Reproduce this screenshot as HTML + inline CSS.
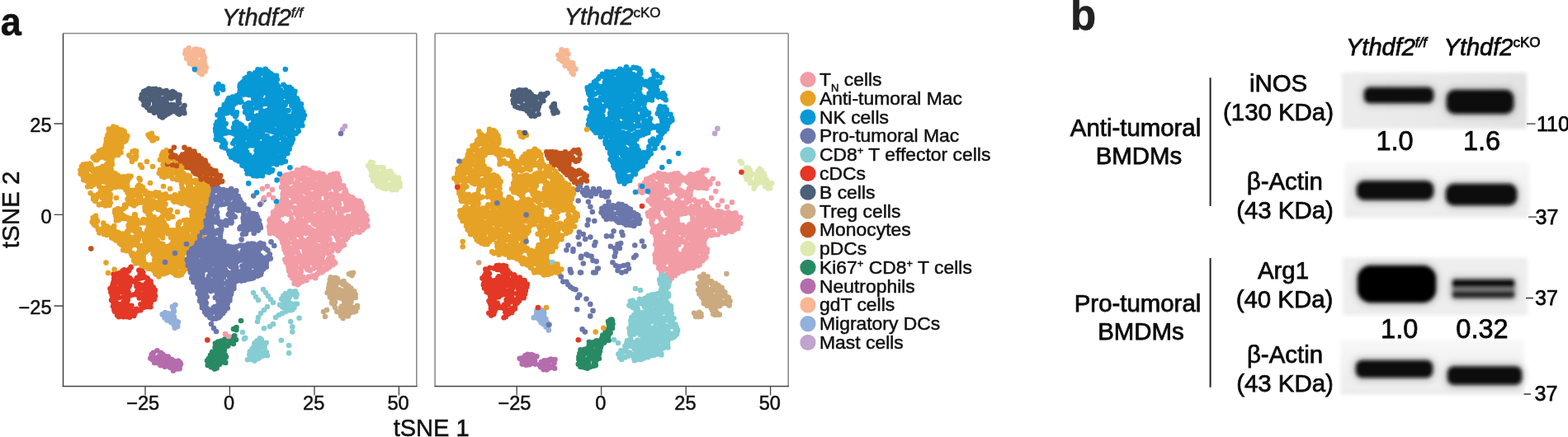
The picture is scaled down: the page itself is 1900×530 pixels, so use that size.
<!DOCTYPE html>
<html><head><meta charset="utf-8"><title>Figure</title>
<style>html,body{margin:0;padding:0;background:#fff;width:1900px;height:530px;overflow:hidden}svg{display:block}</style>
</head><body>
<svg width="1900" height="530" viewBox="0 0 1900 530">
<rect width="1900" height="530" fill="#fff"/>
<text transform="translate(0.8 43.3) scale(0.94 1)" font-size="48" font-weight="bold" fill="#111" font-family="'Liberation Sans', Arial, Helvetica, sans-serif" stroke="#111" stroke-width="0.5">a</text>
<text x="1297" y="36" font-size="51" font-weight="bold" fill="#222" font-family="'Liberation Sans', Arial, Helvetica, sans-serif" stroke="#111" stroke-width="0.5">b</text>
<line x1="76.5" y1="40.5" x2="504.8" y2="40.5" stroke="#8a8a8a" stroke-width="1.5"/>
<line x1="504.8" y1="40.5" x2="504.8" y2="468.4" stroke="#858585" stroke-width="1.5"/>
<line x1="76.5" y1="40.5" x2="76.5" y2="468.4" stroke="#444" stroke-width="1.5"/>
<line x1="75.75" y1="468.4" x2="505.55" y2="468.4" stroke="#444" stroke-width="1.5"/>
<line x1="527.1" y1="40.5" x2="955.2" y2="40.5" stroke="#8a8a8a" stroke-width="1.5"/>
<line x1="955.2" y1="40.5" x2="955.2" y2="468.4" stroke="#858585" stroke-width="1.5"/>
<line x1="527.1" y1="40.5" x2="527.1" y2="468.4" stroke="#858585" stroke-width="1.5"/>
<line x1="526.35" y1="468.4" x2="955.95" y2="468.4" stroke="#444" stroke-width="1.5"/>
<path d="M65.5 150.0H76.5M65.5 260.4H76.5M65.5 371.0H76.5M176.0 468.4V479.5M626.2 468.4V479.5M278.4 468.4V479.5M728.6 468.4V479.5M381.0 468.4V479.5M831.2 468.4V479.5M483.4 468.4V479.5M933.6 468.4V479.5" stroke="#444" stroke-width="1.3" fill="none"/>
<g font-family="'Liberation Sans', Arial, Helvetica, sans-serif" stroke="#111" stroke-width="0.5" font-size="23.6" fill="#111">
<text x="62.6" y="159.8" text-anchor="end">25</text>
<text x="62.6" y="270.5" text-anchor="end">0</text>
<text x="62.6" y="381.0" text-anchor="end">−25</text>
<text x="173.2" y="497.3" text-anchor="middle">−25</text>
<text x="623.4" y="497.3" text-anchor="middle">−25</text>
<text x="277.6" y="497.3" text-anchor="middle">0</text>
<text x="727.8" y="497.3" text-anchor="middle">0</text>
<text x="380.2" y="497.3" text-anchor="middle">25</text>
<text x="830.4" y="497.3" text-anchor="middle">25</text>
<text x="482.6" y="497.3" text-anchor="middle">50</text>
<text x="932.8" y="497.3" text-anchor="middle">50</text>
</g>
<text x="522.6" y="529.3" font-size="29" text-anchor="middle" fill="#111" font-family="'Liberation Sans', Arial, Helvetica, sans-serif" stroke="#111" stroke-width="0.5">tSNE 1</text>
<text transform="translate(22.6 254.4) rotate(-90)" font-size="29.5" text-anchor="middle" fill="#111" font-family="'Liberation Sans', Arial, Helvetica, sans-serif" stroke="#111" stroke-width="0.5">tSNE 2</text>
<text x="269" y="30.5" font-size="29" font-style="italic" fill="#222" font-family="'Liberation Sans', Arial, Helvetica, sans-serif" stroke="#111" stroke-width="0.5">Ythdf2<tspan font-size="17" dy="-9.8">f/f</tspan></text>
<text x="683.7" y="30.4" font-size="29" font-style="italic" fill="#222" font-family="'Liberation Sans', Arial, Helvetica, sans-serif" stroke="#111" stroke-width="0.5">Ythdf2<tspan font-size="17" font-style="normal" dy="-9.8">cKO</tspan></text>
<g fill="none" stroke-width="6.60" stroke-linecap="round">
<path stroke="#e6a225" d="M150.8 164.6h0M112.9 220.6h0M136.8 217.7h0M170.7 242.2h0M233.7 280.4h0M138.2 221.1h0M181.3 295.3h0M226.6 288.2h0M132.8 248.3h0M101.3 205.4h0M137.9 279.7h0M248.5 235.6h0M248.3 220.8h0M131.8 196.0h0M128.0 191.9h0M195.8 317.1h0M230.1 241.4h0M200.4 299.0h0M215.8 241.2h0M149.6 299.2h0M250.9 226.4h0M180.3 323.1h0M165.6 312.0h0M189.3 317.8h0M176.4 250.8h0M124.2 240.3h0M184.9 296.2h0M185.9 291.9h0M241.5 234.9h0M194.0 246.1h0M178.0 279.8h0M207.7 312.8h0M185.6 324.8h0M108.3 198.5h0M221.1 316.5h0M160.0 242.8h0M122.4 232.8h0M127.9 212.5h0M195.8 247.3h0M221.8 329.9h0M139.7 178.5h0M187.3 281.1h0M197.4 299.3h0M168.8 216.2h0M184.5 321.8h0M139.3 178.4h0M217.3 207.3h0M136.5 157.9h0M126.9 240.6h0M226.7 232.9h0M175.3 305.3h0M159.2 246.3h0M137.4 184.5h0M234.9 275.8h0M121.8 235.4h0M251.1 253.6h0M145.9 219.3h0M172.1 245.6h0M128.7 246.0h0M189.7 250.4h0M215.8 273.4h0M210.4 313.3h0M158.6 213.8h0M238.3 268.0h0M213.2 301.2h0M176.8 305.3h0M224.4 303.8h0M189.4 315.7h0M205.1 279.9h0M133.3 160.8h0M117.9 220.1h0M185.4 268.1h0M196.1 277.6h0M223.3 289.7h0M176.6 251.4h0M213.7 200.5h0M108.6 202.9h0M214.1 330.7h0M214.7 209.9h0M106.4 203.5h0M203.4 279.7h0M204.0 207.5h0M178.7 238.7h0M237.5 281.7h0M119.1 217.0h0M243.7 283.4h0M140.5 163.9h0M196.9 319.4h0M246.0 254.0h0M216.2 271.1h0M142.2 164.0h0M144.0 288.1h0M200.9 209.3h0M123.4 184.3h0M151.1 171.6h0M187.2 314.7h0M162.5 249.4h0M156.6 216.0h0M106.7 205.1h0M176.7 268.4h0M160.2 235.4h0M238.9 240.3h0M179.7 277.8h0M199.2 209.8h0M197.7 280.8h0M180.0 260.0h0M237.0 240.7h0M134.1 199.6h0M145.6 159.1h0M202.7 321.6h0M132.8 161.3h0M205.1 190.8h0M223.2 288.1h0M132.2 230.2h0M202.3 325.8h0M120.0 225.9h0M156.1 214.8h0M141.2 218.4h0M153.4 302.9h0M227.2 233.0h0M127.4 220.7h0M215.3 316.8h0M248.7 266.1h0M138.4 284.1h0M242.2 269.2h0M165.0 243.9h0M224.1 288.0h0M227.3 294.2h0M147.5 220.3h0M136.0 166.8h0M138.8 170.3h0M195.2 276.4h0M215.4 307.5h0M225.0 272.7h0M172.1 302.5h0M103.2 208.0h0M115.7 189.3h0M251.1 260.1h0M244.3 222.1h0M234.2 236.0h0M191.4 266.7h0M131.3 221.5h0M119.2 191.9h0M200.2 191.8h0M204.4 188.5h0M122.8 280.2h0M146.4 257.1h0M198.4 318.8h0M155.6 245.9h0M120.0 206.1h0M179.5 321.6h0M128.1 178.0h0M243.7 224.9h0M240.2 266.7h0M161.0 307.4h0M131.4 227.1h0M211.8 316.5h0M191.9 254.1h0M196.3 210.3h0M163.4 260.0h0M164.3 273.7h0M167.7 234.0h0M217.9 295.4h0M213.1 295.0h0M212.9 301.7h0M221.8 322.5h0M107.2 218.3h0M176.5 320.6h0M129.9 202.5h0M204.6 316.2h0M235.3 255.0h0M188.8 313.9h0M223.3 202.8h0M154.0 292.7h0M198.2 332.1h0M189.7 274.5h0M113.7 219.4h0M195.8 240.6h0M135.5 182.0h0M177.2 270.6h0M221.0 283.8h0M215.0 238.9h0M132.7 174.1h0M133.7 162.2h0M150.0 290.0h0M207.1 307.2h0M214.8 325.1h0M215.1 214.0h0M196.8 279.8h0M171.3 306.2h0M207.5 309.4h0M166.2 285.5h0M207.4 287.7h0M154.5 302.2h0M113.8 192.2h0M197.4 303.6h0M197.0 206.9h0M100.1 201.3h0M141.6 283.9h0M249.7 245.8h0M166.0 294.2h0M217.7 331.0h0M174.8 298.5h0M126.1 244.1h0M114.3 269.7h0M207.4 296.7h0M129.5 202.5h0M239.7 245.3h0M181.1 290.9h0M216.2 271.4h0M123.7 234.1h0M116.8 238.3h0M127.2 209.4h0M208.3 306.9h0M136.1 213.9h0M112.9 224.3h0M113.8 192.3h0M160.1 297.4h0M197.1 238.5h0M161.0 288.4h0M240.8 232.5h0M187.8 289.9h0M211.4 313.5h0M219.6 281.1h0M232.0 277.4h0M220.9 283.4h0M164.0 237.0h0M203.9 322.5h0M125.9 272.9h0M246.0 248.6h0M182.6 284.2h0M178.0 270.1h0M130.1 278.3h0M159.1 292.3h0M163.5 280.8h0M245.9 250.0h0M225.2 269.3h0M226.7 302.0h0M229.0 219.0h0M164.4 188.6h0M164.8 269.8h0M200.8 200.1h0M193.3 295.7h0M202.8 315.9h0M221.8 306.0h0M128.1 279.8h0M181.0 288.6h0M166.4 313.9h0M134.0 180.2h0M174.7 244.8h0M202.3 306.3h0M156.3 230.5h0M197.8 269.6h0M205.1 322.7h0M177.8 242.3h0M180.2 293.8h0M130.2 233.4h0M228.1 227.8h0M144.3 260.6h0M197.5 296.2h0M237.3 253.3h0M104.7 209.2h0M242.9 264.6h0M241.1 265.2h0M194.6 267.9h0M204.8 193.4h0M219.6 319.6h0M227.3 296.6h0M198.6 323.1h0M242.5 235.5h0M190.7 323.8h0M252.4 240.7h0M199.0 193.4h0M210.0 309.0h0M196.5 282.7h0M146.2 286.4h0M166.4 276.9h0M158.0 296.6h0M208.3 304.0h0M149.5 264.1h0M164.8 314.9h0M192.3 316.3h0M163.8 260.7h0M205.4 319.5h0M151.8 170.5h0M184.6 298.6h0M193.1 277.1h0M222.4 237.9h0M188.7 316.5h0M237.2 249.0h0M126.8 189.8h0M125.5 281.3h0M160.7 248.2h0M113.7 269.0h0M234.2 242.6h0M137.1 162.0h0M128.7 187.7h0M198.4 327.2h0M132.0 162.1h0M137.4 218.5h0M221.5 282.8h0M216.5 324.1h0M204.2 208.9h0M190.6 291.5h0M113.5 213.4h0M137.6 177.5h0M134.6 180.9h0M119.0 235.6h0M168.6 216.3h0M227.3 241.1h0M132.0 165.4h0M121.5 203.9h0M230.0 215.3h0M202.8 193.2h0M112.3 207.2h0M212.0 208.0h0M224.8 216.5h0M126.3 233.5h0M193.3 244.3h0M193.9 282.5h0M225.4 215.5h0M241.2 240.9h0M157.3 290.3h0M248.1 244.2h0M178.2 250.6h0M207.7 190.3h0M188.2 249.2h0M234.7 284.1h0M175.1 245.2h0M141.2 177.1h0M190.7 310.0h0M220.0 216.1h0M134.9 215.4h0M224.4 319.3h0M165.5 246.0h0M245.4 269.1h0M198.6 203.0h0M204.4 204.4h0M182.8 321.4h0M248.4 247.6h0M187.2 272.1h0M194.0 239.5h0M132.0 247.3h0M185.1 243.6h0M235.0 234.3h0M166.6 287.4h0M121.3 215.8h0M194.6 308.0h0M214.0 288.9h0M217.3 240.6h0M221.3 282.6h0M221.1 312.1h0M168.5 237.5h0M211.5 207.9h0M221.6 308.0h0M176.0 235.0h0M126.0 209.9h0M186.4 244.6h0M178.9 248.2h0M112.5 222.5h0M187.9 313.4h0M249.8 242.7h0M166.6 267.5h0M180.9 301.9h0M123.9 212.4h0M238.7 279.2h0M237.7 230.9h0M121.6 207.3h0M178.0 246.0h0M126.7 188.0h0M196.7 263.6h0M162.1 296.8h0M202.8 190.5h0M175.8 254.7h0M179.7 303.2h0M194.0 300.2h0M219.0 213.2h0M123.7 203.1h0M168.2 224.5h0M189.2 327.8h0M166.5 266.7h0M136.4 163.1h0M192.4 327.8h0M135.4 225.3h0M173.6 297.7h0M135.4 186.4h0M127.1 206.2h0M134.4 161.5h0M111.5 203.7h0M152.8 285.1h0M239.5 260.8h0M178.2 252.8h0M157.9 273.4h0M143.9 167.0h0M117.8 204.9h0M162.3 273.7h0M231.1 218.5h0M196.5 187.9h0M213.2 283.3h0M122.5 190.8h0M144.9 223.7h0M103.1 211.1h0M198.0 187.5h0M165.8 278.2h0M229.1 294.8h0M142.2 162.9h0M104.3 199.1h0M215.4 304.2h0M141.4 171.4h0M246.9 231.4h0M244.3 279.6h0M214.0 304.4h0M196.4 236.6h0M164.8 247.2h0M208.3 300.1h0M106.2 219.5h0M162.1 191.4h0M178.6 235.2h0M245.2 218.4h0M183.8 291.9h0M191.8 238.1h0M218.3 304.7h0M115.0 207.2h0M106.4 205.7h0M128.1 281.4h0M252.3 256.5h0M242.6 271.1h0M196.4 323.4h0M200.3 200.4h0M135.8 180.1h0M228.5 288.7h0M227.7 212.8h0M134.8 162.6h0M186.7 268.2h0M226.8 282.1h0M175.2 245.0h0M121.8 209.1h0M221.6 231.7h0M202.5 303.7h0M249.3 266.7h0M204.1 264.7h0M143.9 257.9h0M247.9 241.6h0M199.5 209.0h0M238.0 253.8h0M137.0 172.3h0M166.5 310.5h0M184.1 283.7h0M249.1 256.4h0M134.4 222.1h0M130.6 209.1h0M237.7 266.9h0M235.1 256.4h0M151.0 292.5h0M204.7 303.7h0M116.3 222.3h0M213.7 325.7h0M183.9 299.6h0M127.5 235.5h0M235.6 252.0h0M206.2 300.5h0M230.8 225.9h0M235.3 265.0h0M108.9 214.4h0M123.7 220.1h0M149.8 158.9h0M203.2 204.2h0M185.7 293.8h0M235.2 294.4h0M197.2 269.3h0M245.7 277.7h0M145.0 292.5h0M106.4 215.8h0M168.7 235.3h0M242.9 260.1h0M188.9 332.8h0M153.4 294.5h0M164.7 311.3h0M137.7 159.3h0M122.9 203.4h0M192.4 310.6h0M199.6 190.6h0M213.2 328.4h0M235.6 270.3h0M148.6 289.9h0M243.6 256.6h0M194.2 285.4h0M149.0 172.0h0M225.9 231.3h0M182.2 261.0h0M184.8 273.4h0M214.3 201.6h0M209.6 292.5h0M219.9 210.8h0M219.3 330.9h0M179.8 324.4h0M245.8 220.9h0M120.5 187.1h0M213.8 320.9h0M252.6 244.9h0M223.8 237.9h0M160.6 310.6h0M246.7 268.0h0M132.4 200.5h0M133.5 191.7h0M217.2 270.8h0M216.0 303.2h0M141.6 214.8h0M173.8 315.4h0M122.5 278.0h0M191.6 236.7h0M188.7 314.0h0M154.0 295.4h0M144.0 159.6h0M210.4 313.8h0M115.9 242.8h0M125.2 278.4h0M242.5 218.0h0M236.9 286.7h0M140.1 187.1h0M138.8 167.6h0M183.1 253.9h0M235.4 284.3h0M193.2 321.8h0M128.3 176.1h0M230.5 296.2h0M206.9 213.5h0M199.3 253.9h0M232.2 246.9h0M180.3 265.4h0M204.2 213.1h0M196.6 252.8h0M171.9 284.9h0M179.6 240.9h0M131.9 180.7h0M243.9 250.3h0M179.9 250.0h0M169.8 270.4h0M157.3 304.8h0M113.1 219.3h0M172.7 298.7h0M155.6 216.3h0M210.7 204.6h0M197.7 309.6h0M128.8 231.3h0M209.8 208.3h0M161.5 271.7h0M225.4 218.5h0M149.1 167.9h0M180.2 244.5h0M170.2 238.3h0M230.0 229.8h0M171.9 315.3h0M166.6 243.5h0M178.0 303.5h0M218.8 293.6h0M209.6 242.0h0M163.1 260.2h0M104.9 209.9h0M170.4 243.1h0M242.6 255.2h0M104.9 211.7h0M167.4 313.1h0M243.1 256.1h0M221.2 326.2h0M162.6 273.7h0M157.1 270.4h0M245.8 249.8h0M142.9 217.8h0M215.8 244.5h0M173.7 310.6h0M191.6 252.4h0M191.8 329.1h0M144.1 167.7h0M184.3 296.9h0M191.3 238.2h0M152.8 222.6h0M202.0 184.7h0M235.3 241.5h0M175.5 251.6h0M115.5 239.3h0M128.2 227.8h0M129.1 178.0h0M174.3 297.4h0M187.3 279.1h0M191.2 296.2h0M194.9 279.6h0M226.0 216.7h0M225.4 238.2h0M245.9 229.3h0M172.9 244.6h0M220.4 318.5h0M230.9 296.6h0M240.3 289.2h0M228.8 299.4h0M227.7 296.3h0M249.2 250.8h0M133.6 190.8h0M174.9 318.5h0M205.5 282.9h0M159.0 296.1h0M222.7 278.0h0M200.3 305.6h0M150.7 262.2h0M229.4 297.8h0M225.7 230.5h0M192.7 237.5h0M195.0 207.7h0M110.8 203.9h0M201.6 300.3h0M126.0 204.0h0M248.7 220.4h0M193.6 315.9h0M159.4 245.0h0M248.4 246.3h0M168.9 300.7h0M136.6 218.5h0M233.6 247.6h0M238.6 275.0h0M179.6 276.9h0M240.7 244.8h0M167.8 290.3h0M238.1 286.3h0M159.0 289.6h0M198.6 205.7h0M217.7 207.5h0M224.5 276.8h0M209.4 279.4h0M140.8 184.3h0M188.0 303.7h0M222.7 217.6h0M146.3 164.8h0M144.0 224.1h0M126.5 210.8h0M168.2 305.7h0M216.9 239.7h0M185.4 275.8h0M216.2 204.7h0M216.3 277.1h0M114.5 210.4h0M199.1 329.1h0M197.3 279.6h0M224.6 218.1h0M181.2 248.9h0M203.0 317.3h0M118.0 216.1h0M202.7 259.1h0M221.9 306.0h0M216.4 245.2h0M214.6 302.8h0M199.7 313.2h0M140.4 167.3h0M192.5 303.4h0M132.3 172.1h0M224.0 219.9h0M229.8 213.7h0M184.8 300.4h0M196.7 285.5h0M168.8 278.0h0M178.7 234.1h0M128.2 281.7h0M128.0 203.0h0M185.7 281.3h0M211.4 284.6h0M138.7 219.1h0M224.4 237.0h0M172.3 303.0h0M186.2 246.5h0M130.0 200.5h0M209.4 325.2h0M252.3 233.7h0M228.5 296.5h0M237.8 251.2h0M108.1 213.3h0M195.9 314.4h0M173.7 270.2h0M129.5 199.0h0M240.5 224.0h0M116.8 191.1h0M197.7 282.3h0M203.5 283.5h0M206.6 240.0h0M133.1 225.7h0M221.8 303.3h0M197.3 288.5h0M131.7 276.0h0M244.4 270.0h0M122.6 247.3h0M185.0 302.9h0M176.5 266.7h0M191.1 299.0h0M228.4 301.1h0M199.9 192.4h0M251.7 253.4h0M212.6 308.0h0M193.0 331.2h0M179.3 237.1h0M161.4 265.1h0M199.7 320.0h0M213.0 298.4h0M204.8 308.0h0M165.1 313.1h0M166.9 282.2h0M216.2 204.5h0M149.0 293.7h0M219.7 315.2h0M181.0 272.1h0M182.2 323.9h0M206.2 329.2h0M99.0 202.0h0M124.8 234.0h0M205.7 279.4h0M215.1 290.6h0M130.0 201.9h0M190.6 273.2h0M191.6 280.2h0M145.0 166.7h0M244.7 216.8h0M203.2 205.1h0M201.4 260.7h0M201.7 187.7h0M252.7 224.1h0M200.3 257.6h0M132.2 166.8h0M154.5 285.1h0M136.7 221.0h0M142.1 223.7h0M198.5 240.0h0M202.1 305.6h0M134.1 160.5h0M169.8 283.1h0M245.3 255.0h0M246.5 249.6h0M134.8 185.9h0M110.0 202.9h0M243.4 238.1h0M129.4 274.4h0M252.9 241.8h0M200.4 247.7h0M192.8 272.3h0M232.8 221.3h0M189.3 324.1h0M160.6 277.3h0M185.9 283.2h0M179.6 259.7h0M134.0 185.3h0M189.7 236.5h0M201.8 309.9h0M246.2 228.5h0M200.4 247.4h0M201.2 260.6h0M223.9 316.8h0M134.3 221.1h0M179.9 277.0h0M195.8 240.0h0M203.4 299.0h0M204.3 282.7h0M199.5 187.6h0M130.9 203.0h0M161.2 230.9h0M246.3 258.9h0M218.4 305.4h0M198.6 269.3h0M208.6 329.0h0M211.9 204.2h0M124.3 280.3h0M138.9 283.1h0M195.8 280.5h0M244.1 256.0h0M223.2 299.4h0M224.3 297.5h0M133.5 172.0h0M202.0 256.8h0M118.7 189.8h0M181.4 285.5h0M131.9 207.5h0M198.3 279.5h0M194.3 317.4h0M129.3 211.1h0M201.9 202.1h0M219.1 303.9h0M210.4 327.6h0M222.8 210.9h0M146.9 284.9h0M202.8 195.1h0M209.8 293.7h0M155.8 235.5h0M169.1 269.7h0M141.0 161.9h0M117.3 239.0h0M195.0 209.1h0M110.4 226.0h0M105.0 207.0h0M170.6 284.0h0M193.0 316.9h0M139.0 221.0h0M161.9 269.5h0M237.5 291.1h0M212.3 290.9h0M227.0 217.3h0M183.7 237.1h0M150.6 296.0h0M220.9 311.6h0M130.8 216.4h0M136.4 173.2h0M148.7 159.9h0M170.1 227.4h0M224.1 326.8h0M238.7 239.8h0M239.5 287.1h0M190.0 304.3h0M179.1 242.2h0M162.9 313.5h0M202.4 192.6h0M154.3 220.5h0M165.4 284.2h0M179.9 302.7h0M221.9 219.3h0M209.4 322.4h0M128.8 209.5h0M149.0 286.9h0M241.2 254.3h0M217.3 311.4h0M177.8 322.9h0M196.9 299.7h0M164.0 263.5h0M163.5 247.5h0M210.5 289.8h0M134.4 201.2h0M192.4 317.8h0M211.1 289.9h0M209.7 283.0h0M246.5 234.8h0M223.2 277.0h0M119.4 237.9h0M150.1 293.0h0M122.4 228.9h0M194.9 209.7h0M125.9 241.5h0M208.0 329.1h0M231.5 286.2h0M242.8 227.4h0M184.7 274.4h0M213.4 325.9h0M119.9 221.0h0M231.9 297.4h0M190.4 277.0h0M101.1 213.3h0M172.9 244.3h0M152.3 250.9h0M244.2 270.1h0M158.2 264.7h0M221.5 202.1h0M122.2 279.3h0M106.0 202.6h0M213.1 284.7h0M184.2 321.0h0M215.4 309.6h0M235.3 290.7h0M191.5 330.8h0M203.5 329.5h0M125.4 182.6h0M152.5 287.8h0M166.5 297.4h0M188.1 236.4h0M236.6 263.3h0M241.9 256.0h0M119.4 186.7h0M157.6 279.4h0M162.5 275.5h0M187.2 286.2h0M221.8 302.9h0M147.3 291.4h0M187.7 318.3h0M140.7 175.6h0M235.0 234.6h0M200.6 205.2h0M225.0 291.6h0M169.2 310.5h0M170.5 239.5h0M210.8 286.3h0M126.3 245.1h0M244.3 240.4h0M240.6 265.4h0M196.9 251.0h0M232.4 234.9h0M224.6 277.8h0M170.3 303.2h0M122.3 278.2h0M171.4 243.9h0M139.3 221.3h0M184.7 292.2h0M237.3 221.3h0M250.1 224.4h0M116.5 206.3h0M196.6 256.4h0M197.4 252.9h0M233.6 275.7h0M154.0 263.9h0M229.5 275.5h0M205.3 321.8h0M190.3 303.4h0M250.1 228.0h0M139.7 181.8h0M200.4 184.2h0M137.3 180.7h0M190.2 299.2h0M203.1 305.3h0M168.6 245.7h0M243.3 263.8h0M109.9 214.8h0M178.0 323.6h0M135.6 183.0h0M241.1 282.2h0M164.8 185.0h0M231.2 271.7h0M214.6 284.1h0M132.1 226.8h0M203.2 195.2h0M160.4 279.0h0M165.1 183.2h0M205.6 280.6h0M188.5 330.8h0M147.9 164.9h0M189.3 285.2h0M155.0 283.3h0M233.9 269.7h0M157.2 275.9h0M234.0 261.0h0M247.1 256.9h0M156.1 247.0h0M202.1 188.5h0M218.9 281.7h0M209.2 302.4h0M173.4 286.7h0M130.6 236.5h0M153.8 290.9h0M200.6 276.8h0M197.6 279.9h0M140.1 166.1h0M249.4 249.6h0M203.1 329.0h0M223.0 287.7h0M209.7 316.2h0M166.5 230.9h0M125.9 183.6h0M166.5 226.7h0M155.8 292.1h0M195.9 189.1h0M147.9 161.7h0M192.3 246.9h0M116.2 193.5h0M223.1 300.9h0M220.2 306.6h0M155.3 233.0h0M177.8 244.0h0M153.6 215.5h0M141.9 170.4h0M248.3 221.6h0M115.0 273.2h0M248.6 220.1h0M201.9 274.7h0M167.6 228.2h0M169.3 304.8h0M156.3 287.1h0M173.5 266.1h0M118.2 210.7h0M194.6 295.4h0M186.7 290.6h0M212.3 203.3h0M122.2 207.8h0M253.8 234.3h0M184.4 265.3h0M207.7 238.6h0M221.5 237.2h0M141.4 289.1h0M132.4 194.3h0M248.1 221.4h0M177.7 245.3h0M215.0 312.7h0M151.9 286.9h0M242.5 240.0h0M177.2 296.7h0M152.9 301.3h0M111.8 204.8h0M197.6 241.9h0M131.4 233.8h0M184.4 263.4h0M220.1 207.7h0M233.6 296.6h0M204.4 301.8h0M166.1 276.3h0M127.0 240.6h0M176.7 305.7h0M220.7 210.3h0M187.7 271.8h0M155.8 241.5h0M184.2 287.0h0M136.2 170.3h0M136.9 170.7h0M155.7 297.0h0M178.0 234.4h0M166.1 293.4h0M228.6 240.8h0M125.1 228.3h0M238.2 228.5h0M201.6 255.8h0M196.3 268.8h0M230.5 239.7h0M117.6 209.2h0M209.8 286.2h0M201.0 273.5h0M148.4 262.6h0M203.1 206.8h0M222.2 210.2h0M183.4 300.5h0M159.5 245.3h0M250.2 224.1h0M199.3 304.9h0M159.2 291.0h0M141.0 174.9h0M166.7 292.4h0M140.6 182.6h0M144.8 260.6h0M144.6 283.9h0M116.9 240.3h0M132.1 169.8h0M227.0 230.2h0M246.6 228.6h0M191.6 310.4h0M211.2 205.1h0M176.7 284.6h0M124.7 201.8h0M170.2 283.5h0M113.4 240.7h0M199.8 278.8h0M249.1 225.5h0M207.2 288.3h0M187.1 247.9h0M254.2 238.9h0M214.6 283.8h0M221.7 240.7h0M146.4 221.4h0M223.5 306.7h0M230.8 275.6h0M123.8 183.2h0M136.9 159.6h0M189.1 245.8h0M250.7 222.1h0M225.2 280.3h0M184.0 301.4h0M187.7 295.3h0M196.4 262.9h0M244.0 221.9h0M113.0 215.1h0M208.8 322.7h0M199.2 274.3h0M167.5 238.2h0M217.3 212.3h0M114.2 266.6h0M205.2 315.7h0M167.5 297.8h0M197.0 186.4h0M162.4 308.0h0M134.5 210.0h0M199.2 246.1h0M148.1 264.3h0M207.5 328.9h0M236.1 274.8h0M244.0 257.1h0M241.7 257.0h0M212.1 329.4h0M195.7 241.1h0M197.4 251.1h0M208.6 325.5h0M199.6 299.1h0M134.6 223.7h0M132.7 281.9h0M180.7 264.1h0M148.4 260.7h0M151.7 299.7h0M219.6 323.4h0M99.8 203.9h0M118.0 209.8h0M226.9 302.8h0M218.4 294.2h0M197.3 304.9h0M205.3 307.8h0M218.3 210.3h0M112.4 205.9h0M219.2 239.1h0M113.7 217.9h0M110.1 199.6h0M202.1 312.3h0M161.7 236.0h0M210.1 296.2h0M181.1 281.0h0M233.8 270.0h0M137.8 173.7h0M176.4 293.4h0M121.7 233.0h0M253.9 241.7h0M238.3 222.8h0M116.4 269.7h0M214.2 321.2h0M201.5 210.5h0M167.6 239.4h0M243.7 241.1h0M242.9 270.3h0M235.2 229.5h0M156.2 304.2h0M171.1 229.1h0M188.2 315.3h0M246.7 269.1h0M189.3 235.6h0M252.6 229.6h0M190.5 252.8h0M151.7 295.9h0M220.6 234.6h0M182.1 251.0h0M202.7 279.1h0M200.6 195.5h0M126.3 187.8h0M226.2 236.7h0M181.3 270.0h0M112.7 215.3h0M210.8 209.4h0M133.7 281.8h0M144.2 285.2h0M152.3 292.0h0M187.7 301.8h0M218.9 211.8h0M184.1 291.1h0M137.9 274.9h0M167.1 287.0h0M202.9 192.2h0M181.7 262.7h0M146.1 216.9h0M112.0 217.9h0M215.7 280.3h0M165.1 316.7h0M145.8 157.6h0M130.5 176.2h0M219.6 285.4h0M229.1 218.2h0M103.4 204.5h0M195.6 310.0h0M116.9 194.3h0M218.1 239.7h0M183.4 324.4h0M219.6 289.9h0M221.1 285.2h0M161.9 290.2h0M157.8 299.6h0M171.6 301.3h0M208.5 286.0h0M243.3 234.0h0M191.2 301.7h0M140.5 160.4h0M130.1 181.5h0M239.2 274.7h0M230.2 286.8h0M175.0 243.5h0M235.8 230.7h0M187.2 315.2h0M177.9 247.4h0M146.5 177.5h0M242.8 242.3h0M236.2 280.6h0M212.6 291.6h0M144.7 286.3h0M191.2 294.7h0M123.4 217.1h0M227.5 299.9h0M130.2 174.4h0M211.6 289.2h0M178.6 256.3h0M242.9 271.8h0M200.9 261.1h0M175.1 291.3h0M164.4 231.0h0M154.2 225.5h0M159.5 235.9h0M134.8 157.9h0M148.2 165.7h0M207.5 298.5h0M202.4 240.3h0M133.1 216.8h0M161.9 267.3h0M239.7 247.8h0M123.1 189.8h0M117.7 193.6h0M219.6 317.6h0M180.1 277.8h0M129.6 187.0h0M107.8 201.9h0M141.2 217.5h0M222.2 297.0h0M207.5 314.3h0M150.9 163.5h0M112.8 190.9h0M198.8 277.8h0M136.1 184.8h0M196.6 273.3h0M178.3 240.8h0M184.6 285.9h0M238.6 239.4h0M205.7 298.0h0M201.3 212.6h0M208.7 298.3h0M217.6 279.8h0M155.7 216.9h0M169.9 301.2h0M178.2 289.3h0M236.8 218.7h0M233.4 291.9h0M184.7 252.2h0M224.7 279.7h0M181.1 293.7h0M239.7 289.6h0M159.9 241.3h0M220.9 277.5h0M145.1 286.8h0M174.0 298.7h0M186.1 299.9h0M210.1 243.2h0M150.4 283.6h0M227.4 222.2h0M145.7 263.6h0M116.4 217.3h0M140.2 165.3h0M203.7 256.1h0M213.4 279.1h0M210.1 239.9h0M139.8 287.8h0M190.3 303.7h0M213.1 332.1h0M137.0 159.8h0M188.4 323.1h0M134.4 282.6h0M169.6 298.1h0M230.5 228.7h0M185.5 307.8h0M243.0 234.2h0M126.2 229.2h0M190.1 331.5h0M132.2 234.2h0M122.6 227.5h0M207.9 213.5h0M112.9 268.0h0M217.1 240.2h0M126.3 238.6h0M196.8 288.0h0M136.1 279.3h0M245.7 233.7h0M200.2 311.0h0M129.1 217.3h0M244.3 275.6h0M197.1 191.6h0M232.6 229.6h0M195.1 252.6h0M144.2 264.8h0M213.5 281.1h0M228.6 276.2h0M196.8 211.4h0M150.8 217.9h0M225.2 297.1h0M252.7 229.8h0M219.1 299.3h0M189.0 332.7h0M219.6 321.9h0M148.3 216.6h0M218.5 215.7h0M162.4 289.1h0M208.2 314.8h0M146.2 177.4h0M197.1 322.9h0M124.1 202.7h0M173.2 318.8h0M188.4 269.8h0M189.6 296.4h0M137.9 223.9h0M213.9 243.8h0M239.6 237.4h0M176.3 256.1h0M115.4 212.6h0M194.9 276.3h0M196.5 266.7h0M124.1 217.5h0M226.7 304.9h0M118.4 205.2h0M198.4 269.8h0M135.2 181.6h0M109.0 218.2h0M237.4 273.2h0M190.6 250.5h0M186.6 263.3h0M246.9 226.3h0M131.9 282.8h0M174.4 232.0h0M208.9 285.5h0M246.0 235.6h0M145.7 174.1h0M124.1 235.0h0M141.4 218.4h0M147.5 288.7h0M175.0 298.3h0M129.5 221.5h0M250.0 234.2h0M188.1 328.4h0M198.6 262.1h0M228.2 215.3h0M181.6 259.9h0M221.0 283.4h0M237.9 219.4h0M225.9 240.0h0M238.2 241.1h0M137.7 182.3h0M187.8 310.4h0M193.5 310.0h0M248.1 262.1h0M189.2 237.9h0M158.4 236.1h0M237.8 236.3h0M113.4 237.2h0M178.9 296.5h0M126.3 205.4h0M108.9 225.1h0M178.6 252.2h0M228.5 279.5h0M105.1 202.6h0M197.8 329.3h0M217.7 240.2h0M115.6 194.0h0M195.8 309.4h0M239.0 256.3h0M193.0 265.6h0M186.5 309.0h0M155.3 233.3h0M198.1 187.8h0M171.9 283.4h0M146.6 262.9h0M227.0 239.2h0M119.9 248.4h0M122.7 247.9h0M127.6 249.4h0M132.5 248.9h0M133.7 246.1h0M132.4 243.6h0M133.6 240.0h0M133.7 236.0h0M132.8 230.1h0M134.8 228.4h0M137.8 224.2h0M140.4 227.0h0M145.0 226.4h0M149.4 227.0h0M152.5 226.8h0M152.4 230.2h0M154.4 233.4h0M156.5 238.4h0M154.6 241.5h0M155.5 246.0h0M151.1 248.5h0M149.9 252.9h0M146.7 254.1h0M143.0 253.1h0M139.3 254.9h0M139.0 257.5h0M140.2 261.2h0M141.0 265.2h0M125.3 270.5h0M118.1 268.0h0M116.7 266.5h0M116.0 261.9h0M112.7 264.1h0M111.7 269.1h0M113.3 271.4h0M116.6 273.9h0M118.9 278.4h0M120.4 282.4h0M125.9 284.0h0M129.2 285.0h0M133.9 285.2h0M135.3 288.5h0M138.9 289.9h0M140.4 291.5h0M144.7 295.0h0M146.9 296.8h0M149.2 303.3h0M153.3 304.2h0M156.8 303.7h0M159.1 307.9h0M160.3 310.6h0M162.1 316.1h0M164.5 319.4h0M169.3 319.2h0M172.0 323.3h0M173.8 324.2h0M179.6 325.7h0M182.6 326.1h0M186.5 328.3h0M188.2 331.6h0M192.4 335.5h0M195.3 332.3h0M199.1 331.9h0M202.4 330.8h0M207.2 329.7h0M210.2 331.1h0M212.8 333.4h0M216.8 334.3h0M219.9 332.9h0M222.3 328.7h0M226.2 326.3h0M225.8 321.7h0M227.0 318.1h0M224.8 315.1h0M230.4 306.8h0M230.5 304.0h0M231.8 299.3h0M234.6 298.0h0M236.5 295.2h0M239.7 292.9h0M242.8 288.9h0M245.3 286.1h0M247.2 283.2h0M248.7 277.8h0M247.5 273.5h0M249.9 270.2h0M251.5 265.8h0M249.7 261.9h0M252.8 258.8h0M254.8 253.6h0M254.1 250.6h0M254.1 245.4h0M253.2 242.3h0M255.8 238.0h0M256.9 233.2h0M257.6 230.8h0M256.5 224.5h0M254.4 221.3h0M249.8 221.6h0M247.0 218.0h0M244.2 213.7h0M221.1 198.2h0M218.2 197.7h0M213.8 198.9h0M211.0 194.1h0M208.4 190.5h0M207.3 187.8h0M205.6 185.6h0M201.7 182.3h0M197.8 184.6h0M195.8 188.6h0M193.9 193.8h0M198.6 196.0h0M197.6 199.8h0M198.2 204.4h0M194.0 206.1h0M192.8 210.0h0M196.0 213.7h0M199.0 214.9h0M203.3 213.5h0M207.5 214.0h0M209.1 216.8h0M214.3 218.0h0M218.2 218.6h0M221.5 218.3h0M219.9 222.9h0M220.6 227.4h0M221.8 233.1h0M218.7 234.2h0M217.1 237.5h0M212.1 236.3h0M208.4 238.7h0M203.8 238.6h0M200.6 235.3h0M197.6 236.6h0M192.5 233.7h0M188.7 233.3h0M184.4 235.0h0M181.4 234.6h0M178.7 234.0h0M175.9 231.5h0M173.0 227.3h0M170.9 225.9h0M169.8 218.3h0M155.5 213.5h0M152.9 214.5h0M149.9 214.2h0M144.7 214.4h0M142.3 212.3h0M138.8 210.1h0M134.3 209.0h0M134.6 205.7h0M135.9 199.6h0M135.6 197.5h0M135.6 192.9h0M135.2 190.0h0M138.2 188.8h0M143.0 188.0h0M146.6 185.1h0M145.2 180.7h0M147.2 178.5h0M147.6 173.9h0M152.3 170.8h0M153.1 168.7h0M154.2 164.9h0M150.7 159.8h0M147.3 157.6h0M143.4 156.9h0M141.2 154.9h0M137.4 153.6h0M131.8 156.6h0M132.0 161.4h0M130.4 164.0h0M128.9 168.6h0M128.7 172.7h0M127.9 176.2h0M127.2 179.4h0M123.1 181.7h0M119.8 183.3h0M116.7 188.2h0M113.1 190.6h0M100.8 199.6h0M99.5 202.2h0M97.5 206.2h0M97.6 210.8h0M100.5 213.5h0M101.2 218.3h0M104.8 219.5h0M107.8 221.5h0M106.2 226.5h0M109.7 234.3h0M113.2 239.2h0M113.1 241.5h0M115.3 243.9h0M211.3 244.8h0M215.5 244.8h0M220.2 246.9h0M222.2 244.4h0M226.5 246.7h0M228.8 248.4h0M232.2 250.2h0M235.0 253.8h0M232.1 256.7h0M232.8 261.6h0M232.7 266.7h0M229.2 267.0h0M226.4 266.8h0M222.9 267.3h0M217.7 269.3h0M209.2 262.9h0M204.7 261.7h0M205.4 258.6h0M206.6 254.7h0M140.8 267.4h0M143.8 266.9h0M147.7 264.9h0M150.7 265.0h0M154.6 265.8h0M157.8 269.8h0M155.6 273.2h0M156.1 277.5h0M154.2 280.9h0M151.1 284.0h0M148.5 283.6h0M143.6 282.0h0M140.4 281.0h0M138.0 277.3h0M138.3 274.1h0M163.9 192.8h0M164.7 188.1h0M163.2 182.8h0M160.5 183.8h0M156.4 188.2h0M158.8 190.8h0"/>
<path stroke="#e6a225" d="M183.5 168.1h0M183.4 163.6h0M182.9 162.6h0M179.6 163.6h0M181.2 166.1h0M184.7 170.4h0M186.3 166.8h0M183.9 161.9h0"/>
<path stroke="#6b76ab" d="M307.3 300.0h0M267.4 354.5h0M292.8 313.6h0M302.5 335.6h0M268.9 322.6h0M278.4 313.6h0M303.3 314.2h0M263.3 243.1h0M237.7 313.6h0M246.6 347.1h0M307.8 304.1h0M261.5 309.6h0M299.9 299.1h0M267.1 294.5h0M250.6 304.6h0M293.5 306.2h0M256.9 314.6h0M243.6 363.3h0M279.3 234.2h0M255.3 309.1h0M317.3 298.4h0M251.5 322.9h0M239.7 310.5h0M301.6 325.8h0M317.8 324.4h0M256.4 302.1h0M314.2 316.8h0M255.9 326.2h0M265.4 303.2h0M280.6 333.9h0M245.1 361.3h0M264.6 379.4h0M236.9 302.7h0M262.6 345.4h0M284.0 311.6h0M303.9 319.0h0M311.7 308.5h0M299.4 320.7h0M290.6 314.5h0M298.7 280.0h0M275.4 303.6h0M278.7 268.9h0M255.0 315.9h0M290.5 245.5h0M279.5 306.5h0M294.4 273.7h0M317.8 326.9h0M310.7 267.1h0M307.2 337.1h0M274.3 371.4h0M322.6 319.0h0M300.7 334.5h0M267.9 307.1h0M296.1 308.9h0M284.8 333.8h0M274.5 239.9h0M253.8 376.2h0M265.1 299.4h0M321.8 314.4h0M253.1 380.3h0M295.1 258.1h0M298.3 278.2h0M280.3 239.6h0M285.6 337.7h0M260.5 345.6h0M283.8 249.0h0M252.2 303.3h0M259.6 314.0h0M266.6 383.2h0M254.1 380.0h0M259.0 294.8h0M259.6 331.5h0M299.5 308.3h0M304.8 334.9h0M234.8 303.8h0M255.0 324.5h0M267.5 300.2h0M281.4 321.4h0M255.6 256.9h0M264.0 371.8h0M253.5 303.0h0M295.5 252.2h0M292.4 275.3h0M250.3 373.6h0M237.9 330.6h0M242.9 333.8h0M294.6 264.4h0M314.0 328.1h0M296.4 326.7h0M305.0 309.7h0M286.5 306.1h0M302.7 312.6h0M255.9 309.9h0M299.2 260.9h0M278.5 320.6h0M278.6 337.3h0M315.0 309.8h0M305.5 336.0h0M259.4 284.0h0M265.0 339.2h0M265.4 367.5h0M242.8 356.2h0M274.1 343.7h0M264.8 228.6h0M248.3 281.8h0M246.0 303.5h0M241.6 331.7h0M295.9 279.9h0M257.4 269.6h0M282.4 235.7h0M256.4 295.1h0M286.6 239.9h0M232.5 315.5h0M306.0 273.1h0M306.0 314.3h0M299.5 308.4h0M303.5 259.2h0M256.0 261.3h0M243.8 343.3h0M232.4 301.9h0M253.8 349.5h0M299.1 336.6h0M291.4 338.3h0M279.5 331.4h0M279.2 350.2h0M276.7 232.7h0M261.5 290.4h0M250.3 277.3h0M273.4 362.4h0M240.9 309.8h0M239.7 318.5h0M268.3 369.5h0M285.6 322.8h0M276.4 350.1h0M281.0 239.3h0M269.7 334.1h0M278.6 354.4h0M250.2 294.3h0M270.5 332.4h0M258.0 311.4h0M280.1 232.4h0M239.5 335.5h0M268.3 242.2h0M271.4 311.5h0M265.8 317.5h0M278.2 347.8h0M266.0 341.1h0M248.2 326.0h0M305.2 330.9h0M236.8 311.0h0M288.1 337.2h0M246.2 318.1h0M294.6 297.8h0M269.6 302.1h0M256.1 255.2h0M314.5 317.4h0M298.4 299.1h0M252.5 317.5h0M232.8 329.1h0M261.9 294.5h0M280.2 317.4h0M248.0 353.4h0M276.2 349.1h0M296.8 315.1h0M241.5 300.8h0M241.9 296.9h0M234.5 324.4h0M285.7 305.2h0M263.1 311.0h0M261.5 386.1h0M276.9 307.2h0M268.4 306.7h0M238.9 347.7h0M279.5 254.3h0M247.5 303.7h0M261.6 375.8h0M238.7 335.0h0M300.7 319.3h0M302.6 302.9h0M247.4 327.7h0M287.0 310.2h0M304.5 312.0h0M259.5 334.2h0M301.9 296.4h0M310.9 334.4h0M301.8 322.6h0M301.5 299.5h0M240.9 316.7h0M254.6 269.4h0M314.5 326.2h0M271.4 299.5h0M257.8 341.0h0M261.0 386.3h0M299.1 278.7h0M271.2 271.3h0M265.7 311.8h0M234.5 328.2h0M267.5 364.4h0M230.4 316.0h0M279.9 263.8h0M292.9 308.6h0M280.0 352.4h0M234.3 313.5h0M284.3 342.1h0M262.2 324.2h0M264.8 311.5h0M276.1 361.3h0M255.1 273.2h0M267.1 331.6h0M277.9 344.1h0M269.1 231.9h0M266.4 318.7h0M261.7 331.2h0M245.7 304.9h0M255.2 317.6h0M296.1 310.1h0M302.2 326.9h0M236.8 332.3h0M276.1 348.6h0M309.5 298.7h0M273.2 306.9h0M296.5 327.6h0M257.4 319.8h0M265.2 378.7h0M241.8 296.4h0M264.3 343.6h0M269.9 330.1h0M241.6 324.9h0M260.2 228.0h0M270.6 298.1h0M259.1 343.2h0M270.0 355.5h0M263.9 352.6h0M294.6 334.9h0M276.5 242.1h0M275.5 317.2h0M307.4 306.4h0M275.3 304.8h0M261.5 351.4h0M265.5 335.0h0M265.6 371.0h0M266.0 283.6h0M271.1 324.0h0M231.9 314.5h0M316.0 318.8h0M299.3 262.2h0M277.6 309.6h0M264.3 305.6h0M287.2 317.4h0M301.2 275.5h0M305.3 306.3h0M316.4 311.3h0M264.2 294.5h0M264.6 282.1h0M269.0 362.8h0M306.1 316.8h0M291.6 275.3h0M266.1 307.2h0M312.2 330.0h0M272.5 329.7h0M263.7 319.3h0M246.7 314.0h0M260.5 269.4h0M265.5 232.6h0M311.3 315.5h0M285.5 336.9h0M259.1 267.6h0M254.9 311.9h0M257.0 287.0h0M294.3 251.5h0M232.9 320.0h0M233.3 334.2h0M296.3 253.1h0M268.8 236.4h0M302.5 329.2h0M285.9 309.0h0M292.9 306.8h0M267.6 361.0h0M258.1 292.3h0M262.4 296.6h0M263.4 353.5h0M247.0 303.7h0M256.5 319.8h0M292.0 335.7h0M258.3 279.9h0M247.8 362.3h0M258.2 305.3h0M279.0 355.3h0M254.4 267.5h0M236.2 316.0h0M238.3 336.9h0M274.7 353.8h0M281.2 321.2h0M272.8 358.0h0M253.4 308.1h0M281.9 320.6h0M312.4 316.3h0M244.7 329.0h0M280.4 268.0h0M243.4 291.5h0M245.0 301.5h0M244.7 344.8h0M236.9 331.2h0M302.8 304.6h0M271.4 309.2h0M263.2 383.0h0M257.2 378.9h0M305.9 322.5h0M235.2 314.3h0M300.6 295.8h0M246.5 295.6h0M296.0 330.8h0M245.1 329.8h0M258.6 377.0h0M256.0 305.0h0M299.5 318.3h0M302.1 314.6h0M266.6 358.8h0M272.4 313.0h0M240.1 332.7h0M247.9 347.7h0M295.9 253.9h0M307.2 303.0h0M265.1 339.8h0M275.1 243.3h0M299.9 261.5h0M290.5 330.2h0M248.1 327.6h0M282.5 325.8h0M246.8 303.6h0M310.6 326.1h0M252.5 280.8h0M275.5 309.4h0M272.9 235.9h0M303.1 258.9h0M259.8 239.7h0M259.8 310.6h0M302.4 308.2h0M284.3 234.4h0M241.8 334.8h0M283.1 322.6h0M264.8 345.2h0M246.4 301.1h0M262.8 325.8h0M296.4 301.1h0M238.0 323.0h0M259.7 348.0h0M243.5 349.5h0M297.3 317.4h0M252.6 337.5h0M307.7 269.9h0M273.6 321.2h0M279.7 250.6h0M233.3 318.4h0M306.8 314.6h0M261.0 230.9h0M244.3 363.1h0M241.9 322.6h0M265.6 334.8h0M303.4 271.9h0M260.8 311.0h0M266.0 292.3h0M298.8 298.2h0M270.7 323.2h0M302.2 268.4h0M268.2 294.0h0M298.1 273.0h0M263.4 307.9h0M251.9 296.0h0M301.9 308.0h0M266.6 316.8h0M282.9 314.5h0M268.8 327.4h0M314.7 323.1h0M260.4 337.6h0M274.4 353.2h0M239.4 329.6h0M260.9 338.2h0M257.8 257.3h0M255.0 343.0h0M269.2 237.9h0M307.9 268.4h0M299.0 305.5h0M272.2 232.4h0M250.9 346.9h0M273.7 368.2h0M307.7 312.7h0M267.9 312.7h0M243.3 320.1h0M255.2 288.4h0M245.4 334.0h0M250.5 272.4h0M264.4 305.7h0M284.9 327.1h0M253.9 284.2h0M272.2 369.1h0M304.8 304.1h0M308.7 296.8h0M266.9 329.4h0M232.6 330.9h0M269.5 364.1h0M254.4 312.1h0M262.5 315.7h0M295.3 255.7h0M322.0 317.9h0M262.1 315.4h0M309.4 317.9h0M289.3 249.8h0M310.2 329.7h0M303.4 311.6h0M260.0 385.8h0M304.4 335.8h0M266.3 380.0h0M271.3 307.4h0M310.1 322.4h0M274.3 355.7h0M253.2 324.5h0M263.4 324.4h0M310.5 302.3h0M271.9 232.3h0M260.2 303.0h0M284.8 263.0h0M291.9 329.5h0M257.6 243.9h0M257.0 261.5h0M255.6 346.4h0M231.1 321.1h0M312.1 328.4h0M309.3 312.7h0M263.1 306.6h0M268.3 349.8h0M241.5 308.2h0M295.6 312.7h0M261.0 230.2h0M297.7 254.0h0M287.6 311.2h0M268.7 378.7h0M271.6 302.0h0M240.8 321.7h0M252.2 297.7h0M248.3 343.1h0M300.9 337.0h0M285.8 240.5h0M298.8 314.8h0M293.9 328.4h0M243.9 306.1h0M305.7 267.4h0M251.6 343.2h0M255.5 292.8h0M301.2 314.8h0M295.6 269.2h0M268.0 237.9h0M267.2 347.4h0M259.6 257.0h0M272.1 367.5h0M257.7 299.1h0M281.5 331.0h0M261.5 327.9h0M269.9 360.1h0M283.2 343.5h0M284.8 338.8h0M264.3 279.4h0M280.1 304.1h0M241.0 341.9h0M262.3 296.8h0M304.1 301.2h0M302.0 309.5h0M301.4 306.3h0M284.3 316.6h0M238.7 317.7h0M304.6 268.1h0M298.6 272.5h0M280.0 266.5h0M258.8 316.0h0M264.7 321.6h0M242.9 324.7h0M294.0 249.6h0M323.9 314.9h0M249.7 344.4h0M295.3 262.3h0M271.2 375.4h0M251.9 344.3h0M230.5 325.2h0M268.6 340.8h0M254.0 303.9h0M257.6 376.6h0M264.9 313.8h0M242.4 293.2h0M241.4 331.3h0M298.4 262.6h0M242.3 351.3h0M246.7 355.2h0M303.3 297.2h0M242.3 338.6h0M265.0 317.3h0M264.7 270.0h0M244.6 349.2h0M270.0 297.2h0M314.0 273.0h0M270.1 360.5h0M259.2 266.6h0M230.6 312.6h0M282.6 261.3h0M254.0 328.5h0M245.6 352.9h0M241.4 318.6h0M257.6 244.3h0M298.2 316.8h0M255.2 267.0h0M263.1 320.9h0M250.3 301.7h0M287.9 314.0h0M282.2 322.2h0M319.8 321.9h0M309.8 315.3h0M275.7 341.3h0M265.1 230.5h0M270.4 313.8h0M304.4 264.7h0M247.4 363.4h0M284.1 249.2h0M279.7 350.7h0M250.6 380.0h0M286.9 335.5h0M315.1 273.0h0M296.5 318.1h0M253.7 275.5h0M247.5 339.3h0M240.2 322.5h0M261.7 315.4h0M250.5 295.5h0M310.3 276.8h0M263.1 379.9h0M249.6 290.0h0M304.2 319.0h0M307.3 318.5h0M256.1 377.0h0M295.2 273.1h0M254.4 258.1h0M249.8 367.5h0M229.6 315.5h0M231.5 316.4h0M289.3 313.7h0M264.7 314.2h0M269.2 353.0h0M272.9 314.4h0M279.5 323.2h0M261.8 331.3h0M300.2 336.1h0M282.9 254.7h0M256.3 275.0h0M265.1 294.0h0M324.2 311.5h0M279.9 309.3h0M269.4 318.9h0M239.9 348.1h0M272.9 327.0h0M270.8 354.3h0M253.3 376.0h0M271.1 336.1h0M259.9 241.0h0M255.0 326.5h0M249.9 325.8h0M234.3 307.7h0M256.8 293.5h0M261.8 327.4h0M280.5 320.9h0M293.9 304.5h0M276.9 333.4h0M258.6 306.4h0M246.1 293.9h0M270.4 296.5h0M253.7 304.2h0M284.9 243.8h0M232.4 302.8h0M286.4 324.1h0M297.9 298.6h0M267.1 241.1h0M255.8 340.4h0M267.3 304.3h0M280.7 269.6h0M231.7 318.6h0M259.1 320.3h0M294.0 275.2h0M274.7 366.7h0M242.8 327.9h0M266.2 308.5h0M260.1 283.6h0M276.6 332.9h0M256.5 284.9h0M296.3 253.7h0M253.7 258.4h0M278.0 346.6h0M296.0 297.9h0M279.7 247.9h0M252.4 282.4h0M263.6 332.7h0M252.3 265.4h0M247.8 305.4h0M251.0 304.5h0M252.5 345.8h0M294.0 298.9h0M284.6 311.7h0M262.5 241.1h0M271.3 350.3h0M273.0 351.6h0M286.1 241.7h0M265.5 271.1h0M308.0 329.8h0M257.9 345.8h0M246.8 355.5h0M296.8 301.5h0M286.5 318.0h0M256.6 276.4h0M297.8 331.1h0M266.3 271.9h0M233.8 306.5h0M293.4 322.6h0M253.1 335.1h0M317.5 327.2h0M262.1 331.2h0M315.3 301.4h0M307.2 261.8h0M307.3 322.8h0M296.3 277.3h0M266.4 291.9h0M274.9 329.7h0M239.0 303.5h0M245.6 323.5h0M262.4 333.8h0M266.1 240.1h0M249.4 326.7h0M264.5 313.5h0M264.5 342.7h0M283.8 246.1h0M245.0 311.2h0M297.5 311.4h0M277.5 334.4h0M284.4 338.5h0M266.1 291.2h0M256.0 317.6h0M300.5 312.4h0M239.2 337.2h0M245.8 340.0h0M313.7 309.8h0M305.5 263.5h0M250.9 275.8h0M255.4 257.6h0M295.1 252.5h0M310.0 329.9h0M297.1 314.4h0M237.2 307.2h0M271.9 239.0h0M304.2 311.8h0M257.0 299.5h0M266.4 333.8h0M265.1 328.7h0M285.4 332.3h0M256.7 309.7h0M261.2 320.0h0M239.3 327.1h0M249.2 316.0h0M247.1 298.4h0M254.6 329.8h0M256.9 308.6h0M299.1 306.7h0M259.0 299.0h0M267.6 334.4h0M271.1 321.0h0M287.8 241.7h0M278.3 347.1h0M268.7 308.8h0M238.6 317.5h0M254.8 253.5h0M300.5 324.3h0M250.1 322.7h0M267.3 374.4h0M251.5 270.5h0M299.4 263.7h0M299.0 266.4h0M270.5 336.5h0M265.0 268.6h0M291.6 249.5h0M255.4 383.7h0M278.9 309.7h0M246.6 305.4h0M303.1 316.3h0M324.7 312.8h0M300.9 323.2h0M274.0 357.2h0M253.7 286.8h0M311.6 331.0h0M251.9 289.1h0M294.7 253.2h0M255.6 326.3h0M238.6 311.2h0M262.9 307.4h0M278.2 240.9h0M277.8 361.6h0M286.5 248.1h0M280.6 255.8h0M256.0 246.7h0M272.7 320.5h0M276.1 332.1h0M318.3 315.6h0M254.6 340.9h0M245.4 332.5h0M239.5 306.5h0M255.7 291.5h0M292.8 328.6h0M317.6 325.2h0M301.8 328.8h0M271.9 361.7h0M301.7 267.5h0M247.6 293.8h0M265.8 233.6h0M284.2 309.1h0M298.9 323.5h0M272.0 362.8h0M256.7 289.9h0M258.0 333.4h0M290.8 315.7h0M247.5 310.2h0M246.5 349.7h0M295.0 268.6h0M262.9 239.0h0M245.5 346.8h0M254.9 384.9h0M300.8 330.2h0M287.9 249.8h0M280.7 257.4h0M256.1 311.3h0M305.1 276.6h0M246.7 369.6h0M287.2 329.1h0M285.8 249.5h0M305.5 299.6h0M264.4 354.2h0M261.2 377.2h0M261.6 327.5h0M253.7 342.9h0M256.4 294.9h0M249.4 349.9h0M307.8 264.8h0M263.2 323.4h0M249.5 298.0h0M295.7 262.9h0M310.8 322.5h0M280.7 253.3h0M257.3 317.3h0M309.8 270.4h0M247.5 321.6h0M265.4 282.6h0M297.3 312.2h0M239.9 341.1h0M250.5 311.3h0M254.8 305.6h0M277.8 269.6h0M240.1 294.4h0M311.0 326.4h0M282.6 309.6h0M306.9 300.0h0M279.7 263.5h0M268.4 346.0h0M248.5 303.8h0M258.6 268.6h0M288.4 255.3h0M277.8 360.4h0M305.5 321.8h0M290.5 254.7h0M267.8 339.2h0M261.0 243.9h0M276.8 236.7h0M304.1 260.2h0M284.7 341.6h0M299.9 328.7h0M296.1 329.4h0M279.0 258.9h0M318.2 312.5h0M273.5 269.2h0M265.6 384.0h0M268.5 355.8h0M240.8 323.1h0M255.3 264.9h0M258.4 290.8h0M312.5 297.2h0M279.9 340.9h0M258.3 294.1h0M266.2 300.9h0M278.4 236.1h0M312.9 306.3h0M303.0 313.5h0M282.9 319.1h0M247.5 280.5h0M245.2 281.9h0M242.0 286.6h0M242.1 290.5h0M239.0 294.6h0M237.8 297.6h0M234.4 301.0h0M232.6 302.8h0M229.1 306.2h0M229.1 309.9h0M226.8 314.9h0M227.7 317.3h0M227.9 322.1h0M230.4 326.2h0M230.8 330.6h0M234.1 333.9h0M232.2 337.6h0M234.4 342.1h0M238.4 344.1h0M238.9 348.3h0M240.7 353.4h0M239.8 356.1h0M242.2 359.5h0M242.0 364.9h0M244.6 369.0h0M244.9 373.3h0M247.2 374.5h0M248.2 378.8h0M250.4 381.6h0M254.5 385.2h0M257.7 386.9h0M261.7 386.5h0M265.0 385.3h0M267.3 382.6h0M270.2 380.0h0M272.3 377.0h0M275.8 373.7h0M275.7 368.2h0M278.4 364.5h0M278.5 361.1h0M279.9 357.1h0M280.4 353.9h0M283.4 349.9h0M283.4 345.9h0M286.5 341.1h0M288.6 340.1h0M292.3 340.6h0M296.3 340.0h0M300.6 338.4h0M304.1 337.9h0M307.4 336.5h0M312.2 334.8h0M315.9 333.1h0M316.6 330.7h0M319.3 326.2h0M322.8 323.7h0M322.6 320.3h0M323.7 315.8h0M327.8 313.6h0M326.8 308.4h0M324.4 303.5h0M321.8 301.5h0M319.4 296.1h0M315.5 294.8h0M311.5 296.7h0M307.4 295.9h0M305.0 295.6h0M297.9 283.6h0M300.0 278.9h0M305.0 278.2h0M308.7 278.3h0M312.8 279.6h0M315.9 276.3h0M314.9 272.7h0M314.0 267.6h0M312.0 263.6h0M310.5 260.1h0M307.2 259.0h0M302.9 258.3h0M300.5 253.8h0M296.8 252.6h0M295.5 248.3h0M292.5 245.8h0M290.6 242.0h0M288.7 238.1h0M285.7 234.5h0M286.3 231.3h0M280.2 229.1h0M276.9 231.4h0M273.6 231.0h0M270.4 230.0h0M265.1 229.6h0M262.8 225.8h0M258.5 228.2h0M258.8 232.6h0M257.6 236.4h0M256.1 241.1h0M255.9 243.9h0M255.5 248.4h0M253.0 252.1h0M252.9 257.5h0M251.7 260.3h0M252.2 264.9h0M249.5 267.8h0M249.9 271.3h0M249.6 277.6h0M268.2 274.4h0M269.9 272.3h0M274.3 273.3h0M280.2 270.5h0M290.5 277.4h0M295.9 279.6h0M294.0 284.2h0M291.0 297.6h0M287.1 299.1h0M283.9 299.9h0M280.0 299.5h0M276.4 298.5h0M272.9 298.7h0M271.4 293.2h0M267.3 290.7h0M267.0 286.2h0M267.4 282.1h0M268.3 278.5h0M262.6 250.7h0M263.6 249.0h0M267.9 248.2h0M271.3 247.8h0M273.7 247.1h0M278.2 247.4h0M278.3 253.0h0M278.2 258.3h0M276.8 260.2h0M278.1 267.1h0M273.9 267.6h0M271.3 269.2h0M266.2 268.6h0M263.3 267.8h0M263.5 263.3h0M263.1 257.7h0M261.7 254.5h0M249.4 356.3h0M250.0 351.8h0M255.6 353.1h0M259.8 351.9h0M261.4 352.7h0M263.2 356.6h0M260.8 361.0h0M264.5 365.0h0M264.1 370.2h0M260.3 372.0h0M258.6 373.2h0M252.4 375.4h0M250.0 374.0h0M249.7 367.7h0M248.7 363.7h0M250.7 360.0h0"/>
<path stroke="#c1531c" d="M247.9 205.4h0M233.5 188.3h0M241.3 209.3h0M259.2 220.7h0M227.9 187.2h0M229.6 197.3h0M233.6 204.2h0M232.5 195.9h0M255.7 208.8h0M234.3 197.1h0M219.3 190.0h0M232.1 202.4h0M237.4 192.2h0M232.9 197.9h0M261.6 217.4h0M236.3 192.6h0M228.8 184.1h0M239.7 209.8h0M249.2 215.2h0M256.5 211.7h0M229.3 202.7h0M250.2 204.0h0M242.9 192.9h0M266.0 215.6h0M235.3 203.9h0M246.6 205.9h0M260.5 217.8h0M247.7 196.1h0M252.6 207.2h0M210.1 188.2h0M237.6 196.3h0M229.7 195.8h0M266.0 218.4h0M226.9 191.7h0M235.5 188.6h0M254.9 217.2h0M258.1 219.4h0M223.9 188.7h0M241.3 201.3h0M235.8 198.7h0M230.5 187.6h0M230.9 202.7h0M219.6 193.3h0M236.8 194.4h0M228.5 184.6h0M236.3 205.8h0M244.1 203.3h0M221.7 194.3h0M239.6 189.4h0M245.5 200.0h0M235.9 191.0h0M227.3 184.7h0M244.1 209.8h0M246.8 205.2h0M262.2 212.6h0M247.9 202.8h0M227.9 187.8h0M242.4 193.4h0M239.5 193.1h0M248.1 198.6h0M256.9 208.5h0M209.8 189.7h0M249.8 213.3h0M224.8 186.5h0M262.8 220.6h0M240.5 196.2h0M246.2 206.0h0M246.1 199.2h0M221.1 187.6h0M249.6 214.9h0M222.2 192.4h0M239.4 189.2h0M236.0 204.5h0M236.5 198.6h0M243.1 200.3h0M239.9 197.7h0M244.6 205.6h0M263.7 217.5h0M244.8 201.8h0M241.1 210.8h0M242.9 205.2h0M230.9 194.5h0M247.1 198.6h0M234.3 195.8h0M246.8 202.2h0M246.0 207.8h0M229.7 201.8h0M247.2 207.4h0M237.2 198.9h0M249.3 202.7h0M221.5 189.3h0M225.5 195.2h0M221.5 190.4h0M256.1 210.0h0M229.5 190.9h0M225.9 193.1h0M238.0 201.2h0M226.6 183.7h0M235.6 188.3h0M226.8 194.1h0M230.6 186.7h0M261.9 210.5h0M238.5 207.1h0M227.9 199.6h0M240.7 197.6h0M212.5 189.1h0M251.8 218.5h0M254.2 210.5h0M239.0 198.4h0M207.3 190.4h0M212.2 190.3h0M215.9 192.4h0M218.8 195.3h0M222.9 195.6h0M224.1 197.9h0M226.4 203.0h0M230.2 203.6h0M234.3 208.0h0M236.5 210.5h0M239.9 211.6h0M242.6 213.2h0M243.8 217.5h0M250.6 218.6h0M253.5 219.9h0M257.1 223.5h0M261.1 222.8h0M264.8 221.6h0M269.1 219.9h0M267.2 213.1h0M262.8 211.6h0M261.4 207.3h0M257.5 206.5h0M254.8 204.8h0M252.1 201.1h0M249.3 197.6h0M248.5 194.5h0M244.0 192.3h0M240.8 188.9h0M236.1 186.6h0M235.3 183.6h0M229.6 181.4h0M227.4 181.7h0M223.5 178.9h0M210.9 178.7h0M207.0 183.6h0"/>
<path stroke="#0798d6" d="M354.8 146.5h0M273.2 174.1h0M267.3 170.2h0M318.1 162.2h0M347.1 117.4h0M311.5 113.2h0M354.4 157.5h0M340.7 178.3h0M284.9 183.8h0M342.7 174.8h0M300.7 206.3h0M308.3 118.8h0M339.4 192.9h0M340.2 126.9h0M323.0 125.8h0M319.7 153.7h0M340.8 189.4h0M326.9 205.6h0M306.7 114.4h0M311.8 124.0h0M295.9 177.2h0M324.3 87.9h0M315.6 197.1h0M330.1 195.1h0M265.9 140.0h0M282.6 182.8h0M292.8 171.0h0M326.6 127.6h0M288.5 168.5h0M328.4 112.7h0M321.8 153.5h0M318.2 207.0h0M363.7 141.4h0M270.4 154.1h0M348.1 172.0h0M311.1 105.5h0M313.3 91.8h0M333.1 136.9h0M303.7 134.0h0M290.8 103.2h0M330.4 152.0h0M314.8 106.0h0M290.0 157.2h0M332.0 166.9h0M340.4 131.3h0M342.6 160.4h0M327.8 194.5h0M348.6 161.3h0M287.7 123.4h0M352.6 120.4h0M312.8 156.0h0M282.9 187.9h0M323.6 197.7h0M342.9 177.5h0M317.1 156.8h0M321.9 93.6h0M351.8 152.7h0M337.6 182.5h0M278.8 122.2h0M331.2 99.6h0M304.7 126.7h0M309.4 170.4h0M333.9 160.6h0M302.4 191.0h0M268.5 155.7h0M319.1 203.7h0M344.0 116.0h0M302.2 162.1h0M301.9 93.2h0M366.5 143.8h0M324.1 121.9h0M332.8 189.3h0M305.2 162.4h0M355.6 161.4h0M290.0 178.8h0M262.8 159.5h0M322.8 145.1h0M320.2 109.4h0M358.2 145.5h0M313.5 92.0h0M302.3 105.6h0M319.4 200.5h0M326.9 168.3h0M306.8 193.0h0M309.2 103.1h0M285.4 188.1h0M327.9 173.2h0M310.9 169.4h0M306.1 161.3h0M265.9 138.3h0M297.7 165.6h0M364.7 145.2h0M305.7 191.2h0M351.5 114.3h0M332.3 123.7h0M299.1 188.8h0M300.0 203.2h0M313.1 197.1h0M275.4 137.3h0M355.6 147.9h0M310.8 210.4h0M346.4 153.2h0M338.7 193.1h0M332.3 99.1h0M330.2 197.7h0M311.9 140.3h0M329.7 109.7h0M331.9 150.1h0M294.0 174.5h0M275.8 133.3h0M327.2 182.6h0M325.7 156.5h0M324.8 134.5h0M286.9 171.3h0M288.5 159.4h0M349.0 169.4h0M347.9 111.2h0M309.7 155.3h0M324.8 194.9h0M309.8 201.2h0M336.1 136.9h0M326.6 123.9h0M267.3 147.8h0M290.5 168.6h0M349.9 171.7h0M338.8 162.7h0M356.6 123.9h0M266.9 167.1h0M343.7 185.7h0M349.5 134.1h0M335.0 142.6h0M309.5 176.4h0M323.5 164.8h0M288.9 175.9h0M341.7 167.3h0M323.1 182.5h0M306.0 174.9h0M322.9 99.3h0M338.9 129.9h0M301.7 190.8h0M332.1 142.1h0M331.5 173.1h0M296.4 110.3h0M330.7 158.6h0M307.2 96.7h0M317.1 136.1h0M293.0 182.1h0M314.6 189.9h0M342.6 167.5h0M350.9 146.1h0M276.0 126.3h0M352.0 116.3h0M315.4 195.0h0M319.1 89.0h0M322.6 167.1h0M336.1 177.2h0M322.4 124.9h0M298.1 197.2h0M321.4 100.3h0M335.5 178.2h0M321.7 208.3h0M312.0 169.0h0M315.7 99.9h0M288.4 160.7h0M347.1 179.6h0M301.4 106.7h0M340.9 197.4h0M270.4 139.1h0M319.5 174.6h0M283.2 191.3h0M326.0 188.3h0M332.5 123.5h0M347.3 162.1h0M330.7 180.0h0M312.4 172.1h0M280.4 132.7h0M329.7 146.2h0M308.5 192.5h0M341.4 130.7h0M316.2 136.4h0M282.0 122.0h0M320.6 175.1h0M330.1 125.0h0M345.5 133.8h0M292.6 111.9h0M313.8 104.4h0M296.1 98.7h0M296.4 98.9h0M308.3 174.1h0M308.8 112.5h0M295.4 188.7h0M293.6 160.1h0M316.1 161.3h0M345.5 152.7h0M313.5 177.0h0M311.8 159.6h0M293.3 104.8h0M324.1 87.4h0M302.0 166.4h0M334.0 188.0h0M337.3 191.1h0M297.4 187.8h0M296.0 165.1h0M335.3 103.9h0M278.2 126.2h0M331.3 100.6h0M282.2 120.9h0M319.6 177.9h0M324.0 203.8h0M300.0 113.4h0M309.3 122.0h0M363.3 134.9h0M339.2 132.0h0M328.2 184.1h0M345.7 125.0h0M335.8 140.5h0M336.8 122.0h0M271.0 171.3h0M310.6 149.2h0M307.7 142.0h0M325.0 101.8h0M293.2 163.1h0M345.7 113.9h0M342.1 113.3h0M348.9 177.8h0M343.6 158.0h0M324.5 86.8h0M316.5 185.1h0M318.8 104.6h0M322.2 138.2h0M311.6 125.5h0M295.4 160.4h0M362.0 138.7h0M351.7 141.0h0M295.3 171.7h0M269.7 172.3h0M350.7 145.4h0M326.7 131.2h0M333.9 103.3h0M310.1 96.1h0M306.7 111.9h0M318.7 148.4h0M310.8 131.0h0M339.9 124.5h0M303.3 210.7h0M302.1 171.0h0M273.7 130.0h0M304.5 165.2h0M324.4 118.8h0M354.6 143.2h0M343.6 178.4h0M323.9 184.8h0M347.5 174.8h0M340.8 188.5h0M320.4 196.9h0M320.1 171.3h0M302.5 94.4h0M355.5 115.2h0M336.2 161.7h0M287.2 153.9h0M291.1 155.3h0M335.3 118.9h0M361.8 137.4h0M289.4 177.9h0M356.8 132.9h0M339.1 127.9h0M319.0 165.8h0M304.9 132.0h0M354.7 118.6h0M311.9 113.2h0M332.8 137.5h0M323.1 137.8h0M315.4 96.3h0M365.3 140.1h0M296.7 194.5h0M292.8 187.3h0M306.5 100.1h0M322.3 121.3h0M360.6 146.0h0M346.9 171.6h0M293.7 101.8h0M323.1 109.7h0M341.4 161.9h0M285.0 185.4h0M363.8 147.1h0M364.1 143.2h0M299.0 203.6h0M316.9 209.2h0M278.9 134.6h0M285.2 141.2h0M335.2 103.0h0M319.4 175.7h0M299.2 128.5h0M264.2 155.5h0M285.6 181.5h0M301.0 196.4h0M296.3 101.3h0M309.8 96.2h0M322.3 112.7h0M308.7 147.3h0M332.5 103.3h0M345.6 175.9h0M278.0 127.8h0M308.9 197.8h0M348.5 170.9h0M303.9 103.9h0M326.3 150.3h0M310.8 165.8h0M328.7 175.3h0M336.4 138.7h0M327.3 98.0h0M316.0 159.3h0M334.2 94.6h0M338.5 120.0h0M302.4 101.2h0M350.6 164.9h0M347.5 151.6h0M273.4 136.9h0M358.9 135.0h0M332.5 187.7h0M301.2 174.5h0M363.5 142.1h0M305.1 134.3h0M325.8 88.0h0M294.9 103.9h0M319.4 207.0h0M341.0 122.3h0M285.7 121.7h0M303.5 169.6h0M301.9 208.1h0M349.2 144.6h0M313.1 197.3h0M329.4 157.9h0M348.2 109.1h0M337.2 152.6h0M351.4 174.6h0M302.8 197.8h0M293.8 108.4h0M287.6 117.4h0M347.2 173.8h0M322.1 105.2h0M353.2 113.7h0M298.1 164.3h0M293.8 112.6h0M328.5 137.5h0M311.4 197.7h0M340.4 185.1h0M285.6 179.5h0M353.5 154.7h0M289.2 191.0h0M345.5 113.9h0M321.8 141.7h0M339.7 136.5h0M295.4 183.5h0M335.2 131.8h0M337.1 119.0h0M314.6 109.3h0M298.9 127.3h0M315.2 201.3h0M351.4 123.3h0M304.1 107.2h0M271.4 136.7h0M308.0 95.6h0M309.9 202.2h0M313.0 96.3h0M307.9 141.1h0M291.6 105.1h0M301.9 173.9h0M345.9 153.2h0M318.8 110.3h0M309.0 205.1h0M309.0 213.0h0M308.5 109.5h0M331.2 109.7h0M310.4 104.6h0M305.4 210.0h0M324.8 151.3h0M327.0 169.7h0M325.3 121.9h0M313.3 123.2h0M323.7 91.1h0M314.2 186.3h0M312.9 187.6h0M336.7 139.4h0M342.0 151.0h0M318.5 173.4h0M342.2 137.0h0M300.3 203.8h0M310.4 153.9h0M277.4 122.3h0M264.8 149.4h0M314.8 211.6h0M289.8 162.9h0M311.0 101.2h0M313.7 209.9h0M354.3 165.7h0M352.7 147.9h0M314.2 175.0h0M314.7 123.6h0M314.2 108.1h0M329.6 99.9h0M308.9 92.3h0M318.7 97.6h0M346.9 123.7h0M362.4 127.5h0M287.5 190.1h0M312.2 119.6h0M324.1 113.9h0M309.2 161.9h0M319.9 173.2h0M326.5 145.9h0M304.8 193.9h0M321.0 205.3h0M356.8 127.9h0M362.6 145.6h0M302.4 204.6h0M339.1 149.3h0M346.7 181.1h0M267.7 168.8h0M334.5 102.5h0M324.9 177.5h0M322.2 189.9h0M338.6 183.9h0M297.9 104.8h0M335.3 109.0h0M328.6 152.0h0M331.8 187.5h0M306.8 149.2h0M298.4 192.8h0M319.4 175.1h0M348.2 175.0h0M355.3 143.7h0M335.3 199.4h0M313.2 191.1h0M291.2 105.7h0M351.7 156.3h0M356.5 117.7h0M337.5 159.2h0M333.0 127.1h0M359.0 149.0h0M294.2 182.8h0M333.9 175.7h0M314.5 97.5h0M307.0 103.2h0M355.9 137.4h0M316.5 153.2h0M315.3 130.2h0M263.4 162.4h0M341.3 150.6h0M344.6 136.3h0M344.7 155.2h0M330.8 116.0h0M343.2 168.9h0M289.1 184.0h0M338.6 122.6h0M343.9 167.5h0M302.3 173.3h0M347.4 110.4h0M353.0 152.4h0M328.8 196.2h0M309.1 150.3h0M337.7 121.5h0M270.6 144.8h0M325.5 172.1h0M301.0 95.8h0M307.1 165.5h0M294.6 190.5h0M268.4 139.3h0M317.9 134.5h0M302.2 209.8h0M332.8 168.6h0M339.7 146.1h0M265.2 167.8h0M307.4 102.7h0M350.7 117.1h0M356.8 134.7h0M320.7 142.6h0M342.1 130.9h0M315.9 114.8h0M297.4 99.3h0M289.3 121.0h0M334.5 103.9h0M329.5 96.2h0M318.1 103.1h0M310.7 156.5h0M300.1 206.0h0M324.1 108.5h0M287.8 123.3h0M324.1 157.8h0M338.7 121.2h0M264.7 159.0h0M294.8 112.2h0M304.9 207.3h0M325.0 177.7h0M266.4 155.3h0M335.6 196.8h0M343.0 145.9h0M330.0 100.3h0M306.6 101.8h0M318.7 97.0h0M287.5 185.5h0M292.7 159.9h0M353.0 167.3h0M352.6 113.9h0M314.6 159.3h0M320.7 196.6h0M351.7 152.5h0M286.6 188.1h0M307.1 118.8h0M343.3 183.8h0M348.7 148.9h0M320.0 89.8h0M327.3 102.3h0M334.6 113.9h0M316.3 194.8h0M324.8 93.7h0M352.1 108.1h0M305.2 110.9h0M359.4 146.0h0M349.3 117.7h0M325.2 181.5h0M305.0 110.9h0M336.6 112.5h0M296.6 188.1h0M328.2 156.6h0M330.1 206.1h0M309.9 98.6h0M311.3 198.3h0M282.8 159.2h0M308.3 110.4h0M334.3 183.1h0M349.6 155.7h0M341.3 187.9h0M338.6 126.1h0M322.4 191.6h0M262.9 162.7h0M355.4 127.6h0M323.8 147.6h0M330.2 189.8h0M284.8 187.0h0M360.2 141.0h0M355.0 153.0h0M313.6 166.0h0M280.5 133.0h0M308.2 93.5h0M294.1 158.9h0M325.4 119.5h0M269.4 158.8h0M360.6 126.2h0M343.0 195.1h0M328.0 89.4h0M308.0 159.0h0M285.8 150.7h0M322.8 90.4h0M319.4 188.7h0M287.0 166.6h0M338.2 157.5h0M332.2 141.6h0M339.5 181.9h0M341.0 141.1h0M293.0 157.7h0M283.0 191.4h0M340.6 192.8h0M303.1 206.9h0M354.4 157.8h0M296.6 110.0h0M330.2 114.7h0M303.0 92.4h0M297.9 162.6h0M331.2 142.1h0M265.1 169.0h0M334.9 193.0h0M311.8 121.1h0M266.4 140.4h0M271.8 175.9h0M329.9 129.6h0M305.9 205.6h0M312.4 130.4h0M345.2 160.8h0M305.7 157.0h0M314.5 158.6h0M295.6 190.4h0M316.6 115.6h0M323.5 185.6h0M314.3 127.0h0M319.2 174.2h0M305.0 139.2h0M316.5 183.2h0M313.3 87.1h0M307.6 101.6h0M291.3 167.5h0M315.6 85.3h0M308.2 175.8h0M348.2 141.5h0M319.1 183.1h0M353.4 160.5h0M317.4 98.2h0M301.5 109.7h0M343.2 171.8h0M276.1 159.9h0M301.5 132.4h0M317.7 139.1h0M325.2 136.6h0M303.2 191.6h0M346.7 143.7h0M304.4 103.1h0M345.9 183.0h0M355.9 131.5h0M286.2 181.3h0M327.5 136.1h0M336.1 109.3h0M312.5 184.6h0M298.5 101.3h0M333.1 173.6h0M325.9 202.3h0M309.5 195.6h0M300.6 191.5h0M340.1 109.3h0M297.3 187.0h0M334.9 164.7h0M353.3 127.9h0M338.4 191.0h0M354.5 126.6h0M319.5 208.3h0M347.0 140.4h0M312.2 148.1h0M337.6 108.9h0M345.7 127.1h0M303.9 201.0h0M339.7 179.2h0M345.5 139.7h0M351.2 107.6h0M335.8 146.4h0M359.0 138.5h0M310.5 117.3h0M321.8 180.3h0M317.4 164.6h0M317.6 146.8h0M308.7 155.8h0M295.2 163.7h0M323.2 143.3h0M310.2 115.6h0M346.8 147.0h0M361.5 128.4h0M322.8 138.8h0M331.6 157.1h0M317.9 98.7h0M264.6 169.1h0M291.2 180.9h0M278.6 127.9h0M329.9 176.1h0M320.5 91.1h0M332.0 130.9h0M325.7 107.7h0M328.9 183.8h0M330.8 125.2h0M314.2 166.4h0M298.6 112.8h0M304.6 201.0h0M344.0 174.5h0M298.5 190.9h0M276.7 135.9h0M293.9 191.1h0M342.4 153.8h0M318.5 122.8h0M323.7 91.2h0M309.9 145.0h0M323.5 134.1h0M313.2 174.4h0M340.5 124.7h0M347.7 150.5h0M332.7 118.6h0M302.2 132.0h0M362.5 138.5h0M345.9 111.9h0M318.9 182.3h0M337.7 174.9h0M321.4 165.4h0M285.2 187.0h0M341.9 117.3h0M359.8 138.8h0M352.5 115.1h0M301.2 112.5h0M312.7 98.7h0M316.4 120.5h0M305.8 202.7h0M359.1 136.6h0M345.4 149.5h0M342.5 127.1h0M278.3 120.5h0M285.9 157.0h0M327.6 142.9h0M270.5 135.1h0M291.4 188.2h0M287.1 167.7h0M332.9 138.9h0M266.6 154.2h0M297.7 166.9h0M330.6 120.6h0M307.4 194.4h0M324.4 172.3h0M303.5 104.2h0M356.5 160.8h0M353.9 170.0h0M297.6 176.8h0M290.3 150.2h0M327.9 185.4h0M287.7 182.5h0M319.1 166.2h0M345.3 134.6h0M307.5 165.7h0M350.6 173.7h0M333.2 114.0h0M336.1 169.4h0M312.6 129.0h0M349.6 143.9h0M319.8 100.3h0M320.4 166.9h0M274.9 128.8h0M289.9 156.5h0M302.8 204.7h0M356.6 141.9h0M301.3 165.5h0M314.4 144.5h0M345.7 180.6h0M305.0 92.3h0M306.0 99.9h0M332.0 128.1h0M355.2 143.8h0M319.4 126.3h0M339.9 112.7h0M307.0 202.6h0M343.4 186.6h0M323.0 110.5h0M330.5 159.8h0M317.2 203.6h0M296.4 167.5h0M355.4 123.9h0M337.6 180.7h0M307.3 198.8h0M339.6 114.7h0M331.3 151.2h0M321.6 138.9h0M321.5 157.4h0M348.3 114.6h0M323.9 135.5h0M275.9 121.5h0M315.6 110.6h0M323.0 146.3h0M297.2 185.4h0M327.5 158.9h0M307.0 91.0h0M286.9 153.1h0M310.0 121.0h0M361.4 144.5h0M316.5 181.6h0M325.6 200.6h0M340.3 134.5h0M300.7 193.6h0M359.5 133.8h0M335.2 128.8h0M290.8 122.5h0M334.1 144.9h0M347.2 109.7h0M267.5 137.4h0M320.2 148.9h0M311.2 87.5h0M262.7 158.1h0M329.7 198.5h0M310.3 125.8h0M322.0 137.5h0M324.4 138.6h0M314.3 147.8h0M323.5 183.1h0M293.6 106.1h0M295.0 103.0h0M329.5 113.3h0M322.3 103.9h0M329.1 104.6h0M290.4 184.8h0M363.7 146.5h0M302.3 170.8h0M267.3 151.1h0M314.5 150.0h0M307.6 191.2h0M331.8 115.7h0M320.4 99.0h0M309.8 115.0h0M306.9 141.3h0M319.6 192.6h0M285.5 183.9h0M346.8 161.4h0M357.3 147.3h0M321.3 149.0h0M262.6 158.4h0M288.7 173.5h0M327.7 181.6h0M312.9 205.0h0M303.6 111.9h0M317.1 125.8h0M309.8 194.0h0M272.8 128.7h0M308.9 163.3h0M267.2 142.0h0M302.7 176.1h0M311.4 129.4h0M326.5 102.3h0M350.1 157.2h0M338.5 190.7h0M301.0 190.3h0M334.8 158.2h0M326.6 145.0h0M307.1 146.5h0M325.9 194.4h0M302.9 107.2h0M307.6 123.7h0M313.3 205.4h0M329.9 131.7h0M303.6 173.1h0M284.0 119.7h0M336.7 131.9h0M303.7 204.9h0M289.7 177.3h0M282.3 138.0h0M332.5 172.4h0M331.8 168.8h0M283.8 183.3h0M360.8 151.0h0M328.0 192.9h0M332.9 179.3h0M314.1 206.6h0M319.3 139.7h0M314.3 112.0h0M305.8 161.7h0M341.2 176.3h0M312.7 184.9h0M290.9 180.4h0M351.4 110.4h0M350.4 156.2h0M318.8 101.2h0M261.4 159.4h0M262.3 164.0h0M261.7 169.0h0M268.8 178.1h0M272.8 179.4h0M277.1 183.2h0M278.1 186.7h0M280.1 190.6h0M285.5 193.7h0M289.3 195.5h0M291.4 195.2h0M293.4 200.6h0M296.1 201.6h0M298.6 205.6h0M299.7 210.5h0M304.3 210.4h0M307.0 212.9h0M311.1 213.4h0M314.3 213.0h0M317.9 213.2h0M322.0 208.2h0M326.0 209.2h0M329.4 207.5h0M342.7 196.6h0M345.9 195.7h0M344.0 189.5h0M348.4 185.9h0M346.9 181.4h0M350.7 180.8h0M351.8 175.4h0M353.4 173.1h0M354.9 169.1h0M354.2 165.1h0M358.6 162.1h0M361.7 159.1h0M361.1 154.8h0M366.3 152.2h0M365.7 146.8h0M367.6 143.8h0M368.8 139.8h0M367.4 135.9h0M365.4 131.8h0M365.0 126.2h0M361.6 125.2h0M361.0 122.1h0M359.7 119.3h0M356.5 115.4h0M357.4 110.7h0M353.2 107.9h0M350.9 105.9h0M346.0 105.3h0M343.5 102.7h0M337.5 105.0h0M335.6 102.4h0M335.9 96.3h0M335.0 91.7h0M329.9 90.9h0M327.6 89.0h0M323.7 86.3h0M321.7 83.9h0M315.6 84.8h0M312.4 84.2h0M309.1 88.3h0M304.7 90.5h0M302.3 89.3h0M298.7 94.1h0M296.6 95.4h0M294.2 99.5h0M291.5 101.7h0M290.6 105.4h0M290.9 109.7h0M290.2 113.4h0M286.9 116.1h0M285.2 117.8h0M281.8 117.6h0M277.4 119.0h0M275.1 123.7h0M271.7 127.0h0M271.5 130.3h0M267.1 133.0h0M266.7 135.4h0M263.5 139.4h0M266.3 145.2h0M263.2 147.8h0M261.7 151.2h0M261.1 156.1h0M298.1 178.7h0M300.2 176.9h0M305.7 176.4h0M309.9 175.8h0M311.4 179.7h0M310.5 182.6h0M311.2 186.6h0M309.7 189.0h0M305.9 191.7h0M302.1 188.2h0M298.4 186.7h0M299.1 184.4h0M279.7 129.2h0M283.6 126.5h0M285.3 125.0h0M290.9 123.9h0M292.4 123.4h0M290.8 119.5h0M291.6 113.0h0M295.4 114.6h0M299.3 114.4h0M301.9 115.2h0M306.6 116.5h0M307.4 119.8h0M305.7 124.8h0M301.4 124.8h0M298.1 126.5h0M296.2 129.6h0M297.9 132.6h0M297.1 136.3h0M300.2 139.4h0M300.8 143.7h0M304.6 141.6h0M308.0 146.6h0M304.2 151.2h0M303.9 154.3h0M304.2 156.0h0M299.2 159.0h0M296.9 155.3h0M293.9 153.9h0M292.7 151.7h0M290.1 151.3h0M286.6 147.7h0M286.3 139.5h0M286.9 136.3h0M281.7 137.2h0M281.6 131.6h0M269.8 162.4h0M273.9 161.4h0M277.8 160.5h0M281.4 161.5h0M284.3 162.4h0M285.9 163.6h0M287.8 169.3h0M284.3 170.6h0M282.3 173.8h0M271.4 171.0h0M269.4 169.3h0M273.6 150.0h0M284.3 149.5h0M283.0 154.5h0M284.3 159.3h0M279.9 161.0h0M275.9 160.4h0M272.8 158.4h0M271.3 154.9h0"/>
<path stroke="#0798d6" d="M264.4 104.3h0M262.0 106.2h0M263.5 104.6h0M266.6 106.7h0M262.5 109.8h0M262.0 105.6h0M261.7 108.8h0M263.4 113.2h0M270.2 108.7h0M269.6 104.9h0M264.7 102.1h0"/>
<path stroke="#f29ca6" d="M415.9 255.2h0M419.1 275.8h0M347.1 274.5h0M367.3 213.7h0M419.1 232.5h0M345.7 224.1h0M365.2 273.1h0M368.6 273.8h0M409.8 291.4h0M381.6 291.5h0M409.2 285.2h0M420.0 247.0h0M353.4 269.1h0M420.2 274.4h0M394.4 244.8h0M390.8 311.3h0M365.3 229.2h0M352.0 270.9h0M420.0 283.3h0M396.2 236.3h0M389.6 309.3h0M365.7 207.9h0M442.0 275.5h0M366.7 229.9h0M362.0 263.9h0M336.9 270.8h0M382.2 233.6h0M362.2 237.6h0M351.2 215.6h0M362.2 309.5h0M407.2 217.1h0M381.2 272.1h0M345.6 223.4h0M363.2 260.7h0M381.8 226.1h0M409.1 289.6h0M360.3 306.3h0M408.5 217.7h0M385.0 306.5h0M380.7 324.4h0M399.4 277.7h0M370.4 227.0h0M357.2 325.9h0M435.3 272.2h0M353.5 302.9h0M357.9 258.6h0M339.5 275.5h0M429.1 246.5h0M382.1 297.2h0M368.5 259.6h0M420.4 242.4h0M396.8 251.7h0M414.4 263.4h0M417.0 286.9h0M368.7 249.3h0M386.1 224.0h0M356.9 293.9h0M389.1 249.8h0M347.0 243.6h0M373.3 224.1h0M362.8 339.1h0M374.9 228.7h0M378.8 300.3h0M392.4 326.7h0M368.2 320.0h0M377.8 235.1h0M402.0 270.6h0M357.3 322.3h0M405.5 298.3h0M349.0 274.0h0M428.9 265.9h0M361.6 297.2h0M425.6 273.6h0M408.1 268.6h0M395.6 244.8h0M349.9 326.2h0M392.2 249.9h0M361.2 252.1h0M387.9 227.1h0M379.9 253.9h0M372.2 256.1h0M362.2 309.1h0M439.0 258.1h0M367.6 299.2h0M403.3 220.3h0M363.3 268.4h0M404.1 258.2h0M355.6 278.4h0M395.1 320.4h0M349.0 316.4h0M333.8 277.0h0M407.0 237.3h0M372.6 235.3h0M418.5 252.3h0M429.0 243.8h0M428.0 254.3h0M396.4 249.0h0M400.1 213.4h0M369.3 254.3h0M396.6 316.7h0M373.4 234.7h0M365.9 257.2h0M384.2 273.3h0M373.7 312.1h0M402.5 275.6h0M387.7 233.4h0M381.8 288.9h0M352.3 214.3h0M385.1 299.8h0M388.7 318.6h0M366.1 267.6h0M395.1 235.6h0M441.3 258.9h0M386.0 277.6h0M386.9 262.2h0M357.5 229.1h0M363.1 213.2h0M359.6 214.0h0M385.3 250.0h0M407.1 252.8h0M353.9 277.1h0M354.1 210.6h0M400.1 307.2h0M384.5 303.2h0M377.2 278.2h0M333.7 269.0h0M355.0 281.0h0M362.1 331.0h0M440.3 261.6h0M352.9 277.5h0M341.0 248.2h0M431.9 276.0h0M429.5 269.1h0M362.7 273.1h0M352.2 275.8h0M372.4 222.0h0M391.3 252.2h0M385.6 239.4h0M371.7 313.1h0M374.9 326.7h0M340.0 248.8h0M347.0 314.8h0M345.8 283.4h0M386.4 307.2h0M388.8 245.3h0M439.4 272.4h0M345.5 280.9h0M387.4 218.5h0M330.7 274.2h0M411.7 255.3h0M402.9 241.2h0M374.8 257.7h0M377.4 267.0h0M388.3 322.9h0M385.3 290.1h0M371.2 263.1h0M364.2 242.0h0M392.5 217.3h0M353.3 245.7h0M354.1 228.8h0M379.0 238.9h0M414.2 294.2h0M375.7 241.1h0M379.9 334.6h0M413.2 253.5h0M362.1 316.9h0M424.3 248.6h0M355.8 241.7h0M423.1 271.6h0M406.6 299.3h0M421.6 280.5h0M354.8 324.0h0M395.8 300.8h0M424.7 240.5h0M415.1 254.1h0M416.0 282.7h0M394.6 218.2h0M347.7 223.0h0M434.8 253.9h0M380.4 285.0h0M409.1 217.1h0M365.3 294.0h0M392.8 272.0h0M387.9 318.4h0M374.4 311.6h0M390.9 268.6h0M347.8 226.8h0M393.1 263.1h0M393.9 265.5h0M384.8 215.4h0M352.7 228.9h0M349.2 259.8h0M412.2 274.5h0M391.9 260.3h0M419.0 275.3h0M369.8 304.0h0M364.0 332.3h0M353.6 232.8h0M409.5 269.0h0M353.1 288.0h0M352.7 278.3h0M415.1 263.8h0M347.7 234.4h0M340.4 272.1h0M356.7 334.0h0M421.3 254.6h0M390.1 217.0h0M336.4 256.4h0M354.2 234.4h0M351.8 235.8h0M403.7 238.5h0M388.5 216.2h0M440.9 263.4h0M363.6 310.7h0M353.6 212.5h0M365.6 242.6h0M388.4 254.3h0M373.8 248.9h0M342.3 244.1h0M405.7 244.3h0M380.9 246.4h0M351.4 212.0h0M372.9 311.7h0M360.7 305.6h0M360.1 318.3h0M361.8 315.6h0M407.8 263.6h0M367.6 273.6h0M408.7 282.4h0M389.1 290.4h0M391.0 265.0h0M367.5 240.2h0M404.2 316.7h0M337.9 258.8h0M412.2 267.9h0M398.7 228.8h0M367.4 256.4h0M375.5 256.5h0M389.5 306.4h0M335.7 273.7h0M412.8 227.8h0M349.2 292.8h0M403.1 259.5h0M407.4 268.0h0M363.4 248.8h0M377.2 220.3h0M411.4 228.7h0M348.1 317.1h0M358.8 299.5h0M385.6 245.1h0M434.4 246.9h0M431.1 268.3h0M377.3 315.4h0M385.1 239.1h0M399.4 266.1h0M392.0 267.3h0M351.4 229.9h0M429.5 242.6h0M408.0 297.4h0M401.7 215.9h0M351.8 319.7h0M372.5 247.1h0M428.8 269.4h0M393.4 285.2h0M348.2 259.6h0M386.2 314.6h0M393.0 253.3h0M347.1 253.7h0M443.1 270.1h0M373.8 319.6h0M353.6 316.4h0M355.0 234.8h0M422.3 242.2h0M437.2 264.9h0M384.6 332.3h0M337.2 265.1h0M367.9 292.2h0M380.0 249.5h0M383.8 280.8h0M356.1 243.8h0M368.6 243.5h0M369.8 300.3h0M412.8 296.1h0M362.5 244.7h0M411.4 257.5h0M353.8 283.8h0M430.8 252.4h0M360.0 280.5h0M369.0 278.0h0M356.2 234.1h0M398.7 220.9h0M353.4 217.8h0M408.4 227.1h0M358.6 324.3h0M388.3 270.1h0M365.2 277.0h0M418.9 255.3h0M409.8 271.7h0M411.3 259.4h0M359.6 304.9h0M364.2 236.0h0M379.6 264.3h0M373.6 255.6h0M347.9 215.1h0M391.5 295.1h0M427.7 241.6h0M350.0 326.3h0M354.9 227.7h0M401.0 264.9h0M360.1 243.1h0M385.9 261.6h0M367.6 312.4h0M443.6 266.8h0M361.5 268.2h0M362.4 312.8h0M339.8 259.9h0M394.5 247.9h0M399.4 297.2h0M345.8 215.0h0M331.3 280.8h0M385.6 257.5h0M407.9 223.8h0M387.7 263.9h0M367.6 246.5h0M422.4 282.1h0M396.7 304.0h0M388.3 319.2h0M392.5 307.8h0M327.2 272.2h0M434.1 272.9h0M408.7 279.0h0M359.7 228.4h0M348.8 245.0h0M355.4 289.4h0M410.8 240.7h0M424.9 268.0h0M385.4 256.0h0M380.5 209.8h0M360.4 254.0h0M373.7 295.3h0M361.6 222.8h0M352.1 311.8h0M390.5 297.4h0M413.3 284.8h0M407.3 232.1h0M395.8 302.1h0M397.3 255.3h0M380.1 220.7h0M394.8 300.7h0M387.7 257.3h0M359.6 335.9h0M396.0 281.4h0M371.8 322.4h0M401.6 282.2h0M399.2 314.4h0M377.9 307.3h0M423.2 252.7h0M362.7 278.9h0M383.3 261.1h0M437.5 253.8h0M370.7 232.6h0M384.8 226.4h0M387.6 299.8h0M426.0 265.7h0M396.5 278.5h0M332.3 278.9h0M409.1 237.8h0M358.9 231.4h0M358.8 255.2h0M363.6 253.0h0M362.3 314.2h0M363.8 341.3h0M409.3 253.2h0M380.5 324.3h0M345.0 236.6h0M399.7 237.8h0M380.0 235.6h0M401.9 296.2h0M420.1 248.1h0M410.5 262.2h0M367.2 230.9h0M365.9 216.7h0M397.1 321.5h0M403.6 262.4h0M384.3 238.8h0M410.5 250.2h0M414.4 238.7h0M351.3 304.2h0M367.7 300.9h0M334.2 274.7h0M372.1 225.6h0M366.7 317.1h0M379.1 317.5h0M383.7 250.3h0M437.0 256.4h0M346.7 257.9h0M338.9 268.7h0M398.1 256.7h0M410.8 242.0h0M390.2 250.5h0M362.2 273.8h0M381.1 292.3h0M437.5 257.3h0M348.2 280.1h0M404.8 267.8h0M402.0 282.9h0M403.4 296.6h0M385.0 284.2h0M364.7 287.2h0M381.2 261.9h0M416.5 241.3h0M399.5 226.1h0M390.4 278.3h0M407.0 222.1h0M365.0 329.3h0M409.6 220.7h0M398.5 246.6h0M412.4 260.9h0M344.8 240.4h0M372.6 210.6h0M411.7 279.7h0M351.7 279.5h0M339.1 274.0h0M392.1 279.9h0M360.2 236.0h0M362.0 239.5h0M372.9 282.6h0M398.9 319.8h0M340.4 280.6h0M437.4 262.1h0M402.5 311.8h0M369.5 220.3h0M436.9 272.1h0M392.2 225.0h0M390.1 266.4h0M404.0 218.1h0M360.2 280.5h0M373.2 293.7h0M368.9 240.8h0M386.7 274.8h0M399.7 280.0h0M351.3 324.3h0M358.5 302.0h0M405.4 298.9h0M418.2 242.9h0M378.6 287.5h0M411.1 262.0h0M368.3 292.1h0M336.9 280.3h0M373.9 300.3h0M365.1 213.0h0M409.3 249.7h0M439.6 275.1h0M392.7 265.6h0M331.4 280.6h0M386.7 285.9h0M386.8 259.4h0M429.6 278.7h0M343.5 225.4h0M397.2 254.0h0M362.4 256.2h0M400.0 255.3h0M366.0 255.1h0M371.4 306.5h0M387.2 303.5h0M363.9 340.4h0M349.6 294.5h0M372.1 306.7h0M343.0 274.7h0M389.9 213.2h0M442.6 273.8h0M396.2 266.2h0M407.3 274.5h0M411.5 279.2h0M426.3 251.3h0M359.5 314.4h0M389.1 290.7h0M372.4 264.3h0M422.2 254.2h0M408.2 229.4h0M379.2 289.0h0M390.0 247.2h0M408.9 264.5h0M358.6 279.1h0M389.9 304.7h0M399.8 312.3h0M339.5 284.6h0M357.2 274.6h0M387.8 318.3h0M400.4 317.8h0M372.6 222.0h0M362.7 299.2h0M393.2 220.9h0M351.8 300.6h0M438.5 267.1h0M387.9 329.7h0M390.8 318.8h0M364.8 212.6h0M381.3 268.8h0M394.1 278.9h0M368.5 314.8h0M357.6 312.6h0M393.8 228.1h0M385.7 311.8h0M415.4 255.7h0M382.2 290.5h0M366.4 225.8h0M374.9 235.7h0M386.4 239.9h0M407.0 244.8h0M428.5 248.3h0M373.0 241.3h0M373.8 320.1h0M384.4 320.7h0M362.4 237.7h0M381.1 262.3h0M365.6 229.8h0M393.0 215.3h0M363.5 337.4h0M369.0 295.5h0M355.9 294.5h0M389.7 286.8h0M359.7 277.2h0M363.1 257.4h0M385.3 283.5h0M368.8 253.3h0M394.4 292.1h0M414.5 292.7h0M340.3 254.5h0M402.4 304.3h0M397.5 290.1h0M358.1 285.1h0M369.7 251.6h0M387.5 214.7h0M425.1 242.4h0M387.3 301.1h0M413.8 271.9h0M372.6 260.3h0M380.3 320.0h0M409.5 220.4h0M421.6 254.3h0M364.9 283.7h0M399.5 290.2h0M338.1 285.1h0M436.0 280.3h0M347.5 248.0h0M434.7 263.5h0M394.4 228.1h0M384.7 272.4h0M405.4 243.8h0M347.6 283.0h0M373.0 323.5h0M348.0 278.8h0M359.2 224.4h0M342.1 282.9h0M388.0 291.2h0M407.3 215.7h0M357.0 228.7h0M402.6 248.2h0M384.7 222.8h0M361.3 239.8h0M356.3 288.2h0M403.5 223.6h0M360.4 223.4h0M347.8 256.0h0M382.5 290.1h0M385.8 240.0h0M363.6 298.9h0M336.4 264.3h0M388.0 234.2h0M433.5 262.3h0M435.6 250.4h0M347.1 306.7h0M359.6 260.3h0M360.5 260.7h0M427.2 261.8h0M394.9 286.9h0M420.3 267.6h0M423.3 277.2h0M375.4 243.7h0M350.9 285.5h0M388.5 288.3h0M370.8 283.1h0M363.8 265.3h0M381.8 240.8h0M374.6 244.8h0M407.4 269.5h0M402.1 214.3h0M377.3 214.0h0M410.0 221.2h0M409.7 265.3h0M350.2 231.9h0M359.7 282.1h0M334.3 283.4h0M385.6 247.6h0M335.3 261.3h0M410.9 247.2h0M336.1 269.4h0M368.9 231.8h0M394.4 274.8h0M362.2 254.1h0M343.1 244.2h0M385.8 259.2h0M360.8 313.3h0M391.0 286.1h0M365.3 323.8h0M386.6 312.0h0M419.8 245.6h0M396.9 268.1h0M345.5 258.4h0M382.5 290.0h0M341.1 278.0h0M379.6 284.8h0M382.7 282.1h0M351.2 258.1h0M372.4 278.6h0M350.0 252.1h0M410.2 300.0h0M365.9 224.2h0M398.1 262.0h0M331.5 267.6h0M417.5 286.7h0M401.6 281.7h0M340.4 274.6h0M333.8 260.9h0M384.6 268.4h0M372.9 256.3h0M368.3 270.7h0M396.6 226.6h0M346.2 292.9h0M394.6 273.3h0M388.2 254.5h0M389.6 246.8h0M397.9 247.6h0M376.5 211.9h0M366.6 268.2h0M399.6 312.5h0M354.9 269.3h0M385.8 291.1h0M357.7 282.2h0M353.7 276.4h0M373.3 327.3h0M388.5 311.8h0M356.7 275.3h0M389.1 248.4h0M375.4 208.1h0M343.9 251.3h0M407.3 286.0h0M392.4 269.3h0M395.7 267.7h0M339.2 272.3h0M409.8 301.3h0M419.3 278.8h0M367.3 311.4h0M371.2 268.7h0M408.1 300.9h0M403.4 224.5h0M415.9 292.8h0M396.9 239.1h0M356.9 296.5h0M416.0 270.9h0M360.5 254.2h0M403.6 281.6h0M385.4 222.2h0M401.7 237.9h0M407.5 235.3h0M370.7 299.0h0M432.8 260.7h0M367.4 323.2h0M367.8 321.1h0M365.4 282.3h0M400.4 221.9h0M335.9 253.7h0M377.6 294.0h0M410.8 277.5h0M395.0 292.1h0M338.4 271.4h0M389.9 229.9h0M362.5 256.0h0M352.1 260.3h0M380.9 301.3h0M399.2 308.9h0M334.6 279.6h0M371.5 318.8h0M355.8 319.4h0M416.3 264.9h0M397.1 258.1h0M372.9 265.3h0M368.9 219.9h0M407.8 242.8h0M364.4 231.0h0M378.9 249.3h0M366.9 215.2h0M355.4 302.4h0M372.2 208.4h0M370.0 241.9h0M410.4 251.2h0M427.3 244.0h0M360.5 227.0h0M357.6 223.1h0M359.6 319.0h0M364.9 253.5h0M373.3 326.3h0M399.8 273.8h0M407.8 229.5h0M412.5 237.9h0M371.9 275.3h0M383.3 320.8h0M405.3 217.1h0M351.6 249.1h0M346.8 240.8h0M430.3 251.8h0M394.6 325.2h0M356.2 290.2h0M387.9 315.1h0M383.2 222.7h0M384.9 250.2h0M336.1 273.6h0M337.6 267.7h0M390.0 285.6h0M390.7 298.8h0M352.8 237.5h0M384.6 298.0h0M420.9 243.1h0M348.7 217.7h0M327.2 266.5h0M357.8 254.0h0M349.3 315.5h0M410.8 302.4h0M418.6 233.2h0M357.6 317.1h0M366.0 339.5h0M396.7 280.8h0M359.9 330.4h0M399.3 245.5h0M363.2 246.8h0M365.2 335.4h0M395.0 292.3h0M398.1 314.0h0M442.5 262.0h0M384.7 246.7h0M411.1 255.6h0M383.1 262.3h0M419.0 280.5h0M372.1 326.3h0M392.3 300.6h0M371.2 234.0h0M365.8 318.8h0M428.6 255.6h0M332.4 259.2h0M374.6 302.2h0M378.8 311.6h0M348.9 296.1h0M362.6 215.9h0M422.5 285.2h0M425.1 270.2h0M374.6 253.2h0M434.8 261.4h0M366.4 275.3h0M397.1 298.7h0M356.1 312.8h0M337.8 260.9h0M428.0 259.6h0M367.3 269.0h0M364.7 298.0h0M400.1 283.4h0M359.9 254.6h0M437.6 272.2h0M360.4 270.7h0M339.7 284.6h0M359.2 279.2h0M374.6 206.5h0M339.8 255.9h0M371.5 209.5h0M359.8 292.7h0M383.2 316.5h0M413.5 292.2h0M393.7 295.7h0M384.3 232.7h0M368.8 305.5h0M419.8 235.3h0M333.5 259.9h0M388.1 267.7h0M366.5 215.5h0M382.0 301.8h0M390.8 260.1h0M414.4 239.3h0M409.9 263.5h0M352.5 329.2h0M379.1 252.6h0M343.6 229.5h0M372.3 300.3h0M429.8 245.4h0M359.7 299.6h0M413.0 271.9h0M396.7 288.3h0M337.6 283.1h0M361.4 237.6h0M349.6 324.6h0M389.9 327.1h0M376.0 328.2h0M399.0 252.5h0M368.5 220.6h0M392.1 215.4h0M364.1 258.8h0M383.1 333.8h0M335.2 254.3h0M390.7 276.9h0M430.5 280.3h0M405.8 298.2h0M370.5 266.7h0M351.1 221.0h0M375.0 262.7h0M420.4 246.5h0M405.9 228.3h0M398.7 255.6h0M346.2 233.2h0M382.5 249.6h0M396.3 219.9h0M339.1 252.6h0M420.3 286.2h0M345.5 288.1h0M364.8 292.9h0M435.3 267.7h0M364.0 213.1h0M406.0 298.6h0M407.3 216.8h0M366.4 243.4h0M344.6 220.6h0M353.2 324.8h0M364.4 250.9h0M358.6 337.9h0M361.1 219.0h0M364.3 324.8h0M389.2 266.3h0M367.2 335.7h0M373.0 220.3h0M396.0 257.4h0M363.8 336.5h0M405.6 269.7h0M360.2 219.9h0M364.5 234.3h0M361.2 210.5h0M368.1 281.1h0M362.3 312.1h0M382.3 235.4h0M390.9 224.3h0M353.6 229.7h0M395.2 239.1h0M339.3 275.2h0M348.1 299.8h0M386.3 236.2h0M356.6 236.1h0M360.5 276.3h0M396.8 286.7h0M377.4 250.6h0M353.8 271.6h0M366.4 290.9h0M344.0 258.7h0M442.8 275.0h0M365.0 317.7h0M407.7 237.8h0M374.0 304.3h0M396.3 281.5h0M383.4 319.4h0M442.6 262.8h0M421.8 284.5h0M402.8 214.4h0M394.8 303.5h0M420.3 245.7h0M339.6 248.0h0M401.2 235.3h0M368.1 269.9h0M366.8 295.2h0M421.8 237.6h0M376.0 239.8h0M424.2 273.3h0M402.2 274.3h0M438.2 267.3h0M376.1 221.5h0M376.0 250.3h0M413.3 258.7h0M332.5 259.5h0M392.4 284.5h0M381.8 280.3h0M398.8 215.3h0M388.2 246.2h0M373.8 290.1h0M430.8 251.3h0M399.2 236.6h0M396.2 238.3h0M389.2 231.3h0M387.3 228.9h0M391.6 233.5h0M402.7 240.8h0M359.5 208.9h0M377.5 257.1h0M430.7 264.1h0M350.5 283.8h0M355.8 252.1h0M381.0 228.2h0M414.6 263.2h0M332.3 275.0h0M406.0 217.4h0M373.8 249.8h0M392.2 304.5h0M337.5 258.5h0M377.8 278.5h0M385.6 305.5h0M379.7 270.8h0M353.5 265.0h0M404.1 271.9h0M353.1 309.7h0M347.4 282.9h0M330.4 276.3h0M384.6 314.7h0M348.4 309.4h0M335.2 277.3h0M376.3 257.0h0M383.7 251.9h0M410.3 298.2h0M361.7 296.4h0M435.0 265.0h0M340.5 273.9h0M344.4 246.3h0M435.2 263.9h0M371.0 246.6h0M348.8 318.6h0M364.3 261.9h0M337.4 274.6h0M355.3 313.4h0M393.9 268.1h0M375.8 302.2h0M372.2 219.0h0M341.3 260.5h0M343.7 278.1h0M431.0 268.4h0M393.7 262.0h0M407.1 248.3h0M359.7 293.7h0M434.7 267.8h0M386.9 326.5h0M378.1 217.1h0M370.3 223.5h0M389.3 213.6h0M383.0 215.5h0M342.1 272.4h0M361.6 271.4h0M407.3 211.4h0M440.2 257.9h0M355.0 302.6h0M383.4 233.8h0M407.4 265.4h0M380.3 325.5h0M390.4 316.0h0M418.9 246.0h0M348.4 283.4h0M375.8 284.2h0M433.9 251.5h0M374.2 237.4h0M367.3 253.1h0M421.8 262.3h0M345.9 287.9h0M384.0 215.6h0M382.0 245.8h0M356.4 330.0h0M432.7 263.8h0M429.3 276.1h0M362.5 249.1h0M407.8 286.8h0M365.9 239.4h0M343.5 250.7h0M364.7 244.2h0M366.1 315.5h0M334.3 265.3h0M400.3 262.2h0M329.6 272.6h0M387.5 329.8h0M373.4 276.4h0M381.8 271.2h0M396.9 229.6h0M406.6 274.7h0M371.8 250.4h0M374.5 275.8h0M420.3 278.4h0M350.5 272.5h0M395.7 283.3h0M402.9 298.8h0M363.8 242.9h0M369.6 314.0h0M394.9 233.4h0M339.0 249.9h0M409.9 301.4h0M344.9 253.8h0M363.5 317.7h0M408.9 251.7h0M386.9 280.1h0M350.0 215.6h0M429.5 270.1h0M390.8 286.9h0M412.3 237.5h0M398.9 253.1h0M346.1 235.4h0M409.6 303.9h0M384.8 310.0h0M389.5 233.8h0M362.8 248.7h0M369.8 226.5h0M434.2 252.8h0M349.1 221.7h0M382.9 214.9h0M378.9 224.8h0M382.8 223.5h0M331.5 275.7h0M343.0 247.8h0M393.5 306.9h0M435.8 280.1h0M394.3 326.8h0M356.4 301.7h0M349.0 273.3h0M353.1 219.9h0M403.9 225.9h0M337.9 271.3h0M363.6 250.2h0M390.9 280.3h0M336.1 282.3h0M347.6 219.2h0M387.4 273.8h0M378.9 306.5h0M392.9 263.8h0M388.8 214.8h0M393.7 302.8h0M386.1 289.7h0M349.2 252.4h0M346.6 290.5h0M357.8 209.9h0M354.6 306.4h0M372.5 223.4h0M438.5 267.5h0M383.3 289.6h0M419.4 279.0h0M366.3 341.4h0M359.8 269.9h0M380.6 263.8h0M431.7 273.1h0M413.9 275.9h0M362.1 344.0h0M407.6 266.2h0M368.7 292.4h0M430.4 257.9h0M410.0 288.0h0M360.6 336.2h0M333.8 257.1h0M395.4 226.5h0M426.2 274.6h0M361.6 284.7h0M414.8 276.2h0M361.2 337.1h0M371.8 267.6h0M390.8 290.6h0M371.3 217.0h0M367.5 275.0h0M342.2 246.1h0M337.1 276.9h0M358.9 244.1h0M350.4 278.2h0M376.9 284.3h0M365.3 230.5h0M360.9 332.5h0M395.7 229.7h0M342.0 271.4h0M388.2 250.2h0M363.7 210.2h0M353.4 322.9h0M369.6 323.6h0M360.7 266.0h0M367.7 210.6h0M428.1 274.8h0M368.2 292.1h0M380.2 249.4h0M371.9 266.8h0M362.5 256.4h0M381.7 324.7h0M427.0 250.8h0M403.5 296.8h0M368.2 251.6h0M388.9 249.1h0M365.1 283.7h0M372.2 326.4h0M418.7 240.4h0M376.7 335.7h0M404.8 264.6h0M439.0 278.4h0M340.6 249.3h0M347.6 244.4h0M411.4 285.0h0M358.1 258.7h0M332.6 265.5h0M393.4 301.2h0M389.9 234.9h0M407.3 275.2h0M434.5 249.5h0M417.2 234.4h0M367.3 213.2h0M420.1 236.1h0M347.7 307.4h0M423.0 265.8h0M419.9 249.9h0M345.2 212.7h0M341.7 216.8h0M342.3 221.3h0M341.0 227.0h0M344.3 230.1h0M343.2 233.3h0M342.6 235.2h0M342.6 239.6h0M341.4 243.5h0M340.8 247.7h0M335.8 250.2h0M334.7 254.8h0M330.9 257.4h0M330.8 262.0h0M327.7 265.2h0M326.4 267.2h0M327.5 272.3h0M326.0 274.9h0M326.7 279.5h0M327.1 283.1h0M333.1 283.3h0M336.5 285.5h0M339.6 288.1h0M341.6 290.7h0M342.4 294.5h0M344.0 298.8h0M344.5 302.8h0M346.2 306.3h0M347.9 310.0h0M345.2 314.8h0M346.7 318.3h0M349.3 322.6h0M350.4 324.3h0M350.2 328.7h0M351.6 334.0h0M354.4 337.5h0M357.0 339.8h0M356.6 344.0h0M360.6 345.2h0M364.2 342.2h0M368.2 339.8h0M371.5 339.9h0M373.7 335.9h0M378.4 334.7h0M382.2 337.3h0M385.5 331.7h0M389.4 330.5h0M391.4 329.2h0M395.8 326.4h0M399.1 323.9h0M403.4 321.3h0M406.1 318.9h0M409.5 304.1h0M413.2 299.3h0M417.0 297.2h0M415.2 292.5h0M419.1 290.4h0M421.1 288.3h0M423.8 283.5h0M426.5 283.5h0M431.5 281.2h0M435.6 281.7h0M439.1 279.0h0M441.1 276.7h0M445.4 274.3h0M443.6 270.7h0M444.9 266.9h0M443.8 261.4h0M440.6 259.2h0M439.8 256.3h0M439.1 251.2h0M437.7 246.4h0M435.7 243.7h0M430.9 242.7h0M427.4 240.1h0M425.6 238.7h0M420.9 237.2h0M418.8 232.7h0M418.2 230.1h0M416.3 225.3h0M411.9 223.7h0M411.4 218.8h0M410.4 215.8h0M409.2 211.1h0M407.8 210.6h0M404.3 211.0h0M400.5 212.3h0M397.4 215.2h0M393.5 214.1h0M391.4 211.1h0M386.3 209.8h0M381.3 210.3h0M379.0 209.4h0M374.9 206.6h0M370.3 204.4h0M367.3 203.9h0M362.7 206.3h0M360.0 206.3h0M355.3 210.3h0M353.2 210.6h0M348.4 212.0h0"/>
<path stroke="#dee9b1" d="M466.9 223.7h0M460.7 218.7h0M457.8 218.4h0M472.5 211.8h0M470.4 223.7h0M458.5 220.2h0M456.0 211.5h0M479.1 221.6h0M452.2 219.0h0M456.3 217.2h0M465.0 213.3h0M471.0 210.5h0M476.3 217.5h0M457.1 203.3h0M471.5 215.0h0M453.8 210.9h0M458.6 217.4h0M450.0 208.3h0M452.8 208.1h0M466.5 217.0h0M467.8 217.7h0M456.6 217.7h0M461.0 222.1h0M462.9 217.2h0M472.6 211.0h0M455.8 221.7h0M464.9 214.0h0M460.3 214.8h0M470.0 224.5h0M473.4 215.0h0M478.6 222.3h0M457.6 221.7h0M454.2 217.3h0M476.3 221.0h0M467.3 222.8h0M455.5 212.4h0M459.5 221.1h0M467.0 220.7h0M468.2 223.3h0M479.1 228.6h0M465.9 221.6h0M480.0 221.4h0M449.9 207.6h0M454.7 206.9h0M462.2 213.3h0M456.7 206.1h0M455.2 203.3h0M465.9 218.1h0M465.5 228.4h0M452.2 216.6h0M464.8 206.1h0M465.7 210.1h0M463.4 209.1h0M462.7 221.2h0M460.5 214.2h0M463.1 219.6h0M450.6 200.0h0M456.7 203.3h0M452.1 202.0h0M480.0 226.9h0M464.1 222.7h0M475.1 217.9h0M469.0 216.8h0M469.9 226.3h0M475.8 213.0h0M456.0 221.0h0M463.5 219.3h0M480.9 225.0h0M478.5 217.1h0M450.1 206.4h0M472.5 216.3h0M458.5 210.3h0M454.9 218.5h0M475.9 223.6h0M449.2 196.7h0M446.0 200.9h0M448.5 204.6h0M451.2 208.2h0M450.1 212.9h0M451.9 214.8h0M453.3 218.8h0M455.9 222.3h0M457.9 226.0h0M462.3 227.2h0M465.5 228.7h0M467.4 229.1h0M473.1 229.1h0M475.3 230.3h0M480.4 230.2h0M484.7 226.4h0M484.7 222.5h0M482.9 218.6h0M483.1 215.6h0M477.7 213.5h0M474.7 210.5h0M473.0 207.5h0M469.3 208.2h0M464.4 203.3h0M461.3 202.8h0M455.8 203.7h0M452.3 202.1h0M451.7 197.6h0"/>
<path stroke="#cbaa80" d="M414.1 379.7h0M408.7 359.1h0M423.4 354.2h0M417.6 364.6h0M427.9 358.3h0M400.2 350.8h0M425.6 365.9h0M415.3 362.6h0M423.4 379.9h0M415.6 359.6h0M412.5 352.7h0M417.7 356.8h0M402.1 340.5h0M420.9 378.5h0M423.4 360.3h0M404.0 338.1h0M403.8 345.8h0M420.1 358.5h0M421.8 373.6h0M412.6 354.5h0M404.8 362.1h0M418.9 362.1h0M404.9 341.4h0M411.3 342.0h0M419.0 349.0h0M424.7 352.3h0M425.9 375.5h0M417.2 373.8h0M398.2 349.5h0M406.8 351.3h0M406.6 348.4h0M406.4 341.5h0M405.0 368.1h0M406.0 360.2h0M400.9 343.9h0M405.4 350.8h0M411.4 351.4h0M422.8 376.4h0M423.8 371.4h0M422.1 371.9h0M414.3 361.2h0M413.1 373.4h0M403.0 362.8h0M429.3 360.8h0M410.4 357.0h0M407.4 345.6h0M417.8 353.8h0M411.2 361.3h0M413.6 352.6h0M428.9 374.1h0M429.5 376.8h0M427.1 372.5h0M425.6 359.3h0M425.4 356.6h0M427.4 358.8h0M406.0 366.3h0M410.6 352.4h0M423.4 353.9h0M422.4 353.7h0M428.9 373.1h0M422.0 375.9h0M421.3 365.1h0M403.2 354.7h0M401.6 352.8h0M425.0 362.6h0M418.3 368.3h0M415.5 345.0h0M414.5 358.7h0M410.3 341.6h0M412.2 353.2h0M406.6 355.0h0M413.1 380.9h0M424.9 365.0h0M423.7 376.0h0M417.3 367.2h0M417.4 373.7h0M405.4 359.0h0M415.5 375.6h0M420.4 346.7h0M416.6 344.9h0M405.1 367.8h0M400.7 358.1h0M404.6 367.7h0M425.2 358.4h0M409.8 360.3h0M420.8 355.5h0M423.9 361.4h0M433.0 370.9h0M406.4 360.0h0M401.6 336.8h0M406.0 347.8h0M417.3 358.8h0M414.1 343.6h0M422.8 380.0h0M416.9 378.9h0M426.4 353.5h0M420.5 376.3h0M418.4 381.9h0M401.5 345.5h0M403.8 357.3h0M423.2 376.5h0M414.3 371.2h0M416.1 357.8h0M400.0 351.4h0M419.6 348.8h0M427.9 375.4h0M421.7 379.7h0M412.7 380.2h0M404.7 368.5h0M416.4 360.3h0M417.6 354.0h0M417.9 383.3h0M419.9 369.1h0M421.7 373.5h0M400.8 336.3h0M399.8 339.2h0M399.1 344.4h0M398.9 346.5h0M398.7 351.4h0M396.6 355.1h0M399.8 360.2h0M402.4 363.5h0M402.2 367.5h0M404.7 369.6h0M406.1 373.1h0M408.4 377.9h0M412.3 378.8h0M413.2 383.3h0M415.6 385.9h0M421.7 383.5h0M424.5 379.2h0M428.6 378.5h0M431.1 377.4h0M432.9 373.1h0M430.7 361.0h0M430.7 357.0h0M429.1 353.4h0M425.2 349.6h0M422.1 347.1h0M419.2 344.8h0M416.5 341.1h0M411.7 341.7h0M408.9 338.0h0M406.4 336.7h0"/>
<path stroke="#cbaa80" d="M425.5 332.9h0M427.0 331.9h0M425.6 331.4h0M422.9 332.2h0M426.5 334.1h0M428.0 330.7h0"/>
<path stroke="#e43725" d="M150.1 368.1h0M141.5 352.6h0M168.9 337.7h0M178.8 347.8h0M178.8 339.5h0M169.4 359.6h0M164.9 342.9h0M148.8 379.1h0M154.5 355.4h0M135.8 358.2h0M151.8 329.6h0M144.2 332.4h0M164.7 377.3h0M175.1 362.5h0M151.3 374.3h0M183.0 365.3h0M135.5 355.5h0M141.1 352.7h0M150.9 351.8h0M137.0 345.7h0M180.2 349.9h0M173.0 368.1h0M168.3 344.5h0M164.7 375.0h0M148.2 333.6h0M158.7 340.5h0M165.9 337.0h0M178.2 357.9h0M154.9 363.6h0M150.7 366.3h0M149.9 345.8h0M139.9 343.1h0M148.7 368.6h0M152.6 338.4h0M180.3 350.2h0M150.4 372.4h0M145.5 339.2h0M138.3 337.5h0M145.4 348.9h0M156.3 347.5h0M137.7 368.0h0M181.3 346.6h0M146.4 380.0h0M150.6 361.7h0M149.4 349.6h0M143.2 370.1h0M140.0 349.6h0M149.6 355.8h0M149.5 383.5h0M149.4 345.8h0M181.3 365.6h0M146.1 347.1h0M153.8 381.6h0M175.0 371.6h0M157.0 338.3h0M147.8 332.9h0M175.1 362.2h0M144.5 361.0h0M151.7 343.1h0M158.4 358.2h0M179.3 339.7h0M136.8 359.5h0M145.2 369.6h0M176.6 365.6h0M151.5 356.3h0M146.1 334.9h0M182.6 367.6h0M141.6 369.0h0M142.8 352.3h0M138.7 343.0h0M165.6 347.5h0M137.0 362.6h0M153.9 340.2h0M165.5 374.9h0M148.6 335.2h0M150.6 364.6h0M171.5 334.0h0M169.0 334.9h0M174.2 365.2h0M154.3 345.8h0M154.8 339.8h0M185.6 362.4h0M168.1 350.2h0M150.8 364.8h0M166.2 355.1h0M183.1 347.2h0M143.7 351.0h0M145.5 372.7h0M155.7 328.7h0M178.5 347.8h0M140.7 372.4h0M154.1 367.6h0M170.8 345.5h0M184.1 355.8h0M150.5 353.6h0M165.4 377.6h0M139.3 374.3h0M146.5 375.2h0M177.7 371.9h0M172.4 336.9h0M136.6 347.0h0M184.3 363.8h0M155.4 357.4h0M158.0 338.3h0M152.9 338.8h0M142.0 351.4h0M168.9 351.2h0M178.3 344.8h0M166.9 357.2h0M151.0 380.7h0M181.9 346.8h0M140.4 362.5h0M154.6 375.3h0M142.6 334.0h0M171.4 370.6h0M139.6 368.3h0M149.1 339.8h0M177.7 355.2h0M144.1 340.6h0M159.4 340.3h0M170.4 369.0h0M157.6 376.2h0M151.7 356.4h0M147.9 383.6h0M176.9 348.0h0M146.3 339.7h0M146.0 346.3h0M140.7 342.8h0M181.1 367.4h0M177.0 353.8h0M151.1 330.7h0M155.7 354.9h0M153.1 363.7h0M149.3 350.2h0M174.3 372.6h0M137.1 343.5h0M148.6 333.1h0M145.5 331.1h0M150.5 358.0h0M157.4 337.4h0M171.7 332.0h0M173.5 367.8h0M149.1 367.4h0M148.0 378.9h0M149.9 353.3h0M179.8 353.5h0M184.8 348.1h0M180.7 352.3h0M166.0 337.8h0M163.8 356.7h0M140.3 334.0h0M143.9 369.4h0M170.3 357.5h0M152.0 329.3h0M186.4 352.6h0M153.8 381.6h0M179.5 351.4h0M139.5 357.6h0M136.0 349.4h0M160.4 341.3h0M156.7 372.7h0M151.7 382.3h0M185.1 350.6h0M136.8 365.1h0M177.6 345.2h0M146.1 373.4h0M173.5 369.5h0M152.2 378.3h0M149.5 366.6h0M149.1 380.9h0M147.6 339.9h0M157.8 374.0h0M138.3 356.1h0M149.3 344.7h0M179.4 338.8h0M181.9 353.9h0M151.5 338.9h0M153.9 380.4h0M185.9 362.6h0M150.2 371.5h0M150.8 343.3h0M154.7 351.4h0M177.6 337.0h0M151.8 340.3h0M142.7 358.7h0M152.3 374.9h0M172.1 332.3h0M148.2 371.1h0M159.9 380.2h0M156.5 376.9h0M150.8 382.5h0M162.4 340.8h0M160.2 377.7h0M157.3 382.7h0M185.6 350.2h0M153.8 375.2h0M180.6 359.6h0M169.7 346.3h0M139.3 347.4h0M141.1 367.5h0M149.5 340.1h0M140.3 372.8h0M147.4 347.7h0M152.2 332.6h0M146.9 353.7h0M170.3 349.7h0M136.7 354.7h0M182.8 359.5h0M150.4 338.0h0M168.4 359.5h0M137.1 364.2h0M141.1 354.0h0M152.2 346.5h0M169.1 358.5h0M179.7 366.5h0M183.3 357.3h0M151.8 380.0h0M159.4 370.8h0M176.7 359.8h0M140.7 350.1h0M156.6 326.7h0M143.1 379.6h0M185.1 353.3h0M141.1 334.4h0M147.7 348.4h0M168.8 361.4h0M147.1 337.2h0M185.6 355.4h0M147.3 336.8h0M140.0 367.1h0M150.8 377.5h0M155.1 347.4h0M173.8 350.6h0M157.1 345.8h0M170.0 331.3h0M146.4 341.4h0M153.6 334.5h0M146.7 369.7h0M172.8 356.8h0M166.3 353.5h0M176.8 344.0h0M173.0 334.8h0M163.7 378.3h0M151.0 345.7h0M162.5 357.2h0M144.9 369.2h0M175.9 364.4h0M167.0 347.2h0M137.3 348.9h0M142.6 378.9h0M175.0 368.7h0M138.7 355.5h0M137.6 332.6h0M138.3 338.4h0M137.7 342.1h0M136.2 346.8h0M133.5 350.0h0M134.4 354.4h0M135.9 357.7h0M135.1 364.1h0M137.4 367.1h0M137.1 371.6h0M138.4 375.9h0M139.3 377.9h0M142.1 382.3h0M144.0 384.2h0M149.5 384.2h0M153.3 384.1h0M157.0 384.7h0M162.3 382.9h0M163.1 380.5h0M166.8 376.8h0M170.3 376.3h0M173.8 372.9h0M176.6 372.0h0M182.3 372.3h0M182.8 366.3h0M187.0 363.1h0M188.1 359.1h0M186.9 356.0h0M187.9 352.0h0M185.9 348.9h0M183.1 345.0h0M182.5 341.2h0M178.4 337.6h0M175.8 336.0h0M173.3 330.9h0M171.8 328.8h0M168.4 327.8h0M158.7 323.9h0M156.4 326.8h0M150.5 327.4h0M148.6 328.5h0M144.5 331.3h0M139.5 331.5h0"/>
<path stroke="#92b0dc" d="M202.7 383.0h0M211.4 388.9h0M208.0 382.2h0M209.7 381.3h0M208.6 387.7h0M205.1 384.1h0M203.9 380.2h0M212.5 394.6h0M210.8 391.1h0M206.4 386.6h0M208.7 386.3h0M211.6 394.2h0M213.8 394.6h0M202.1 384.5h0M212.6 391.4h0M201.9 383.6h0M212.4 369.8h0M208.9 372.1h0M210.2 377.1h0M204.5 380.2h0M200.2 379.0h0M196.7 381.2h0M199.5 385.5h0M202.5 388.4h0M207.2 391.0h0M210.5 393.2h0M211.7 397.7h0M215.2 395.9h0M216.0 390.5h0M213.4 389.2h0M211.0 384.2h0M209.1 382.3h0M211.0 377.4h0M210.1 374.6h0"/>
<path stroke="#b46cad" d="M211.6 442.0h0M208.7 443.2h0M218.5 440.7h0M212.4 447.6h0M213.6 439.2h0M193.8 434.7h0M218.3 439.7h0M194.0 436.9h0M194.0 437.6h0M216.6 444.5h0M200.1 432.0h0M198.5 432.2h0M202.6 439.2h0M198.5 436.1h0M192.5 432.2h0M207.5 443.1h0M215.4 441.3h0M198.4 435.2h0M209.9 440.8h0M215.7 437.7h0M192.6 435.7h0M199.2 442.0h0M206.5 437.7h0M213.4 441.1h0M184.3 433.9h0M206.0 440.7h0M206.2 438.3h0M218.0 442.9h0M188.1 434.1h0M195.3 430.2h0M202.6 442.8h0M196.0 434.5h0M209.0 441.3h0M212.5 441.8h0M199.2 438.6h0M213.9 439.2h0M198.9 439.5h0M200.0 434.8h0M215.6 446.6h0M199.7 434.5h0M210.9 444.2h0M202.7 439.0h0M187.9 438.0h0M183.7 430.0h0M182.3 434.5h0M184.8 436.3h0M187.1 440.0h0M190.8 440.1h0M194.5 443.1h0M199.7 444.8h0M203.6 444.0h0M205.9 445.6h0M209.9 449.6h0M213.8 447.5h0M217.7 447.1h0M219.0 441.5h0M217.7 440.0h0M216.2 437.8h0M210.9 437.8h0M207.9 435.7h0M203.7 432.6h0M201.1 433.0h0M197.3 429.9h0M194.8 427.9h0M190.5 425.2h0M185.8 427.9h0"/>
<path stroke="#288a64" d="M267.5 416.2h0M265.2 428.3h0M259.5 445.4h0M259.7 443.5h0M267.2 419.6h0M257.9 440.5h0M269.1 427.4h0M275.6 417.9h0M266.1 441.7h0M267.5 434.5h0M259.7 446.1h0M256.8 440.4h0M260.6 435.3h0M263.1 433.1h0M260.3 427.1h0M254.9 442.2h0M263.4 425.6h0M278.9 412.0h0M267.8 438.0h0M264.4 440.9h0M263.2 435.0h0M259.4 442.4h0M268.4 425.5h0M261.2 432.0h0M257.5 445.5h0M259.1 436.4h0M263.3 419.8h0M257.5 441.6h0M261.5 424.1h0M269.2 426.5h0M272.3 437.5h0M256.7 433.5h0M281.3 413.4h0M266.0 441.2h0M266.7 421.6h0M257.6 431.0h0M266.9 432.8h0M269.0 438.1h0M257.0 431.7h0M267.0 433.4h0M254.5 439.1h0M272.0 416.3h0M265.5 429.8h0M280.6 412.7h0M271.7 438.1h0M263.6 431.4h0M262.2 425.4h0M267.1 436.3h0M259.8 430.8h0M268.2 437.5h0M282.7 413.6h0M253.0 434.8h0M251.0 437.5h0M251.7 443.0h0M255.9 445.2h0M260.1 447.5h0M262.6 446.5h0M265.2 442.3h0M269.4 439.2h0M273.3 439.9h0M274.0 433.0h0M272.8 430.4h0M269.9 427.2h0M271.9 424.5h0M272.1 421.0h0M276.2 419.6h0M278.4 416.2h0M282.9 416.9h0M285.9 412.0h0M283.6 407.5h0M284.3 407.3h0M280.7 411.7h0M278.0 412.1h0M272.3 411.6h0M268.0 413.6h0M264.2 414.5h0M260.9 416.6h0M260.6 421.2h0M260.3 427.4h0M257.0 426.9h0M255.0 430.7h0M286.4 400.1h0M286.5 397.0h0M283.0 399.0h0"/>
<path stroke="#85cdd2" d="M322.3 426.9h0M307.2 427.8h0M317.6 420.9h0M311.7 423.5h0M312.8 418.1h0M310.0 431.4h0M316.9 431.3h0M308.9 423.8h0M305.3 425.5h0M305.9 425.9h0M316.1 417.4h0M310.1 415.3h0M313.4 419.3h0M322.4 427.8h0M321.8 429.1h0M314.6 422.0h0M315.3 427.2h0M309.8 435.6h0M321.4 426.4h0M309.1 425.0h0M321.1 430.8h0M316.8 430.6h0M321.5 429.9h0M318.2 419.5h0M306.5 425.6h0M307.1 431.9h0M322.8 427.3h0M313.8 434.2h0M308.2 433.7h0M311.5 418.9h0M319.1 429.6h0M311.7 429.9h0M310.4 424.6h0M303.8 433.0h0M310.4 426.6h0M318.3 415.7h0M307.6 431.0h0M304.5 430.5h0M307.7 427.1h0M308.4 416.4h0M307.5 421.0h0M305.4 423.4h0M302.8 426.2h0M302.3 430.3h0M300.0 436.2h0M304.6 436.0h0M308.4 437.6h0M312.6 435.1h0M314.6 433.6h0M318.7 431.5h0M323.8 431.3h0M322.7 427.0h0M320.5 422.3h0M320.6 419.6h0M322.6 415.8h0M316.8 412.0h0M315.0 410.2h0M311.6 413.2h0"/>
<path stroke="#85cdd2" d="M355.4 356.8h0M346.5 364.0h0M346.3 361.3h0M346.9 371.2h0M357.3 368.7h0M349.5 363.1h0M349.1 361.1h0M358.9 357.6h0M352.5 368.1h0M346.2 371.3h0M352.1 376.0h0M342.7 371.3h0M352.4 376.3h0M352.3 368.8h0M345.9 368.4h0M353.5 355.2h0M348.6 363.8h0M350.3 367.5h0M345.8 371.5h0M345.2 368.2h0M345.4 359.4h0M354.5 370.4h0M345.4 370.1h0M346.9 365.3h0M341.8 371.4h0M348.9 366.5h0M357.8 353.4h0M346.6 360.4h0M348.6 370.8h0M351.0 359.9h0M354.8 355.3h0M357.5 368.6h0M345.4 369.3h0M346.9 366.4h0M339.0 369.7h0M342.7 372.6h0M346.6 375.0h0M348.4 376.6h0M354.4 375.6h0M356.5 373.2h0M360.0 368.5h0M358.6 360.2h0M359.6 356.7h0M358.0 353.5h0M353.8 353.8h0M351.2 353.4h0M346.2 356.1h0M343.4 358.6h0M341.1 362.5h0M343.4 365.1h0M342.8 369.0h0"/>
<path stroke="#f6b792" d="M243.9 64.4h0M243.1 67.0h0M246.9 78.4h0M239.5 67.8h0M244.6 61.9h0M244.0 76.1h0M235.0 71.5h0M236.4 70.5h0M235.9 66.0h0M231.1 64.7h0M234.3 62.7h0M233.1 76.1h0M236.0 83.2h0M245.6 78.2h0M243.1 79.6h0M239.6 61.2h0M232.6 69.4h0M228.9 67.3h0M229.9 64.7h0M232.6 68.2h0M235.6 63.6h0M226.6 65.1h0M235.6 80.4h0M231.8 71.0h0M239.2 84.5h0M245.1 86.6h0M246.4 70.4h0M231.1 66.9h0M244.4 76.2h0M234.4 65.2h0M231.9 67.0h0M236.8 61.3h0M237.7 77.2h0M242.4 75.7h0M242.6 64.6h0M244.1 65.9h0M233.6 77.4h0M243.7 80.7h0M233.3 65.0h0M230.3 66.3h0M239.8 66.6h0M238.4 82.2h0M245.3 81.6h0M246.7 78.8h0M236.4 60.1h0M244.6 73.5h0M237.7 65.0h0M240.3 63.9h0M237.7 73.7h0M225.0 61.4h0M224.3 64.9h0M226.2 70.9h0M229.1 73.0h0M229.8 76.9h0M234.5 79.5h0M235.9 84.0h0M238.0 85.2h0M241.8 88.3h0M244.7 90.2h0M248.4 86.5h0M249.8 81.9h0M248.2 78.3h0M247.5 74.9h0M247.8 69.9h0M246.6 67.2h0M245.7 62.2h0M242.4 60.5h0M237.8 59.6h0M235.5 60.0h0M228.7 58.4h0"/>
<path stroke="#4c5e78" d="M207.3 130.6h0M187.0 128.2h0M186.9 115.5h0M189.9 119.9h0M210.8 127.2h0M189.7 110.7h0M187.1 124.2h0M194.6 120.1h0M201.2 124.2h0M212.8 129.7h0M203.2 116.8h0M200.3 132.5h0M177.9 128.8h0M202.6 128.1h0M208.6 133.4h0M198.7 123.8h0M191.1 121.2h0M192.4 115.0h0M213.3 128.6h0M176.6 126.7h0M193.1 135.0h0M184.5 120.5h0M192.4 129.1h0M185.1 113.6h0M187.4 123.9h0M192.3 127.8h0M183.8 109.2h0M214.3 129.7h0M177.7 122.7h0M203.5 133.3h0M195.9 134.4h0M220.4 131.8h0M172.0 116.4h0M203.2 137.2h0M185.8 132.6h0M218.4 136.2h0M197.9 136.3h0M183.6 119.9h0M180.8 113.9h0M190.8 123.0h0M210.8 117.1h0M189.4 119.1h0M178.9 126.5h0M189.5 118.0h0M191.1 132.2h0M214.2 132.2h0M197.9 119.8h0M176.8 111.4h0M219.8 132.2h0M200.0 119.8h0M199.9 139.3h0M179.8 126.1h0M175.5 112.0h0M189.4 125.7h0M186.7 120.6h0M195.4 113.3h0M209.9 133.9h0M179.3 113.2h0M180.2 122.6h0M194.1 126.9h0M215.5 115.1h0M188.8 112.9h0M220.1 134.4h0M197.4 120.5h0M201.8 120.6h0M189.9 132.3h0M174.8 111.3h0M179.7 122.9h0M192.8 124.6h0M207.0 133.8h0M215.1 115.2h0M221.7 130.8h0M207.6 119.5h0M205.3 127.7h0M201.6 117.3h0M208.2 115.1h0M197.5 110.9h0M199.4 112.6h0M218.5 132.8h0M211.6 129.2h0M189.6 111.8h0M178.9 110.1h0M217.6 134.1h0M198.9 132.2h0M185.6 120.9h0M191.3 124.4h0M205.8 117.3h0M201.7 124.6h0M178.1 128.5h0M185.0 131.1h0M193.4 129.3h0M199.7 123.7h0M197.8 134.9h0M209.6 133.0h0M189.0 126.6h0M198.3 123.6h0M196.6 138.0h0M208.3 129.2h0M196.1 132.0h0M205.0 116.8h0M194.1 113.6h0M200.9 139.3h0M193.7 122.5h0M190.4 127.5h0M207.2 127.0h0M209.7 115.1h0M199.8 129.2h0M206.6 119.0h0M178.2 128.6h0M180.5 120.1h0M189.3 126.4h0M178.5 130.5h0M203.7 116.9h0M193.1 128.1h0M200.4 119.2h0M189.1 130.9h0M208.7 130.3h0M175.1 117.7h0M192.5 134.7h0M202.2 133.2h0M220.4 131.9h0M210.6 117.8h0M207.1 118.1h0M201.6 120.9h0M195.6 137.7h0M206.4 130.7h0M171.9 114.9h0M171.0 119.6h0M173.6 122.1h0M174.5 127.2h0M178.1 129.7h0M181.3 133.8h0M183.7 134.1h0M187.0 136.7h0M193.1 137.9h0M193.7 140.7h0M196.9 142.4h0M199.5 140.4h0M203.6 138.0h0M206.3 136.4h0M212.2 135.2h0M215.4 137.6h0M217.4 138.6h0M223.4 137.3h0M222.5 133.1h0M223.5 128.1h0M217.2 125.1h0M215.9 122.4h0M217.0 119.6h0M217.6 115.5h0M211.6 112.5h0M209.2 111.0h0M204.6 112.4h0M201.6 110.0h0M196.5 111.0h0M193.2 108.7h0M188.5 107.8h0M185.3 108.0h0M180.4 107.5h0M176.9 109.9h0M174.1 111.1h0"/>
<path stroke="#0798d6" d="M236.0 84.0h0"/>
<path stroke="#0798d6" d="M345.8 84.1h0"/>
<path stroke="#c0a3cf" d="M415.0 157.0h0"/>
<path stroke="#c0a3cf" d="M418.0 153.0h0"/>
<path stroke="#6b76ab" d="M413.0 162.0h0"/>
<path stroke="#0798d6" d="M301.2 222.4h0"/>
<path stroke="#0798d6" d="M294.0 195.3h0"/>
<path stroke="#0798d6" d="M338.9 211.1h0"/>
<path stroke="#0798d6" d="M335.6 218.4h0"/>
<path stroke="#0798d6" d="M351.4 203.2h0"/>
<path stroke="#0798d6" d="M311.1 233.6h0"/>
<path stroke="#0798d6" d="M319.7 242.2h0"/>
<path stroke="#0798d6" d="M334.9 244.2h0"/>
<path stroke="#6b76ab" d="M307.2 237.6h0"/>
<path stroke="#f29ca6" d="M318.0 229.0h0"/>
<path stroke="#f29ca6" d="M324.0 226.0h0"/>
<path stroke="#f29ca6" d="M330.0 230.0h0"/>
<path stroke="#f29ca6" d="M326.0 236.0h0"/>
<path stroke="#f29ca6" d="M320.0 240.0h0"/>
<path stroke="#f29ca6" d="M331.0 240.0h0"/>
<path stroke="#f29ca6" d="M317.0 246.0h0"/>
<path stroke="#6b76ab" d="M315.1 248.1h0"/>
<path stroke="#c1531c" d="M110.3 301.6h0"/>
<path stroke="#e6a225" d="M128.5 318.6h0"/>
<path stroke="#e6a225" d="M138.6 326.7h0"/>
<path stroke="#e6a225" d="M131.0 331.0h0"/>
<path stroke="#e43725" d="M251.3 412.4h0"/>
<path stroke="#f29ca6" d="M273.0 405.0h0"/>
<path stroke="#f29ca6" d="M277.0 408.0h0"/>
<path stroke="#288a64" d="M292.0 389.0h0"/>
<path stroke="#85cdd2" d="M294.0 403.0h0"/>
<path stroke="#85cdd2" d="M296.0 411.0h0"/>
<path stroke="#cbaa80" d="M392.0 378.0h0"/>
<path stroke="#cbaa80" d="M394.0 384.0h0"/>
<path stroke="#cbaa80" d="M396.0 376.0h0"/>
<path stroke="#85cdd2" d="M320.0 398.3h0"/>
<path stroke="#85cdd2" d="M297.3 409.7h0"/>
<path stroke="#85cdd2" d="M340.8 412.8h0"/>
<path stroke="#85cdd2" d="M350.1 419.0h0"/>
<path stroke="#85cdd2" d="M350.1 428.3h0"/>
<path stroke="#85cdd2" d="M352.2 390.0h0"/>
<path stroke="#85cdd2" d="M354.3 396.2h0"/>
<path stroke="#85cdd2" d="M354.3 402.4h0"/>
<path stroke="#85cdd2" d="M362.6 385.8h0"/>
<path stroke="#6b76ab" d="M292.6 290.6h0"/>
<path stroke="#6b76ab" d="M307.7 283.0h0"/>
<path stroke="#6b76ab" d="M319.0 298.0h0"/>
<path stroke="#6b76ab" d="M328.5 293.4h0"/>
<path stroke="#6b76ab" d="M332.3 298.0h0"/>
<path stroke="#6b76ab" d="M282.3 317.0h0"/>
<path stroke="#6b76ab" d="M212.0 307.0h0"/>
<path stroke="#6b76ab" d="M200.0 318.0h0"/>
<path stroke="#6b76ab" d="M226.0 296.0h0"/>
<path stroke="#6b76ab" d="M240.0 299.0h0"/>
<path stroke="#6b76ab" d="M256.0 393.0h0"/>
<path stroke="#6b76ab" d="M259.0 398.0h0"/>
<path stroke="#6b76ab" d="M262.0 402.0h0"/>
<path stroke="#c1531c" d="M203.0 199.0h0"/>
<path stroke="#c1531c" d="M209.0 200.0h0"/>
<path stroke="#c1531c" d="M214.0 201.0h0"/>
<path stroke="#e6a225" d="M160.0 196.0h0"/>
<path stroke="#e6a225" d="M178.0 196.0h0"/>
<path stroke="#e6a225" d="M185.0 202.0h0"/>
<path stroke="#e6a225" d="M172.0 203.0h0"/>
<path stroke="#e6a225" d="M182.0 222.0h0"/>
<path stroke="#e6a225" d="M198.0 226.0h0"/>
<path stroke="#e6a225" d="M206.0 229.0h0"/>
<path stroke="#e6a225" d="M141.0 240.0h0"/>
<path stroke="#e6a225" d="M215.0 257.0h0"/>
<path stroke="#e6a225" d="M165.0 190.0h0"/>
<path stroke="#e6a225" d="M170.0 200.0h0"/>
<path stroke="#e6a225" d="M186.0 170.0h0"/>
<path stroke="#e6a225" d="M182.0 165.0h0"/>
<path stroke="#e6a225" d="M190.0 168.0h0"/>
<path stroke="#e6a225" d="M200.0 190.0h0"/>
<path stroke="#e6a225" d="M204.0 196.0h0"/>
<path stroke="#85cdd2" d="M319.0 351.0h0M322.0 355.0h0M325.0 359.0h0M328.0 363.0h0M331.0 367.0h0"/>
<path stroke="#85cdd2" d="M324.0 372.0h0M320.0 376.0h0M316.0 380.0h0M313.0 385.0h0M312.0 390.0h0"/>
<path stroke="#85cdd2" d="M334.0 385.0h0M338.0 382.0h0M342.0 380.0h0M346.0 378.0h0"/>
<path stroke="#85cdd2" d="M327.0 396.0h0M331.0 393.0h0"/>
<path stroke="#85cdd2" d="M307.0 355.0h0M310.0 360.0h0M313.0 364.0h0"/>
<path stroke="#e6a225" d="M628.0 288.9h0M592.9 212.6h0M596.2 218.7h0M663.3 307.0h0M559.5 243.3h0M673.0 215.1h0M679.4 245.8h0M604.8 240.3h0M676.3 257.1h0M644.9 258.7h0M669.0 249.9h0M675.3 254.6h0M668.6 230.9h0M612.0 257.8h0M663.2 211.1h0M589.3 219.5h0M665.9 302.2h0M646.3 215.7h0M647.0 255.7h0M663.6 267.9h0M605.0 240.1h0M567.1 240.7h0M586.9 263.3h0M648.0 239.9h0M673.7 264.7h0M595.1 290.1h0M669.8 240.4h0M593.7 159.8h0M650.0 318.8h0M623.3 287.1h0M668.9 263.1h0M596.3 277.8h0M679.9 219.7h0M571.1 269.4h0M676.9 237.9h0M636.9 314.2h0M643.6 270.9h0M607.9 244.5h0M584.4 184.3h0M661.7 207.5h0M616.8 276.5h0M585.6 284.8h0M629.9 284.0h0M649.3 269.1h0M604.5 237.6h0M618.6 264.5h0M622.8 287.8h0M677.8 219.7h0M618.0 263.5h0M611.4 263.6h0M671.3 292.7h0M597.6 175.9h0M642.1 317.3h0M656.3 261.5h0M658.4 291.4h0M637.6 278.7h0M621.5 309.5h0M607.9 186.7h0M664.2 276.7h0M602.0 282.3h0M668.6 242.1h0M592.6 234.5h0M684.9 278.8h0M663.7 266.3h0M658.5 218.7h0M604.1 232.9h0M577.2 207.8h0M660.1 232.1h0M594.9 229.0h0M690.4 262.4h0M607.2 296.4h0M584.9 207.9h0M575.7 194.0h0M683.4 278.2h0M664.6 208.0h0M607.1 247.7h0M573.7 207.4h0M685.3 224.7h0M562.6 204.9h0M659.2 216.2h0M663.3 279.3h0M658.6 318.4h0M585.6 181.6h0M641.7 262.2h0M608.5 301.0h0M568.2 195.1h0M683.7 232.7h0M654.0 264.2h0M564.6 258.5h0M589.3 177.2h0M604.9 293.2h0M600.9 257.6h0M625.6 294.2h0M692.9 237.0h0M642.4 267.8h0M572.1 273.6h0M620.9 192.7h0M648.6 225.8h0M623.2 280.5h0M638.1 262.2h0M611.0 291.6h0M672.5 212.1h0M638.9 276.0h0M585.3 210.4h0M560.1 255.1h0M681.2 246.8h0M575.1 218.8h0M589.0 214.6h0M673.5 228.5h0M566.2 273.5h0M632.4 196.6h0M602.9 261.1h0M617.4 287.2h0M667.6 330.0h0M656.5 311.9h0M667.8 285.0h0M685.3 228.1h0M585.6 180.3h0M565.6 202.8h0M661.0 317.9h0M690.4 263.9h0M609.4 187.6h0M665.2 292.8h0M625.9 232.0h0M582.1 273.4h0M650.8 200.2h0M642.2 313.6h0M650.2 309.9h0M680.0 286.0h0M583.2 286.6h0M654.6 280.4h0M580.5 188.8h0M676.9 219.8h0M627.0 281.4h0M645.3 193.8h0M645.0 222.3h0M610.4 273.9h0M627.5 200.7h0M615.0 304.4h0M587.0 261.0h0M648.8 259.7h0M656.8 210.7h0M667.9 251.3h0M697.9 264.2h0M588.4 258.7h0M590.4 168.8h0M625.2 233.3h0M628.7 266.4h0M686.7 279.0h0M610.8 297.7h0M566.5 268.4h0M611.1 300.3h0M645.2 216.9h0M673.3 229.4h0M578.2 175.4h0M571.2 215.4h0M661.0 308.4h0M647.4 214.7h0M684.4 233.2h0M583.2 186.9h0M605.2 306.7h0M574.7 190.9h0M659.3 323.5h0M644.1 231.7h0M642.0 248.3h0M588.4 169.7h0M566.2 262.1h0M664.9 235.8h0M601.9 271.5h0M634.1 291.7h0M667.0 231.9h0M629.8 214.3h0M675.0 226.0h0M618.8 247.9h0M585.4 262.4h0M637.7 263.4h0M585.4 252.5h0M584.3 286.3h0M581.6 224.4h0M684.7 254.3h0M638.3 258.0h0M619.7 241.0h0M624.4 226.0h0M682.9 243.9h0M601.7 175.5h0M642.2 316.1h0M673.5 237.4h0M662.0 305.8h0M650.5 237.3h0M632.3 238.2h0M598.6 212.4h0M643.0 273.6h0M592.1 178.5h0M571.2 253.2h0M629.9 203.7h0M676.7 226.3h0M573.0 218.0h0M561.6 207.4h0M595.9 278.8h0M554.5 209.3h0M587.3 259.2h0M643.7 198.5h0M670.7 298.6h0M619.2 271.3h0M645.9 235.9h0M639.1 243.4h0M621.2 269.0h0M635.3 258.3h0M643.5 219.4h0M623.4 273.7h0M660.7 220.5h0M645.8 185.3h0M566.1 245.4h0M570.3 256.1h0M593.0 176.9h0M594.1 285.1h0M612.7 259.2h0M591.5 293.5h0M627.9 309.5h0M600.5 306.2h0M671.9 261.4h0M591.9 234.3h0M578.1 276.7h0M623.7 291.0h0M595.4 220.6h0M652.9 252.2h0M660.4 269.5h0M600.9 269.3h0M675.1 327.3h0M667.7 272.0h0M627.4 310.0h0M618.1 277.7h0M642.8 243.8h0M641.3 257.2h0M620.8 197.4h0M615.4 257.0h0M651.4 244.4h0M674.8 292.5h0M673.9 229.1h0M569.1 245.2h0M603.4 276.8h0M640.6 213.7h0M646.5 255.2h0M593.7 249.8h0M654.4 248.6h0M623.9 267.9h0M591.1 232.3h0M653.6 318.8h0M668.0 305.0h0M676.0 232.8h0M654.4 218.1h0M568.3 210.1h0M662.3 206.1h0M597.5 212.2h0M589.0 223.7h0M641.8 267.1h0M673.0 243.6h0M576.7 268.5h0M677.8 270.9h0M660.0 273.9h0M666.5 297.2h0M674.3 247.0h0M602.7 287.6h0M591.2 250.7h0M584.5 256.3h0M575.9 275.7h0M618.0 259.5h0M582.6 162.9h0M659.7 306.2h0M580.8 262.6h0M559.4 259.3h0M658.8 281.0h0M596.6 167.0h0M685.3 275.2h0M582.7 200.7h0M646.1 235.0h0M645.5 234.2h0M596.5 234.1h0M596.3 224.8h0M602.1 213.9h0M571.6 261.0h0M649.8 221.9h0M609.1 264.0h0M618.6 264.0h0M626.6 254.3h0M586.5 269.8h0M580.4 194.9h0M614.6 272.6h0M627.9 298.9h0M626.0 246.7h0M631.7 237.4h0M611.2 301.4h0M650.8 239.3h0M589.0 280.5h0M617.1 255.5h0M639.0 188.1h0M660.0 273.7h0M676.5 238.0h0M653.1 305.4h0M563.0 207.0h0M564.6 200.7h0M598.9 288.2h0M563.9 244.8h0M630.4 233.7h0M565.8 217.7h0M591.7 277.8h0M654.4 240.4h0M650.2 265.4h0M584.3 185.4h0M565.7 208.7h0M604.5 266.0h0M625.5 203.7h0M615.6 302.2h0M590.0 293.2h0M621.7 251.3h0M584.1 192.7h0M684.8 224.9h0M564.8 251.5h0M584.5 224.6h0M601.0 167.7h0M597.3 268.8h0M639.2 279.8h0M679.5 225.7h0M633.1 229.5h0M582.0 186.2h0M634.1 302.7h0M566.3 236.6h0M683.8 242.0h0M580.7 276.6h0M674.8 250.8h0M672.6 321.5h0M653.6 259.1h0M588.6 256.2h0M635.7 254.0h0M631.7 229.3h0M584.7 270.2h0M561.6 263.5h0M667.1 302.6h0M580.6 184.9h0M660.6 331.4h0M598.4 287.4h0M598.9 177.5h0M612.1 271.7h0M580.1 284.0h0M570.7 192.0h0M564.6 267.8h0M662.4 221.6h0M667.4 272.8h0M570.9 238.3h0M619.4 268.4h0M584.6 280.8h0M699.4 259.6h0M673.7 321.1h0M563.4 227.1h0M687.0 228.4h0M604.0 303.8h0M678.8 226.8h0M653.4 265.9h0M600.7 220.6h0M662.9 242.3h0M647.9 230.2h0M632.7 225.3h0M598.0 180.1h0M662.1 213.1h0M634.5 245.2h0M649.8 225.6h0M582.6 164.2h0M616.9 268.4h0M654.8 327.8h0M635.9 225.6h0M567.4 258.7h0M589.3 290.1h0M655.7 278.3h0M567.8 235.9h0M634.8 299.5h0M636.8 230.9h0M618.6 289.3h0M665.4 292.4h0M629.6 199.1h0M560.7 235.6h0M659.7 330.0h0M579.0 215.4h0M618.1 261.5h0M615.5 187.9h0M568.1 188.0h0M674.6 221.7h0M624.7 288.4h0M671.1 227.0h0M623.6 255.7h0M579.2 239.9h0M685.0 277.2h0M609.1 302.5h0M635.7 195.6h0M651.4 210.1h0M600.8 232.9h0M679.1 274.7h0M614.6 262.1h0M604.5 293.8h0M616.7 254.8h0M631.9 233.8h0M648.9 258.9h0M595.5 226.7h0M576.7 208.0h0M622.9 268.2h0M627.0 260.0h0M675.1 238.4h0M631.9 233.6h0M573.0 180.7h0M665.2 325.7h0M648.1 211.4h0M634.0 213.5h0M598.1 174.6h0M678.1 222.0h0M583.3 166.0h0M632.4 270.5h0M591.4 164.6h0M686.0 276.0h0M635.5 242.4h0M672.8 284.6h0M639.1 189.1h0M662.3 210.7h0M674.4 228.9h0M603.8 244.9h0M569.7 212.6h0M610.0 186.0h0M674.2 283.7h0M670.0 293.3h0M650.5 308.3h0M638.1 212.2h0M584.6 274.0h0M559.3 244.0h0M585.5 174.6h0M593.8 225.4h0M632.9 317.6h0M579.6 241.5h0M573.5 209.5h0M680.4 246.0h0M610.4 195.1h0M630.3 215.7h0M688.5 260.2h0M657.4 306.4h0M624.6 246.2h0M572.5 260.5h0M606.5 286.6h0M648.9 252.0h0M629.7 226.3h0M561.9 202.0h0M581.5 170.7h0M572.8 251.6h0M624.0 291.5h0M583.3 163.1h0M654.3 316.9h0M692.2 238.6h0M614.7 260.6h0M661.8 326.7h0M665.7 208.3h0M582.3 225.6h0M633.7 227.5h0M626.8 255.9h0M649.8 182.4h0M628.0 215.2h0M585.6 174.2h0M671.4 240.6h0M585.8 288.2h0M690.8 274.3h0M564.9 269.7h0M654.6 327.9h0M672.3 326.1h0M650.6 327.4h0M597.2 173.1h0M670.3 215.6h0M657.3 272.3h0M605.4 285.4h0M602.9 220.4h0M688.4 275.5h0M614.4 266.3h0M611.7 244.8h0M643.5 306.0h0M568.9 186.1h0M615.4 259.6h0M647.9 199.9h0M634.6 288.3h0M601.4 225.6h0M581.9 268.1h0M582.1 253.9h0M628.3 306.9h0M683.2 272.3h0M563.2 242.5h0M582.6 198.0h0M629.6 254.7h0M688.4 233.2h0M640.2 189.1h0M689.7 233.9h0M602.1 172.5h0M587.9 208.7h0M682.7 252.6h0M554.7 209.7h0M669.6 325.0h0M560.5 207.6h0M654.4 203.9h0M630.1 285.3h0M635.6 205.2h0M579.8 274.6h0M639.6 203.2h0M590.5 296.3h0M655.4 321.7h0M632.4 221.3h0M586.5 272.2h0M590.6 230.2h0M641.8 250.1h0M596.4 252.0h0M575.9 238.1h0M590.8 169.2h0M657.1 315.1h0M617.5 277.9h0M639.9 195.4h0M639.7 196.3h0M622.2 195.1h0M576.1 189.1h0M692.4 233.1h0M661.6 203.6h0M675.3 238.5h0M596.8 290.4h0M625.2 206.8h0M590.6 225.5h0M570.4 257.0h0M661.5 248.1h0M670.0 234.0h0M593.1 156.8h0M641.3 243.4h0M639.7 249.5h0M583.4 267.4h0M576.8 285.2h0M632.0 196.6h0M672.9 216.0h0M662.2 320.9h0M677.3 240.1h0M641.8 254.9h0M629.1 234.5h0M658.2 305.2h0M640.4 248.2h0M648.7 252.2h0M680.1 251.8h0M572.0 221.8h0M671.9 230.7h0M686.3 279.7h0M666.6 330.1h0M576.3 250.4h0M560.9 228.8h0M676.0 278.3h0M629.7 206.1h0M607.9 307.3h0M581.8 199.6h0M584.2 198.0h0M629.0 215.4h0M660.3 268.5h0M577.2 279.1h0M628.1 270.0h0M595.1 165.4h0M604.6 186.9h0M616.8 274.3h0M555.2 215.6h0M579.1 254.3h0M619.7 249.5h0M629.0 265.0h0M628.1 308.7h0M628.3 262.1h0M674.6 252.5h0M665.6 206.0h0M615.6 278.0h0M598.9 286.4h0M621.7 311.2h0M562.7 209.9h0M652.2 210.8h0M597.6 245.0h0M643.8 215.9h0M560.2 209.6h0M609.2 244.7h0M558.2 236.4h0M580.7 259.5h0M585.8 172.5h0M582.9 203.9h0M660.0 228.4h0M635.5 267.0h0M648.9 188.7h0M672.3 229.1h0M633.5 228.7h0M602.7 218.5h0M587.1 167.6h0M579.0 266.9h0M573.5 273.5h0M592.6 290.7h0M591.9 163.4h0M653.8 196.9h0M677.7 246.9h0M588.1 206.4h0M669.2 291.4h0M632.2 304.2h0M592.3 224.6h0M646.9 311.6h0M665.3 240.5h0M670.2 293.8h0M593.3 271.7h0M645.5 242.9h0M604.5 226.2h0M609.5 290.5h0M597.3 262.1h0M680.2 225.2h0M633.3 213.9h0M628.4 264.7h0M684.6 275.5h0M583.1 167.7h0M570.7 197.2h0M621.7 281.2h0M582.5 211.1h0M574.4 239.2h0M609.9 253.8h0M607.4 287.8h0M669.1 241.8h0M629.4 220.6h0M583.4 204.0h0M558.8 205.6h0M659.3 294.9h0M655.6 212.2h0M601.0 169.8h0M629.5 246.1h0M649.7 239.1h0M606.4 280.3h0M688.1 241.0h0M685.5 245.3h0M593.7 215.0h0M637.5 223.8h0M603.4 224.5h0M650.1 243.1h0M627.4 265.8h0M583.3 263.6h0M619.5 275.1h0M661.5 313.1h0M587.2 286.6h0M605.8 299.8h0M671.9 295.3h0M582.1 288.0h0M620.4 290.7h0M680.6 220.5h0M646.4 310.2h0M653.8 315.6h0M649.2 198.4h0M664.9 267.8h0M586.1 211.1h0M576.7 262.5h0M656.1 284.7h0M560.4 204.2h0M556.3 226.1h0M643.2 256.0h0M582.6 187.4h0M631.4 305.7h0M618.4 295.4h0M668.1 235.5h0M648.1 219.0h0M581.3 208.8h0M621.8 279.2h0M574.2 207.9h0M649.1 234.9h0M616.7 301.8h0M671.0 325.8h0M576.6 275.6h0M682.7 233.0h0M651.1 241.7h0M579.4 216.9h0M620.3 245.5h0M617.1 265.7h0M632.9 301.6h0M578.5 204.7h0M591.2 166.5h0M623.0 198.2h0M625.9 309.1h0M638.6 230.2h0M557.3 228.0h0M578.8 234.8h0M639.2 258.7h0M592.8 180.0h0M632.0 244.0h0M576.5 180.3h0M577.9 267.3h0M638.9 194.9h0M692.2 266.2h0M561.5 206.8h0M575.3 191.4h0M672.9 322.5h0M591.1 217.2h0M670.8 217.1h0M669.6 304.1h0M689.0 254.5h0M592.6 170.4h0M554.0 218.3h0M628.6 304.4h0M603.0 235.4h0M690.0 264.8h0M634.6 282.6h0M661.0 246.4h0M606.2 259.8h0M641.1 205.6h0M644.9 226.8h0M575.9 269.6h0M599.1 271.3h0M676.0 223.6h0M642.2 197.3h0M607.9 256.0h0M679.1 271.0h0M558.0 234.7h0M637.3 249.6h0M662.7 246.4h0M610.6 254.2h0M679.3 240.7h0M625.0 221.2h0M650.8 264.5h0M588.5 221.1h0M675.5 257.2h0M564.0 197.4h0M578.3 222.7h0M584.5 222.1h0M589.7 213.5h0M640.8 280.2h0M668.7 226.6h0M666.1 321.7h0M621.3 281.7h0M657.2 212.1h0M646.2 317.1h0M641.7 319.3h0M636.6 303.2h0M607.5 249.7h0M587.4 290.9h0M671.5 256.5h0M602.2 282.3h0M664.2 277.1h0M593.6 158.5h0M608.2 268.9h0M656.5 255.6h0M686.5 240.0h0M685.5 236.8h0M592.4 161.9h0M635.8 276.1h0M577.5 204.5h0M584.8 225.0h0M653.9 313.9h0M661.1 228.1h0M592.8 293.3h0M634.3 277.7h0M567.8 194.5h0M659.9 265.6h0M634.9 268.1h0M665.3 248.1h0M615.4 274.2h0M638.8 197.5h0M562.0 216.3h0M608.8 287.8h0M596.8 175.3h0M624.0 212.3h0M637.4 257.2h0M654.6 214.0h0M606.4 306.0h0M687.4 276.3h0M626.7 254.0h0M578.6 183.1h0M563.2 225.6h0M654.5 210.1h0M638.8 268.5h0M581.5 291.9h0M631.0 205.4h0M562.2 244.1h0M650.1 316.8h0M583.1 262.0h0M664.8 210.0h0M654.0 312.8h0M592.0 271.5h0M630.2 314.0h0M576.8 207.2h0M636.1 217.3h0M621.9 305.4h0M580.4 198.7h0M591.7 237.1h0M633.9 287.8h0M595.3 227.3h0M673.5 330.3h0M597.5 219.2h0M562.6 201.2h0M576.6 202.0h0M674.8 263.9h0M567.4 201.5h0M579.4 175.8h0M636.3 287.0h0M610.5 265.9h0M615.2 274.4h0M620.4 261.1h0M633.0 221.6h0M631.8 231.4h0M634.9 219.3h0M672.8 249.9h0M595.6 226.6h0M622.1 227.1h0M599.4 287.7h0M670.6 219.0h0M596.3 258.7h0M688.7 265.9h0M579.1 210.1h0M637.7 230.3h0M586.7 282.8h0M665.3 243.8h0M576.1 272.4h0M590.4 294.6h0M622.9 263.1h0M596.8 232.1h0M686.2 268.5h0M605.4 248.5h0M660.2 215.0h0M601.0 167.2h0M589.4 278.5h0M629.5 202.2h0M619.3 188.8h0M638.8 261.6h0M577.0 213.4h0M632.6 246.1h0M666.3 223.2h0M628.0 270.7h0M656.8 309.4h0M598.7 255.0h0M560.1 219.5h0M660.7 285.2h0M599.7 162.1h0M579.3 271.0h0M637.5 254.6h0M636.4 302.5h0M653.1 237.8h0M620.2 261.9h0M656.4 263.6h0M626.3 251.8h0M621.4 247.7h0M650.6 211.9h0M597.9 268.2h0M612.1 277.0h0M634.5 276.2h0M619.4 309.7h0M673.7 245.8h0M631.8 249.0h0M578.0 199.0h0M563.3 257.5h0M649.5 309.2h0M652.5 266.3h0M632.6 225.0h0M670.5 227.9h0M587.5 276.5h0M651.3 188.8h0M666.8 214.2h0M669.6 219.8h0M639.1 251.8h0M586.9 261.7h0M662.2 227.8h0M619.2 291.6h0M662.9 245.4h0M576.6 256.8h0M617.2 270.0h0M665.7 323.7h0M581.4 199.1h0M585.8 262.8h0M619.8 252.7h0M608.5 279.5h0M628.2 311.5h0M570.4 213.3h0M590.7 222.3h0M676.5 222.9h0M662.0 234.7h0M643.2 261.0h0M651.4 313.4h0M619.0 197.8h0M643.1 223.6h0M558.3 227.9h0M646.4 309.6h0M577.8 196.5h0M622.6 201.0h0M588.3 280.5h0M600.9 282.0h0M667.4 225.1h0M688.7 249.3h0M593.4 268.4h0M664.2 295.6h0M580.1 277.6h0M565.3 226.2h0M583.3 169.7h0M622.5 268.0h0M669.7 321.7h0M560.6 200.8h0M663.1 319.4h0M666.7 301.2h0M569.7 263.2h0M599.5 166.4h0M615.2 306.2h0M630.6 213.9h0M575.2 281.6h0M599.2 287.0h0M660.2 241.2h0M603.2 249.9h0M623.4 283.5h0M605.4 289.9h0M569.7 202.3h0M656.7 218.6h0M658.8 237.5h0M622.5 222.9h0M611.5 299.0h0M644.2 213.7h0M686.6 254.2h0M568.0 252.8h0M556.3 214.1h0M653.5 199.8h0M599.4 179.8h0M585.5 222.2h0M641.5 308.3h0M628.5 265.9h0M614.8 263.1h0M562.0 240.6h0M682.7 224.2h0M678.9 229.1h0M628.7 299.7h0M688.9 269.4h0M645.6 249.2h0M591.9 225.8h0M563.7 237.1h0M596.6 237.2h0M563.7 206.5h0M624.3 271.4h0M660.2 327.6h0M579.1 267.9h0M583.3 224.8h0M593.6 158.6h0M601.4 306.1h0M641.9 274.6h0M612.7 284.5h0M681.5 244.8h0M587.0 182.7h0M662.1 311.0h0M659.5 209.5h0M581.0 225.5h0M643.8 218.7h0M595.9 165.7h0M669.7 234.8h0M591.5 170.2h0M587.3 275.1h0M630.7 289.4h0M570.5 183.7h0M577.4 221.6h0M567.8 204.7h0M648.2 225.0h0M640.2 241.8h0M621.0 267.1h0M671.7 290.6h0M672.4 271.8h0M589.6 164.8h0M647.7 260.8h0M579.9 187.3h0M572.9 259.5h0M602.5 267.3h0M603.2 303.1h0M579.0 188.5h0M587.7 173.7h0M649.4 320.1h0M633.8 234.0h0M623.3 300.1h0M616.9 251.9h0M613.0 277.8h0M567.1 219.2h0M634.6 255.5h0M658.5 297.1h0M641.6 248.9h0M621.6 296.1h0M558.8 243.2h0M557.2 209.2h0M631.4 297.9h0M586.4 210.6h0M623.3 258.1h0M602.1 294.5h0M604.7 237.7h0M602.0 243.3h0M642.5 205.8h0M645.9 218.5h0M608.3 302.8h0M603.3 242.3h0M673.7 322.9h0M629.1 288.1h0M664.1 297.5h0M628.8 200.6h0M631.4 273.3h0M691.8 254.9h0M609.3 281.7h0M628.7 277.8h0M614.5 290.2h0M565.0 219.5h0M605.8 262.5h0M586.3 275.8h0M654.4 277.0h0M599.7 213.7h0M666.3 231.5h0M599.7 271.2h0M578.6 242.2h0M612.8 270.0h0M576.9 276.6h0M587.3 171.0h0M626.2 287.5h0M656.9 219.5h0M679.0 217.9h0M581.7 289.5h0M670.6 241.8h0M661.7 235.4h0M635.9 198.6h0M599.1 237.6h0M666.4 241.8h0M676.9 255.8h0M637.7 199.9h0M610.6 293.5h0M679.6 235.5h0M579.4 247.8h0M651.9 321.4h0M673.8 292.9h0M604.2 265.8h0M674.6 277.0h0M623.2 245.9h0M570.5 267.2h0M587.6 276.9h0M662.4 315.1h0M614.4 250.7h0M642.0 191.7h0M629.6 250.5h0M632.2 277.0h0M619.1 290.7h0M642.1 263.0h0M594.0 227.6h0M671.7 282.0h0M582.5 275.3h0M605.8 245.2h0M595.6 176.9h0M644.9 200.7h0M575.9 280.6h0M590.7 205.0h0M662.1 246.6h0M618.8 268.8h0M634.4 215.0h0M565.4 208.2h0M647.0 254.0h0M654.6 269.1h0M617.7 302.2h0M642.9 190.5h0M594.1 178.3h0M663.2 302.7h0M683.6 236.7h0M590.7 238.7h0M602.2 173.8h0M676.7 236.3h0M649.2 257.9h0M663.5 248.2h0M672.8 289.6h0M602.8 233.0h0M573.0 278.0h0M642.8 253.8h0M687.8 235.0h0M626.2 299.7h0M582.8 164.6h0M654.7 200.9h0M594.1 284.1h0M669.8 291.6h0M614.6 266.4h0M636.1 275.6h0M647.0 184.9h0M578.1 186.5h0M662.8 235.4h0M599.9 221.7h0M682.6 249.3h0M569.0 256.6h0M588.0 165.3h0M587.3 179.4h0M580.2 229.7h0M581.0 221.6h0M599.6 265.1h0M634.5 296.3h0M636.0 245.1h0M609.1 271.1h0M657.4 301.2h0M641.7 260.8h0M600.3 265.6h0M622.8 257.2h0M675.1 250.1h0M553.3 219.2h0M576.5 280.3h0M669.0 279.7h0M595.9 224.5h0M634.4 229.3h0M660.4 322.5h0M631.1 312.2h0M571.5 254.2h0M632.0 280.4h0M660.8 293.4h0M641.3 217.8h0M657.7 237.3h0M647.8 314.6h0M682.1 254.7h0M660.1 296.1h0M576.7 180.4h0M655.0 258.1h0M669.8 294.4h0M589.7 278.5h0M581.6 240.3h0M678.5 276.4h0M565.5 196.4h0M628.2 304.7h0M668.2 243.6h0M596.0 248.6h0M680.2 247.9h0M692.7 265.2h0M622.3 232.4h0M647.3 228.6h0M634.1 312.9h0M636.1 195.4h0M625.4 214.3h0M644.9 266.7h0M586.0 174.7h0M640.5 214.4h0M661.2 317.7h0M655.9 258.6h0M580.0 184.0h0M569.4 265.8h0M566.9 197.4h0M654.6 195.6h0M573.6 254.8h0M696.8 262.5h0M600.7 160.4h0M658.8 304.1h0M619.8 244.4h0M583.9 270.5h0M618.0 265.7h0M665.2 232.0h0M641.8 314.0h0M620.8 277.3h0M564.4 196.5h0M670.5 319.4h0M584.0 209.3h0M588.5 183.3h0M579.5 246.8h0M628.6 282.3h0M619.2 302.5h0M634.6 258.7h0M604.2 299.9h0M678.9 249.2h0M612.6 283.7h0M625.8 259.8h0M579.5 236.5h0M634.7 228.7h0M619.1 188.2h0M655.3 296.5h0M652.3 234.3h0M646.3 235.2h0M660.6 317.3h0M581.6 239.8h0M611.0 252.4h0M668.4 328.2h0M672.6 320.4h0M561.3 229.4h0M559.6 205.1h0M604.9 299.9h0M650.6 217.3h0M652.0 216.8h0M633.9 245.9h0M571.2 241.6h0M576.3 261.5h0M564.4 216.6h0M591.2 274.9h0M611.7 282.9h0M665.4 241.1h0M631.2 286.1h0M582.8 290.9h0M645.5 217.3h0M588.1 259.3h0M611.0 248.3h0M661.5 267.5h0M696.1 264.0h0M597.0 266.3h0M692.7 268.9h0M584.2 280.9h0M661.7 267.2h0M676.2 282.3h0M666.1 238.2h0M586.0 201.1h0M658.0 234.8h0M648.2 271.5h0M625.0 266.8h0M577.9 176.2h0M561.9 213.2h0M554.2 211.3h0M681.7 230.6h0M575.8 212.2h0M635.1 298.1h0M600.0 240.2h0M575.5 182.2h0M625.8 218.0h0M571.4 218.6h0M651.3 263.9h0M685.4 242.7h0M603.0 267.8h0M648.9 236.4h0M591.5 293.0h0M627.9 286.4h0M674.7 323.6h0M598.6 179.1h0M577.7 195.1h0M631.6 288.7h0M607.4 241.7h0M647.4 307.0h0M669.0 268.4h0M687.7 243.9h0M607.3 255.7h0M603.7 296.1h0M605.6 255.5h0M684.8 272.6h0M602.3 177.2h0M623.6 277.7h0M635.1 213.2h0M669.5 282.6h0M600.7 249.3h0M574.7 275.6h0M672.3 280.3h0M664.0 329.3h0M562.3 199.5h0M604.5 297.4h0M579.1 174.7h0M562.7 216.1h0M588.1 171.7h0M581.4 189.1h0M654.4 214.5h0M649.1 219.6h0M696.6 258.3h0M674.1 242.0h0M623.2 248.4h0M670.2 287.8h0M655.6 212.4h0M632.0 276.4h0M661.8 316.6h0M625.4 303.9h0M601.3 240.7h0M603.7 262.2h0M575.7 242.6h0M573.8 282.4h0M635.4 254.8h0M637.7 194.7h0M648.7 266.6h0M582.1 268.3h0M596.3 163.3h0M588.3 256.4h0M579.8 205.7h0M604.1 273.6h0M693.3 231.0h0M663.8 243.7h0M646.8 195.7h0M603.1 235.0h0M566.0 192.4h0M596.4 232.9h0M692.4 273.9h0M635.7 228.7h0M671.1 329.4h0M591.9 266.6h0M653.7 219.6h0M671.4 211.1h0M670.1 296.4h0M638.7 203.2h0M665.8 330.0h0M616.1 297.8h0M644.7 320.7h0M673.6 279.1h0M575.3 265.5h0M597.3 222.2h0M558.2 234.8h0M673.5 220.4h0M590.9 221.3h0M575.3 223.3h0M598.3 262.6h0M660.3 238.9h0M594.1 277.0h0M632.2 224.6h0M638.3 252.0h0M624.3 222.3h0M604.5 218.7h0M578.6 276.9h0M562.2 235.3h0M689.5 277.1h0M580.9 168.4h0M593.3 230.6h0M652.7 265.3h0M675.5 238.2h0M663.6 316.9h0M616.9 244.9h0M597.0 165.2h0M637.7 222.2h0M632.7 295.8h0M581.4 210.3h0M571.7 272.6h0M690.7 254.9h0M596.6 227.8h0M638.2 243.8h0M576.1 176.0h0M667.6 294.6h0M623.7 304.0h0M663.0 298.6h0M646.4 266.1h0M632.5 304.3h0M610.1 268.0h0M657.4 289.3h0M651.3 257.0h0M578.0 240.3h0M587.6 292.8h0M607.3 296.0h0M652.7 319.3h0M632.4 302.2h0M621.5 299.2h0M632.4 312.8h0M614.4 290.7h0M581.5 184.8h0M667.6 272.7h0M623.3 222.6h0M631.1 272.4h0M595.4 283.9h0M595.6 278.5h0M589.1 179.1h0M616.8 248.2h0M675.0 241.8h0M633.6 239.6h0M584.0 262.3h0M647.7 272.1h0M583.0 281.0h0M687.9 251.9h0M571.1 216.3h0M664.0 298.3h0M624.8 212.7h0M657.2 311.4h0M678.0 238.0h0M624.2 290.3h0M613.7 185.5h0M598.0 284.3h0M583.8 173.7h0M587.9 295.7h0M589.8 254.4h0M589.0 274.3h0M564.8 267.1h0M656.0 210.5h0M575.2 216.4h0M574.0 242.5h0M612.6 279.3h0M598.9 268.8h0M660.5 267.8h0M589.1 253.5h0M588.3 292.6h0M581.4 211.2h0M643.2 197.3h0M616.7 251.1h0M605.7 239.7h0M681.8 220.8h0M601.2 178.9h0M611.2 259.2h0M659.6 314.3h0M668.8 303.1h0M586.0 270.5h0M653.1 236.2h0M653.3 275.0h0M636.0 246.8h0M642.5 317.4h0M593.0 160.2h0M567.4 264.5h0M652.7 188.5h0M567.8 239.1h0M681.0 274.6h0M631.1 262.2h0M605.4 266.3h0M674.8 257.8h0M627.6 303.1h0M647.1 182.6h0M597.1 247.5h0M594.8 176.8h0M624.8 270.0h0M638.3 227.6h0M612.8 279.4h0M610.5 279.9h0M562.0 242.4h0M576.1 262.3h0M577.4 219.5h0M641.1 253.8h0M631.2 236.3h0M661.8 227.5h0M689.9 240.1h0M596.1 290.1h0M686.3 244.0h0M574.7 236.4h0M563.4 200.4h0M656.2 264.9h0M607.8 295.2h0M570.6 207.4h0M683.5 226.0h0M686.6 230.6h0M571.6 199.5h0M661.2 271.3h0M603.2 286.6h0M673.5 217.7h0M647.7 191.8h0M580.8 275.8h0M617.1 278.9h0M626.5 271.8h0M581.6 201.7h0M662.7 318.9h0M657.4 241.2h0M667.7 290.6h0M583.2 224.1h0M602.5 234.2h0M572.1 267.2h0M572.5 244.2h0M648.2 185.2h0M595.7 263.0h0M639.8 220.7h0M662.1 282.4h0M659.0 249.0h0M654.7 320.0h0M650.2 257.0h0M688.4 275.2h0M663.2 292.5h0M666.5 226.6h0M668.4 303.5h0M628.5 253.4h0M580.0 281.6h0M633.3 259.6h0M558.3 226.8h0M670.1 247.9h0M590.7 183.9h0M596.6 240.4h0M599.5 181.5h0M555.6 217.5h0M665.8 238.0h0M568.8 268.7h0M590.3 262.7h0M651.9 320.7h0M659.3 283.0h0M596.6 219.8h0M688.8 266.1h0M654.7 241.9h0M601.6 277.0h0M599.8 233.9h0M625.4 265.5h0M628.1 229.2h0M570.9 187.7h0M573.6 265.4h0M581.8 207.8h0M595.8 175.6h0M633.3 205.3h0M584.4 239.1h0M586.1 174.7h0M642.0 194.8h0M638.6 318.4h0M572.8 280.2h0M659.5 295.8h0M596.1 266.1h0M602.6 171.2h0M614.6 286.4h0M678.0 244.4h0M582.5 182.3h0M594.3 276.6h0M621.8 250.4h0M624.0 220.8h0M658.2 320.9h0M563.5 251.6h0M662.2 275.1h0M632.1 206.9h0M675.2 214.5h0M564.5 201.4h0M585.9 218.2h0M622.8 294.9h0M673.4 232.5h0M672.0 221.1h0M655.6 268.8h0M609.4 290.4h0M579.5 218.7h0M655.9 319.4h0M585.3 184.9h0M643.1 324.1h0M618.8 308.4h0M674.1 287.4h0M590.8 249.7h0M569.6 279.0h0M618.1 273.6h0M560.9 226.6h0M657.1 319.7h0M623.7 217.0h0M605.1 271.7h0M610.4 306.9h0M590.4 250.4h0M577.3 202.3h0M593.5 257.8h0M563.4 244.5h0M571.1 187.9h0M661.1 222.8h0M609.8 255.2h0M648.4 262.0h0M670.5 277.4h0M600.8 256.4h0M649.9 218.9h0M582.2 167.1h0M638.4 264.7h0M582.3 188.3h0M572.2 192.3h0M592.3 228.2h0M632.9 274.7h0M662.9 295.6h0M561.5 225.4h0M570.8 190.7h0M674.8 216.1h0M602.5 298.9h0M667.3 279.5h0M576.4 249.0h0M673.1 277.4h0M690.7 242.9h0M590.3 207.7h0M557.9 206.0h0M641.4 318.9h0M593.2 282.5h0M623.9 268.9h0M629.1 254.7h0M628.4 234.9h0M654.4 242.6h0M591.5 219.7h0M671.8 220.4h0M600.8 235.2h0M667.4 279.0h0M615.8 267.0h0M659.1 306.5h0M592.1 278.9h0M573.2 246.9h0M680.7 237.8h0M619.8 275.1h0M645.2 199.2h0M665.2 233.4h0M623.1 255.7h0M629.8 222.8h0M591.5 248.4h0M669.5 224.8h0M638.2 194.4h0M568.1 183.0h0M566.8 187.5h0M565.8 192.4h0M562.4 195.4h0M561.4 198.4h0M558.3 201.9h0M554.9 204.7h0M554.9 210.5h0M554.5 211.8h0M550.3 216.3h0M553.8 220.6h0M554.5 224.3h0M555.7 227.7h0M556.1 230.7h0M556.4 234.5h0M558.3 238.4h0M557.5 255.6h0M557.4 261.3h0M558.5 263.6h0M560.5 268.1h0M564.5 268.8h0M565.0 273.9h0M566.6 278.5h0M569.2 280.8h0M570.3 284.2h0M576.1 286.9h0M577.7 290.8h0M579.7 292.6h0M583.5 294.7h0M587.1 296.2h0M596.2 305.4h0M598.5 307.3h0M604.5 308.9h0M609.0 306.7h0M612.3 308.4h0M616.0 307.5h0M617.2 312.3h0M621.8 312.0h0M626.0 313.7h0M630.7 316.5h0M633.2 320.0h0M637.8 319.0h0M638.8 321.5h0M642.9 324.7h0M646.5 327.5h0M647.3 330.6h0M652.1 330.0h0M656.1 330.8h0M659.1 333.6h0M664.1 333.1h0M668.2 331.5h0M672.7 329.7h0M677.6 332.0h0M680.2 326.5h0M675.6 324.2h0M675.5 320.6h0M669.3 304.7h0M670.0 300.9h0M673.5 299.4h0M673.7 294.4h0M676.4 290.8h0M680.4 290.3h0M681.2 285.8h0M686.3 282.9h0M690.0 281.3h0M691.4 279.7h0M696.2 274.8h0M692.8 272.2h0M695.0 268.3h0M697.7 267.1h0M699.8 262.4h0M698.9 259.7h0M696.7 258.0h0M694.5 252.9h0M693.3 251.2h0M689.0 248.0h0M691.1 246.6h0M693.0 241.1h0M693.2 237.7h0M695.1 234.7h0M694.2 229.1h0M689.7 228.6h0M689.3 224.2h0M685.3 222.5h0M681.2 218.2h0M679.0 214.7h0M677.3 213.5h0M674.8 210.8h0M672.9 207.8h0M669.8 203.6h0M665.3 201.9h0M659.9 201.6h0M659.0 199.7h0M656.5 195.8h0M656.1 192.7h0M655.3 187.3h0M653.1 184.5h0M651.9 183.6h0M648.0 180.9h0M644.1 184.1h0M640.8 184.1h0M636.5 186.9h0M633.8 190.0h0M632.0 192.5h0M630.3 196.0h0M626.1 198.5h0M624.9 195.4h0M622.3 193.5h0M621.5 189.5h0M618.8 184.5h0M616.8 183.2h0M610.6 182.6h0M606.9 181.8h0M603.5 185.0h0M601.5 186.7h0M604.6 189.6h0M605.4 192.5h0M606.2 196.1h0M605.5 199.3h0M607.6 197.9h0M610.8 196.6h0M613.6 198.2h0M618.6 200.9h0M620.6 202.0h0M622.6 205.8h0M624.6 208.5h0M623.0 212.3h0M623.7 217.9h0M622.1 222.4h0M622.4 224.7h0M620.0 229.3h0M622.5 233.1h0M616.8 239.0h0M615.6 242.3h0M612.0 244.1h0M609.6 242.7h0M606.6 239.9h0M606.2 234.8h0M604.4 232.6h0M605.5 228.6h0M605.3 223.9h0M606.7 220.1h0M604.1 216.5h0M593.4 206.1h0M589.1 205.5h0M586.8 201.8h0M584.6 197.8h0M584.8 195.2h0M585.4 189.8h0M587.7 188.0h0M589.7 185.4h0M594.1 184.9h0M597.2 184.6h0M600.5 183.2h0M602.4 181.9h0M602.2 177.3h0M604.1 173.7h0M604.3 169.4h0M603.5 164.7h0M601.5 162.5h0M598.4 158.2h0M595.9 158.3h0M580.4 159.6h0M581.6 164.3h0M579.8 169.0h0M578.1 170.5h0M576.4 175.2h0M572.5 176.8h0M571.7 181.8h0M637.1 283.7h0M638.8 282.9h0M651.7 283.8h0M655.9 286.5h0M656.7 290.0h0M657.0 295.2h0M652.5 297.3h0M651.6 301.0h0M652.6 305.5h0M646.7 304.8h0M643.5 303.8h0M638.7 304.0h0M638.9 301.2h0M635.2 297.2h0M636.9 292.3h0M636.9 289.4h0"/>
<path stroke="#e6a225" d="M633.8 162.9h0M632.1 161.4h0M631.5 165.5h0M629.3 160.6h0M631.3 164.5h0M633.6 166.2h0M637.9 163.9h0M634.9 161.8h0"/>
<path stroke="#c1531c" d="M681.6 201.3h0M680.0 190.6h0M698.3 183.1h0M672.2 192.7h0M689.5 208.0h0M696.1 207.6h0M690.4 194.5h0M678.4 193.8h0M690.4 210.3h0M663.4 186.6h0M692.2 186.6h0M678.4 196.7h0M683.1 202.9h0M697.0 218.7h0M688.0 202.7h0M673.6 193.9h0M669.7 190.7h0M708.2 217.6h0M672.6 194.2h0M672.7 191.5h0M689.7 186.5h0M687.2 197.4h0M697.7 220.0h0M691.1 186.1h0M677.6 198.6h0M687.3 211.9h0M699.6 209.4h0M684.0 208.3h0M697.7 194.3h0M681.5 201.7h0M697.8 212.6h0M695.1 193.6h0M687.0 197.7h0M688.6 209.6h0M693.2 211.1h0M667.7 185.8h0M672.0 196.9h0M691.7 187.9h0M669.5 193.0h0M702.0 220.8h0M674.5 196.1h0M704.4 217.9h0M668.8 189.4h0M684.2 196.6h0M664.2 189.0h0M692.6 213.4h0M684.6 188.0h0M684.0 199.8h0M679.4 198.5h0M687.2 193.2h0M689.5 186.8h0M700.3 185.5h0M697.7 195.8h0M673.9 189.0h0M667.1 186.8h0M688.7 208.9h0M669.9 193.5h0M709.9 215.1h0M699.3 184.4h0M690.9 192.3h0M678.3 193.7h0M685.8 201.6h0M688.4 210.5h0M706.5 217.7h0M685.1 204.7h0M694.9 208.7h0M689.5 198.8h0M681.0 186.4h0M693.9 191.3h0M699.3 183.6h0M685.6 204.9h0M682.1 202.3h0M677.8 200.9h0M707.9 213.2h0M688.2 195.7h0M702.4 210.6h0M683.5 206.9h0M684.9 204.9h0M690.9 204.5h0M676.3 189.1h0M688.6 198.1h0M662.4 184.6h0M683.7 203.6h0M674.1 198.3h0M684.5 193.8h0M687.0 210.3h0M674.1 189.4h0M692.6 205.6h0M676.1 198.6h0M705.0 217.6h0M690.0 192.0h0M683.6 194.1h0M695.9 194.0h0M699.0 210.9h0M669.8 188.4h0M687.0 210.6h0M668.1 191.3h0M662.3 184.3h0M663.1 188.0h0M665.0 191.7h0M668.0 193.8h0M668.5 196.6h0M671.9 199.8h0M677.3 201.3h0M679.4 204.8h0M682.7 207.4h0M684.9 209.4h0M689.5 211.8h0M691.4 215.1h0M693.1 217.5h0M696.2 220.9h0M700.3 223.7h0M704.0 221.8h0M707.8 217.8h0M711.0 219.5h0M710.7 213.4h0M707.7 211.0h0M704.1 208.5h0M701.6 206.7h0M700.3 195.0h0M701.9 192.8h0M702.5 187.0h0M701.4 184.2h0M700.7 181.8h0M695.7 182.2h0M694.2 183.9h0M688.8 187.1h0M684.9 184.4h0M681.5 186.4h0M678.1 186.1h0M673.7 184.6h0M669.8 184.3h0M666.5 184.4h0"/>
<path stroke="#6b76ab" d="M765.4 260.4h0M746.0 264.9h0M770.7 270.8h0M764.6 263.0h0M748.0 251.1h0M740.0 252.4h0M750.9 269.6h0M753.9 256.5h0M768.3 273.9h0M760.1 260.2h0M743.2 263.0h0M755.3 265.0h0M753.2 257.3h0M740.5 265.5h0M742.0 263.2h0M745.4 250.1h0M743.6 259.2h0M738.8 251.3h0M739.9 261.9h0M768.4 273.0h0M751.4 253.8h0M771.2 270.0h0M764.9 260.4h0M760.8 267.1h0M733.8 253.2h0M754.2 269.9h0M734.6 257.4h0M749.1 258.0h0M743.6 252.3h0M753.5 261.4h0M738.3 254.7h0M766.8 269.4h0M747.1 252.0h0M767.8 259.6h0M742.8 260.0h0M732.4 254.0h0M759.0 260.7h0M739.8 259.6h0M766.3 257.9h0M751.1 258.4h0M770.4 263.9h0M737.3 256.8h0M751.8 252.5h0M771.8 270.4h0M733.3 256.9h0M759.5 260.8h0M733.8 252.7h0M761.7 255.4h0M758.9 272.7h0M743.2 251.2h0M752.4 265.8h0M766.7 262.0h0M749.6 250.6h0M757.5 253.8h0M762.6 261.9h0M756.2 271.1h0M744.3 259.8h0M761.2 266.5h0M734.6 262.1h0M769.7 270.4h0M732.4 256.8h0M757.7 250.3h0M755.8 255.4h0M747.1 250.0h0M741.2 258.5h0M757.3 255.1h0M756.2 263.2h0M758.0 252.0h0M731.0 260.0h0M742.2 250.0h0M755.0 269.5h0M756.1 270.9h0M751.3 260.7h0M761.8 269.5h0M751.0 253.3h0M752.3 258.2h0M746.1 251.1h0M760.0 266.8h0M729.3 252.9h0M728.6 257.5h0M731.9 262.3h0M734.7 265.9h0M739.4 265.2h0M744.0 265.5h0M747.5 268.0h0M749.7 269.7h0M756.2 270.6h0M758.7 272.7h0M762.6 272.8h0M765.4 273.2h0M769.8 271.7h0M774.4 271.0h0M775.5 266.3h0M773.4 261.6h0M771.5 260.1h0M767.8 258.0h0M763.9 253.8h0M760.6 252.2h0M758.3 250.3h0M753.7 248.1h0M749.7 247.6h0M744.8 250.1h0M742.5 249.4h0M736.4 249.8h0M733.1 250.4h0"/>
<path stroke="#0798d6" d="M793.4 109.4h0M745.0 171.2h0M743.3 111.1h0M808.2 138.1h0M740.2 141.3h0M740.5 95.1h0M727.0 140.3h0M740.7 153.4h0M750.4 130.0h0M763.9 149.1h0M714.8 141.0h0M743.2 103.7h0M721.5 135.2h0M759.6 197.5h0M760.3 102.2h0M772.4 194.4h0M716.8 132.3h0M738.3 161.2h0M721.0 126.6h0M758.0 116.3h0M773.9 107.8h0M762.0 193.9h0M760.1 151.4h0M779.6 157.2h0M752.9 109.5h0M762.1 154.0h0M737.5 148.8h0M760.5 151.0h0M764.9 131.2h0M788.9 107.4h0M767.3 188.4h0M801.6 160.4h0M736.1 92.7h0M749.3 214.6h0M744.1 181.9h0M781.3 134.3h0M753.0 151.4h0M757.6 138.8h0M732.1 129.8h0M741.8 159.7h0M739.4 181.2h0M719.3 133.1h0M768.9 204.3h0M805.3 142.9h0M780.8 188.8h0M727.9 146.1h0M764.2 122.0h0M758.1 206.1h0M730.6 134.4h0M771.2 96.3h0M799.0 133.7h0M752.7 100.9h0M746.9 190.6h0M717.7 126.1h0M763.5 135.7h0M733.2 160.0h0M757.0 109.0h0M758.7 144.4h0M768.7 128.4h0M743.2 127.7h0M808.9 146.0h0M779.3 124.8h0M793.7 105.1h0M750.2 90.7h0M751.9 149.9h0M758.6 216.2h0M761.8 104.7h0M752.4 161.9h0M809.8 149.4h0M729.6 150.7h0M804.3 129.7h0M762.7 85.1h0M764.8 200.4h0M768.3 117.0h0M784.0 154.5h0M761.3 121.9h0M751.7 87.2h0M749.1 195.7h0M792.0 112.4h0M764.4 214.1h0M738.0 102.4h0M810.7 146.4h0M755.6 124.5h0M799.7 166.7h0M764.4 164.9h0M760.9 105.9h0M758.5 171.8h0M741.3 152.8h0M757.3 141.4h0M741.5 109.2h0M757.8 118.9h0M768.8 153.8h0M775.0 141.7h0M745.4 108.0h0M783.3 152.2h0M802.3 162.1h0M735.2 105.0h0M729.7 120.7h0M722.0 146.9h0M735.1 154.5h0M765.5 200.6h0M765.5 117.5h0M727.3 139.0h0M746.3 98.6h0M741.6 100.1h0M758.9 203.8h0M754.3 196.5h0M730.4 156.0h0M760.5 90.6h0M721.0 142.2h0M746.8 126.7h0M804.9 143.4h0M751.6 97.2h0M752.4 164.6h0M761.7 97.4h0M806.0 138.0h0M740.9 192.0h0M766.3 114.5h0M761.8 200.5h0M754.4 205.5h0M780.9 191.4h0M747.4 198.4h0M757.2 220.1h0M732.8 150.6h0M742.5 121.3h0M722.2 154.2h0M735.8 156.7h0M727.1 153.9h0M725.8 143.6h0M763.3 86.4h0M770.9 152.9h0M731.6 104.4h0M755.6 97.9h0M730.5 143.9h0M748.5 147.6h0M784.9 147.8h0M756.7 194.6h0M767.6 90.2h0M721.9 99.1h0M768.0 127.2h0M733.3 161.7h0M763.7 141.4h0M737.0 151.7h0M749.8 103.2h0M803.7 139.6h0M794.6 101.6h0M734.6 113.9h0M772.5 160.3h0M791.4 104.1h0M767.4 189.7h0M773.0 113.7h0M761.8 122.3h0M761.0 170.5h0M718.6 142.1h0M761.7 152.9h0M756.3 125.8h0M778.0 143.3h0M806.7 140.4h0M780.4 147.4h0M763.1 203.2h0M748.1 152.5h0M719.2 127.6h0M742.2 153.0h0M772.3 108.0h0M715.9 117.5h0M805.5 147.2h0M742.5 195.7h0M747.8 206.2h0M780.1 140.6h0M773.7 153.0h0M733.7 95.5h0M735.8 111.8h0M741.1 112.7h0M774.4 93.1h0M795.3 115.0h0M772.5 132.8h0M770.9 186.1h0M735.5 159.1h0M766.5 200.2h0M730.3 92.5h0M753.1 139.6h0M749.2 128.8h0M753.0 87.0h0M751.0 127.5h0M760.1 199.7h0M729.3 156.8h0M795.8 173.4h0M762.3 90.3h0M723.3 126.0h0M762.9 91.6h0M751.3 163.1h0M736.3 115.5h0M800.2 134.2h0M768.4 209.1h0M773.5 188.8h0M755.9 133.3h0M714.7 112.7h0M771.0 126.2h0M760.6 163.1h0M770.2 197.8h0M741.8 195.3h0M764.7 149.1h0M743.1 132.7h0M766.7 108.8h0M772.6 192.0h0M736.2 90.2h0M741.4 192.6h0M759.8 131.2h0M756.2 111.2h0M769.2 103.7h0M756.1 113.0h0M744.7 176.8h0M756.2 199.4h0M773.8 152.8h0M754.0 114.0h0M734.0 149.7h0M763.3 163.8h0M750.1 137.7h0M732.7 119.6h0M736.1 171.5h0M773.5 106.9h0M742.9 113.0h0M753.8 152.7h0M745.1 127.1h0M732.6 117.0h0M757.3 218.4h0M746.2 89.1h0M748.0 186.0h0M743.4 164.3h0M775.7 86.3h0M747.8 157.7h0M791.1 106.7h0M738.9 156.4h0M767.7 203.1h0M750.2 169.9h0M744.5 141.5h0M715.0 108.8h0M729.0 157.2h0M748.8 155.9h0M734.7 98.9h0M750.5 194.4h0M806.4 148.5h0M757.6 214.6h0M785.9 118.2h0M742.1 169.2h0M783.5 188.8h0M757.4 105.1h0M771.1 128.8h0M765.8 90.3h0M739.6 179.4h0M771.4 146.1h0M771.7 110.0h0M740.7 173.0h0M773.1 100.0h0M745.3 165.6h0M747.0 134.7h0M773.6 96.5h0M739.4 112.8h0M738.6 126.3h0M752.8 201.3h0M755.4 96.1h0M720.4 132.1h0M757.4 170.8h0M749.5 157.7h0M718.2 126.9h0M768.1 130.9h0M765.0 107.0h0M745.6 106.9h0M788.7 101.6h0M753.6 96.5h0M756.9 171.7h0M805.6 155.8h0M792.5 112.6h0M744.7 201.7h0M728.1 149.1h0M730.0 140.8h0M778.3 133.0h0M775.4 193.9h0M747.9 131.6h0M766.8 166.4h0M722.5 149.6h0M797.5 99.4h0M742.8 195.1h0M737.3 151.3h0M737.9 107.0h0M749.2 95.6h0M733.0 148.1h0M785.6 138.1h0M750.2 206.1h0M763.4 156.8h0M746.9 120.0h0M754.5 215.5h0M742.2 150.0h0M743.8 101.5h0M734.1 109.4h0M798.6 131.7h0M747.9 135.2h0M748.4 136.6h0M773.5 122.2h0M792.3 169.9h0M718.2 115.4h0M718.7 139.8h0M739.7 141.1h0M718.4 112.6h0M782.0 186.7h0M742.6 175.8h0M735.6 119.1h0M772.9 102.8h0M748.7 136.0h0M761.0 136.3h0M715.3 112.7h0M744.7 137.1h0M731.3 150.1h0M736.0 117.3h0M771.3 128.7h0M766.0 140.7h0M737.2 173.1h0M745.9 172.7h0M748.0 124.4h0M751.0 116.3h0M750.5 141.5h0M789.4 110.1h0M730.4 140.6h0M764.1 166.9h0M737.1 115.0h0M782.2 148.1h0M765.8 115.7h0M763.4 143.1h0M728.0 118.2h0M769.7 162.2h0M767.1 190.9h0M785.0 118.1h0M752.2 170.0h0M739.5 163.2h0M725.4 110.8h0M776.1 159.9h0M721.8 121.6h0M801.5 162.5h0M761.4 144.9h0M755.7 187.7h0M759.3 141.6h0M762.2 199.8h0M776.6 186.5h0M746.7 96.9h0M731.5 109.9h0M741.3 120.2h0M760.7 164.0h0M767.4 184.0h0M804.6 137.2h0M760.5 189.3h0M769.7 127.9h0M738.4 109.7h0M762.7 206.1h0M793.3 112.2h0M715.2 147.6h0M761.6 173.2h0M751.1 113.0h0M773.8 190.7h0M774.8 88.0h0M775.3 194.0h0M761.9 122.7h0M757.9 165.6h0M759.3 104.9h0M752.4 108.3h0M755.8 142.5h0M754.8 170.0h0M792.3 174.1h0M770.5 138.8h0M763.4 173.4h0M747.2 195.1h0M737.2 115.4h0M757.5 147.7h0M743.0 182.7h0M752.5 151.4h0M747.9 117.8h0M729.1 112.0h0M755.5 175.7h0M768.3 108.7h0M759.3 118.6h0M760.6 125.8h0M774.5 162.0h0M780.5 126.2h0M765.9 128.6h0M800.9 152.4h0M725.7 153.2h0M746.0 125.9h0M754.7 153.5h0M728.8 139.5h0M752.5 212.3h0M750.9 120.0h0M746.4 104.6h0M717.5 123.8h0M734.3 116.4h0M772.1 132.3h0M754.0 139.0h0M756.4 218.8h0M766.2 194.2h0M748.2 158.1h0M795.3 112.6h0M760.3 114.4h0M794.3 171.9h0M778.6 190.7h0M715.6 109.5h0M768.0 182.2h0M751.7 164.7h0M759.2 183.3h0M722.3 101.0h0M738.8 144.2h0M752.3 100.5h0M732.2 116.0h0M732.8 99.9h0M716.0 109.1h0M715.6 115.1h0M763.3 94.5h0M726.9 143.8h0M771.9 183.7h0M727.9 107.3h0M787.1 120.1h0M723.4 104.3h0M737.6 123.8h0M720.9 114.0h0M765.4 103.2h0M767.1 116.3h0M753.4 90.1h0M721.4 99.2h0M760.0 187.5h0M750.6 176.3h0M735.8 159.9h0M760.9 214.5h0M758.3 135.3h0M755.7 214.5h0M766.2 175.6h0M745.8 119.0h0M753.0 183.7h0M781.6 161.9h0M752.6 119.3h0M743.3 95.5h0M721.1 106.1h0M765.8 189.1h0M745.3 150.7h0M727.7 110.2h0M742.9 170.4h0M757.6 90.4h0M763.9 174.4h0M739.0 108.5h0M764.5 157.1h0M745.5 168.9h0M735.3 162.3h0M753.1 161.2h0M762.2 192.1h0M784.1 191.8h0M750.5 162.4h0M743.8 110.4h0M739.2 137.4h0M750.7 168.8h0M759.5 124.2h0M783.3 146.5h0M754.8 97.1h0M760.6 191.5h0M780.2 126.6h0M763.1 198.5h0M746.4 140.3h0M763.1 148.7h0M748.6 160.6h0M727.7 119.6h0M801.3 155.6h0M732.8 106.3h0M774.4 126.8h0M715.1 112.3h0M772.0 127.4h0M753.9 140.8h0M767.5 98.6h0M744.0 139.5h0M783.4 150.9h0M770.1 152.7h0M768.7 134.3h0M717.2 107.4h0M740.2 97.4h0M778.9 191.5h0M732.7 118.6h0M746.0 146.2h0M742.9 189.0h0M742.8 136.0h0M803.8 141.6h0M759.6 188.5h0M773.3 150.0h0M793.4 105.3h0M740.3 133.2h0M752.3 119.8h0M728.5 105.3h0M742.7 191.3h0M718.7 146.8h0M735.1 163.6h0M783.0 189.9h0M757.4 107.9h0M737.1 171.8h0M749.0 110.7h0M757.8 91.2h0M796.5 113.3h0M719.0 140.7h0M761.0 206.4h0M739.4 130.6h0M734.7 162.2h0M730.0 140.3h0M785.7 150.4h0M786.4 153.1h0M759.5 186.6h0M745.2 114.4h0M743.5 124.2h0M756.7 168.7h0M746.0 142.6h0M759.9 111.1h0M762.1 120.1h0M751.8 216.4h0M769.5 175.7h0M757.5 206.1h0M783.7 187.1h0M731.6 118.6h0M745.5 203.7h0M741.7 120.2h0M798.2 168.5h0M745.1 165.9h0M772.1 187.1h0M788.8 102.4h0M743.3 180.2h0M747.7 163.5h0M762.7 149.0h0M766.2 91.3h0M748.5 132.5h0M770.7 118.2h0M765.2 192.3h0M737.6 111.2h0M721.2 105.7h0M760.7 102.2h0M781.5 151.5h0M745.2 135.6h0M725.0 112.2h0M743.0 162.4h0M742.8 171.5h0M773.1 128.0h0M736.2 115.4h0M765.0 129.6h0M742.3 196.4h0M733.8 113.6h0M720.4 132.5h0M770.2 180.5h0M766.2 102.9h0M728.0 135.5h0M765.5 178.5h0M772.3 132.8h0M719.2 129.9h0M776.4 132.7h0M766.3 99.7h0M745.3 110.6h0M728.1 143.2h0M778.2 136.8h0M773.0 149.3h0M755.5 124.8h0M756.3 194.9h0M779.0 163.3h0M760.8 206.0h0M767.7 155.6h0M739.8 184.5h0M761.1 107.0h0M747.9 119.7h0M806.6 138.0h0M757.8 135.5h0M747.8 136.1h0M746.5 186.2h0M769.1 130.5h0M758.1 154.5h0M793.3 101.0h0M759.1 84.1h0M775.4 152.2h0M755.9 149.0h0M746.6 199.6h0M768.4 185.8h0M769.9 131.0h0M749.7 90.7h0M760.0 136.7h0M770.8 116.7h0M757.8 145.7h0M763.6 153.0h0M731.6 159.3h0M727.5 136.0h0M758.6 183.4h0M714.2 145.7h0M773.8 143.6h0M736.1 159.9h0M737.7 112.7h0M768.7 125.6h0M753.1 171.2h0M751.2 201.4h0M785.5 148.7h0M717.2 111.9h0M757.1 128.1h0M793.4 104.9h0M768.4 108.3h0M743.1 132.4h0M770.7 206.4h0M757.5 180.1h0M752.3 101.8h0M726.5 125.0h0M752.5 136.1h0M740.7 116.2h0M769.0 174.2h0M780.9 140.2h0M733.4 128.5h0M754.3 106.2h0M759.4 192.0h0M764.6 141.7h0M743.1 171.8h0M731.3 145.4h0M758.8 113.6h0M773.9 160.3h0M753.1 211.2h0M714.5 115.3h0M747.3 133.0h0M760.9 154.4h0M782.5 137.4h0M748.6 157.5h0M758.3 194.7h0M752.8 196.0h0M763.5 116.2h0M738.8 143.1h0M739.5 139.6h0M742.0 172.4h0M770.9 101.6h0M773.8 106.1h0M745.1 170.4h0M743.2 167.6h0M753.8 161.0h0M730.7 133.1h0M753.3 125.4h0M769.2 96.7h0M771.0 119.3h0M760.7 114.9h0M786.8 149.6h0M772.1 145.6h0M746.0 151.5h0M727.4 146.8h0M763.3 187.1h0M733.9 157.4h0M750.5 154.4h0M751.9 117.1h0M720.0 155.0h0M754.3 188.6h0M747.2 180.0h0M750.3 115.5h0M766.8 91.5h0M776.4 162.0h0M806.3 153.9h0M780.5 121.8h0M761.9 101.7h0M736.9 146.3h0M744.9 160.8h0M801.4 161.4h0M767.2 178.6h0M761.8 95.7h0M747.2 149.7h0M792.1 113.6h0M723.7 159.2h0M743.1 104.6h0M776.0 187.4h0M719.1 142.7h0M773.1 116.0h0M747.9 192.6h0M767.8 191.7h0M758.6 154.0h0M745.9 154.2h0M769.1 162.6h0M758.9 101.5h0M750.4 92.0h0M768.6 138.2h0M737.4 91.0h0M739.5 90.2h0M753.8 126.3h0M786.1 151.1h0M757.6 146.3h0M742.4 139.5h0M757.2 210.7h0M755.2 170.3h0M759.6 141.8h0M777.2 188.8h0M807.6 137.7h0M761.2 182.1h0M754.4 160.5h0M737.6 153.4h0M782.1 121.6h0M774.1 160.2h0M767.4 134.4h0M782.7 151.9h0M777.2 121.3h0M785.7 154.8h0M716.0 146.8h0M724.4 132.2h0M717.0 152.4h0M799.3 132.4h0M734.1 123.1h0M726.3 128.1h0M765.6 197.1h0M760.9 148.7h0M751.4 196.9h0M747.3 180.6h0M773.7 95.4h0M742.2 88.8h0M767.2 173.0h0M750.7 123.5h0M770.1 93.9h0M748.1 95.5h0M782.2 136.4h0M772.7 96.8h0M772.3 108.4h0M748.8 185.2h0M770.5 143.2h0M736.7 106.8h0M716.6 121.0h0M735.6 145.1h0M780.0 125.6h0M743.9 188.8h0M729.2 141.1h0M792.3 175.0h0M783.0 154.0h0M734.2 94.9h0M728.7 132.0h0M753.0 169.8h0M772.3 124.0h0M723.5 152.2h0M746.9 142.5h0M763.4 101.5h0M740.3 165.8h0M780.8 195.6h0M779.5 155.2h0M742.1 166.8h0M755.9 196.2h0M754.1 210.3h0M748.4 141.6h0M746.3 137.6h0M724.6 140.5h0M750.4 194.0h0M770.2 188.2h0M738.1 178.4h0M728.4 119.6h0M773.5 94.1h0M759.2 203.4h0M760.9 110.6h0M739.6 157.9h0M735.6 91.5h0M757.6 102.8h0M773.2 147.9h0M759.3 161.8h0M763.2 86.7h0M807.0 138.0h0M762.9 110.5h0M761.2 110.1h0M747.1 150.7h0M786.3 154.8h0M773.3 98.2h0M765.7 114.6h0M751.8 175.0h0M744.8 145.8h0M742.0 169.7h0M717.1 111.7h0M740.5 138.0h0M743.8 153.7h0M760.2 185.6h0M789.3 102.0h0M772.9 198.7h0M739.6 177.6h0M774.7 192.5h0M736.3 105.3h0M754.4 101.6h0M752.6 180.7h0M779.1 188.5h0M762.3 121.0h0M762.6 200.8h0M718.2 127.2h0M762.4 185.0h0M771.5 92.1h0M748.7 107.7h0M753.0 153.6h0M782.4 134.6h0M763.9 152.7h0M762.1 184.9h0M749.1 210.3h0M767.4 209.1h0M741.2 91.9h0M744.4 196.5h0M763.3 111.7h0M747.1 177.8h0M729.2 128.7h0M744.2 157.3h0M744.4 177.6h0M757.3 134.9h0M774.4 194.2h0M725.7 104.5h0M811.1 146.0h0M775.9 86.0h0M801.9 152.5h0M767.4 144.8h0M778.2 195.9h0M762.4 194.4h0M758.8 138.5h0M734.1 167.6h0M733.4 171.7h0M733.8 174.6h0M736.2 179.3h0M739.2 181.8h0M739.2 185.9h0M740.8 188.9h0M739.7 193.5h0M742.8 196.4h0M743.3 201.1h0M744.5 203.6h0M747.8 206.7h0M748.8 212.6h0M749.8 216.5h0M750.8 220.1h0M756.6 222.7h0M759.9 219.8h0M763.2 219.0h0M764.8 214.4h0M769.8 211.3h0M769.4 207.1h0M772.4 205.1h0M775.7 202.5h0M778.9 201.1h0M782.1 196.2h0M782.3 192.9h0M785.6 189.3h0M788.8 186.5h0M788.4 182.8h0M793.5 180.1h0M793.6 177.0h0M796.1 174.4h0M798.2 170.7h0M800.3 167.5h0M802.3 161.4h0M805.2 159.5h0M808.0 156.4h0M809.1 152.8h0M811.3 148.3h0M814.4 146.0h0M813.9 143.3h0M812.5 138.9h0M807.8 136.5h0M807.7 133.0h0M805.5 129.7h0M803.8 130.4h0M799.9 129.0h0M798.4 134.9h0M796.8 137.7h0M801.8 138.8h0M800.3 141.3h0M801.9 145.0h0M802.4 149.0h0M801.5 152.8h0M796.7 152.9h0M790.6 152.7h0M787.8 150.8h0M787.0 146.5h0M788.1 143.8h0M785.3 139.1h0M786.1 137.0h0M781.1 133.8h0M780.7 131.6h0M780.6 125.3h0M781.4 122.9h0M785.9 120.6h0M789.9 121.4h0M790.5 118.0h0M792.2 115.6h0M797.7 117.6h0M801.8 115.2h0M803.6 118.1h0M806.8 121.3h0M803.5 118.8h0M805.5 115.9h0M803.7 113.0h0M801.7 114.1h0M795.7 112.2h0M796.6 109.3h0M795.4 105.6h0M795.6 102.8h0M796.6 98.7h0M799.5 100.0h0M802.2 94.4h0M797.0 92.1h0M795.3 90.0h0M791.3 86.0h0M792.7 90.0h0M791.6 95.3h0M788.4 96.6h0M786.5 98.5h0M782.1 98.9h0M777.7 98.0h0M777.0 96.1h0M773.8 91.8h0M776.2 89.2h0M774.4 83.6h0M771.2 82.4h0M767.6 81.8h0M762.1 84.6h0M758.9 81.2h0M755.5 85.1h0M751.3 83.9h0M748.5 86.2h0M742.8 86.7h0M738.1 87.5h0M735.2 87.1h0M730.0 89.9h0M727.0 92.8h0M725.0 95.5h0M722.3 98.0h0M720.0 99.6h0M715.8 103.8h0M711.7 106.3h0M712.4 109.4h0M713.2 113.2h0M716.2 117.1h0M714.6 121.6h0M715.9 126.0h0M718.9 128.7h0M715.2 132.0h0M716.6 137.7h0M715.0 141.8h0M713.6 145.2h0M714.1 149.5h0M712.8 151.4h0M717.4 155.8h0M719.8 158.3h0M722.2 161.0h0M727.2 162.0h0M727.8 165.9h0M771.4 168.8h0M772.0 167.2h0M775.5 164.4h0M779.1 163.4h0M782.7 161.7h0M785.4 160.9h0M785.3 156.0h0M788.2 155.6h0M792.7 154.6h0M796.7 153.7h0M799.1 155.9h0M798.0 158.6h0M800.8 163.8h0M798.1 166.4h0M795.1 170.8h0M791.2 168.6h0M788.0 171.1h0M788.8 174.8h0M786.4 178.0h0M785.6 183.0h0M783.7 187.5h0M779.8 185.0h0M775.7 185.5h0M773.8 182.2h0M771.9 179.3h0M771.7 177.2h0M768.5 173.5h0M774.3 104.9h0M778.5 102.1h0M781.7 102.7h0M784.1 103.3h0M785.8 104.8h0M788.5 108.8h0M786.6 113.6h0M786.6 116.2h0M782.9 119.5h0M779.6 117.7h0M776.1 115.6h0M775.2 113.4h0M775.3 107.4h0"/>
<path stroke="#f29ca6" d="M852.2 289.3h0M829.5 308.6h0M853.0 313.2h0M808.5 276.1h0M848.6 296.4h0M796.0 242.0h0M789.2 261.5h0M823.7 232.7h0M888.6 270.3h0M816.1 309.8h0M842.3 303.3h0M832.9 289.1h0M850.2 226.8h0M803.0 309.4h0M792.8 222.5h0M802.1 277.9h0M876.4 279.2h0M810.6 282.3h0M804.4 315.7h0M884.0 275.9h0M889.8 266.7h0M820.2 271.6h0M799.8 233.6h0M825.6 232.3h0M820.2 216.4h0M800.2 218.1h0M813.0 322.7h0M812.2 266.6h0M856.8 259.4h0M862.0 257.7h0M854.3 305.0h0M830.7 305.8h0M853.1 224.3h0M892.1 261.9h0M847.6 281.0h0M822.8 282.0h0M846.3 225.5h0M801.4 296.5h0M834.6 221.9h0M801.3 293.2h0M801.2 326.1h0M815.9 285.9h0M804.7 311.4h0M854.4 217.9h0M843.9 281.5h0M793.6 256.3h0M852.3 282.3h0M881.5 261.1h0M796.2 253.8h0M860.4 274.8h0M822.9 315.9h0M817.8 288.7h0M814.0 298.1h0M807.7 234.9h0M832.8 244.7h0M848.9 258.1h0M847.1 313.8h0M831.4 246.0h0M814.4 320.7h0M781.3 228.6h0M842.9 278.2h0M885.5 268.6h0M842.5 252.2h0M826.1 308.3h0M836.1 287.5h0M835.9 278.2h0M831.0 318.7h0M798.7 273.6h0M846.8 282.2h0M810.7 280.1h0M801.0 278.7h0M884.7 263.1h0M805.5 318.8h0M814.2 276.3h0M873.7 275.2h0M820.2 210.6h0M837.3 225.6h0M850.5 298.0h0M786.6 242.4h0M791.6 255.5h0M850.3 304.8h0M843.1 258.1h0M839.0 317.0h0M834.9 216.4h0M852.3 217.1h0M818.3 304.4h0M822.6 230.8h0M857.6 261.7h0M809.5 255.8h0M838.0 250.3h0M814.6 273.8h0M826.2 322.0h0M840.5 217.2h0M821.0 250.6h0M854.7 264.7h0M827.6 234.3h0M848.8 258.6h0M848.1 262.9h0M797.5 240.3h0M891.0 261.2h0M871.1 267.9h0M830.2 294.5h0M794.5 278.9h0M801.6 277.1h0M849.9 211.1h0M843.7 300.6h0M843.8 268.2h0M807.7 276.1h0M827.1 250.2h0M853.8 299.6h0M851.3 263.6h0M822.5 219.8h0M794.0 246.3h0M850.0 269.9h0M780.9 229.2h0M822.6 326.5h0M832.0 219.7h0M825.6 322.3h0M831.3 307.6h0M796.2 244.5h0M850.3 301.7h0M804.6 308.5h0M804.2 296.6h0M807.2 270.4h0M806.5 312.2h0M812.4 320.3h0M822.9 289.9h0M821.9 326.1h0M811.0 216.5h0M789.3 233.1h0M815.6 325.3h0M860.9 257.0h0M790.9 264.7h0M876.7 280.1h0M827.0 235.2h0M814.9 248.1h0M798.3 313.0h0M800.7 222.4h0M809.4 282.6h0M812.0 254.9h0M799.5 215.4h0M878.7 272.5h0M816.8 332.2h0M799.5 286.8h0M789.3 261.4h0M816.0 259.2h0M800.8 251.0h0M844.1 248.6h0M849.9 263.3h0M814.1 268.6h0M803.6 217.2h0M822.1 214.3h0M827.8 293.3h0M808.9 219.9h0M782.3 231.3h0M857.6 268.3h0M871.1 265.4h0M844.9 289.5h0M807.4 216.7h0M790.2 254.9h0M837.1 306.4h0M892.5 268.5h0M818.9 323.5h0M794.1 242.9h0M853.2 264.9h0M871.5 271.4h0M873.9 259.9h0M893.1 267.5h0M879.3 266.4h0M819.7 329.3h0M831.1 324.5h0M807.2 287.4h0M791.1 246.1h0M854.9 265.8h0M849.7 292.2h0M832.4 307.7h0M793.5 257.6h0M843.7 283.2h0M837.6 321.8h0M831.7 243.4h0M817.0 320.9h0M801.3 305.8h0M845.7 267.8h0M814.2 222.2h0M812.6 314.0h0M827.3 246.4h0M864.0 281.2h0M803.0 267.5h0M787.2 233.1h0M792.7 238.1h0M842.1 279.0h0M797.7 300.4h0M842.2 226.6h0M788.7 255.5h0M791.5 220.1h0M802.6 290.6h0M822.5 296.8h0M844.2 320.9h0M842.5 281.2h0M818.6 282.1h0M816.9 322.9h0M824.8 291.9h0M806.6 293.4h0M809.7 250.9h0M810.1 308.0h0M851.7 309.6h0M842.2 250.6h0M872.1 278.7h0M815.3 302.9h0M866.5 270.4h0M885.8 274.7h0M844.6 283.2h0M805.2 214.3h0M870.0 260.6h0M796.5 294.5h0M804.1 219.5h0M798.0 228.5h0M837.4 278.0h0M812.0 329.1h0M809.8 266.0h0M812.8 246.0h0M818.8 286.7h0M797.7 313.9h0M842.4 309.4h0M821.6 222.3h0M791.0 263.1h0M807.7 291.1h0M815.2 214.6h0M848.6 213.2h0M806.4 230.6h0M847.8 273.3h0M819.9 250.0h0M852.0 257.4h0M823.3 310.2h0M843.4 284.2h0M840.9 275.1h0M843.5 301.6h0M842.3 319.0h0M837.0 302.4h0M879.7 272.8h0M823.4 230.3h0M788.1 233.2h0M831.7 218.4h0M824.8 248.0h0M842.7 287.9h0M836.1 219.4h0M803.8 296.4h0M825.3 219.0h0M831.1 304.7h0M812.3 286.2h0M881.0 270.4h0M852.2 259.1h0M805.8 252.3h0M845.0 288.3h0M809.4 250.3h0M838.5 214.0h0M809.9 289.3h0M853.3 281.6h0M823.4 232.6h0M797.1 245.8h0M825.0 290.1h0M847.1 264.9h0M800.8 286.0h0M785.2 225.1h0M862.8 263.9h0M808.2 259.1h0M873.8 272.8h0M818.7 285.7h0M890.0 269.4h0M819.8 284.2h0M851.3 313.8h0M813.6 216.0h0M791.0 265.7h0M843.4 298.0h0M796.0 214.8h0M856.3 251.3h0M863.4 273.3h0M846.3 296.9h0M812.5 287.9h0M794.2 259.9h0M852.3 216.2h0M824.2 275.4h0M846.4 283.8h0M819.5 219.0h0M790.0 223.7h0M892.0 267.4h0M822.6 258.5h0M817.8 248.3h0M853.2 254.6h0M797.0 307.1h0M847.0 295.3h0M857.7 254.6h0M839.9 266.5h0M853.6 255.0h0M877.0 275.6h0M847.2 296.5h0M844.0 257.5h0M828.6 280.5h0M842.1 289.3h0M852.8 227.6h0M849.0 256.2h0M851.1 311.5h0M835.7 298.8h0M814.0 263.1h0M833.9 312.5h0M844.8 311.0h0M894.7 266.6h0M813.4 226.6h0M821.1 278.2h0M851.4 216.5h0M819.0 255.0h0M832.4 239.0h0M800.9 221.3h0M821.3 230.4h0M818.7 318.4h0M849.7 268.9h0M850.9 289.5h0M847.2 278.7h0M819.7 248.5h0M810.3 217.0h0M823.7 245.4h0M846.9 209.8h0M800.0 237.1h0M879.5 265.2h0M811.7 290.1h0M843.3 320.6h0M837.5 256.8h0M813.9 305.4h0M873.8 275.4h0M812.3 329.9h0M825.2 214.8h0M847.3 210.1h0M818.8 294.5h0M863.2 266.5h0M836.7 286.4h0M803.9 295.0h0M849.5 283.4h0M841.1 305.9h0M822.1 291.3h0M823.1 255.9h0M830.9 253.4h0M808.2 332.7h0M858.7 270.1h0M826.6 275.8h0M801.9 277.6h0M823.9 248.8h0M799.4 282.7h0M797.9 319.7h0M808.0 273.5h0M809.9 245.5h0M833.1 279.1h0M879.1 279.0h0M794.4 281.8h0M836.9 317.6h0M847.6 270.6h0M836.9 220.7h0M811.0 278.8h0M790.1 223.9h0M841.4 293.3h0M814.0 281.9h0M823.1 280.0h0M886.6 278.7h0M845.0 284.5h0M849.0 217.0h0M820.9 246.3h0M852.9 313.9h0M804.1 237.1h0M792.6 248.6h0M858.1 279.1h0M818.7 314.6h0M796.3 254.2h0M842.2 283.9h0M846.6 244.8h0M883.4 265.3h0M834.6 313.8h0M844.5 210.9h0M847.5 253.2h0M824.4 322.4h0M840.1 321.8h0M849.9 278.6h0M849.7 222.3h0M795.6 253.3h0M826.0 249.3h0M844.2 307.0h0M799.8 273.6h0M802.7 302.9h0M801.5 286.3h0M833.2 304.1h0M843.3 287.9h0M855.6 272.7h0M845.4 212.7h0M798.3 215.6h0M819.0 284.0h0M810.0 275.0h0M813.0 318.5h0M824.6 328.0h0M806.8 256.5h0M814.1 246.6h0M850.7 277.2h0M854.8 305.5h0M832.9 253.0h0M839.9 308.7h0M858.6 262.7h0M805.0 273.1h0M826.2 237.2h0M821.0 243.3h0M888.3 274.1h0M812.3 256.3h0M850.2 227.2h0M778.3 226.5h0M832.3 277.0h0M828.8 303.9h0M849.4 223.6h0M879.9 266.0h0M819.9 329.2h0M850.7 304.2h0M794.2 277.5h0M838.7 312.4h0M852.5 264.1h0M799.1 301.6h0M860.8 256.0h0M817.2 321.9h0M787.3 232.9h0M813.4 261.9h0M816.0 259.7h0M822.5 245.9h0M817.7 316.6h0M836.4 323.5h0M869.2 264.0h0M788.9 242.0h0M818.0 220.1h0M847.9 297.5h0M787.7 244.8h0M818.1 290.5h0M822.6 217.4h0M807.3 326.5h0M839.3 323.6h0M797.2 222.7h0M796.7 213.2h0M795.7 293.9h0M844.4 222.9h0M830.1 314.4h0M886.5 273.2h0M835.8 307.4h0M801.3 287.6h0M809.9 326.2h0M879.1 272.2h0M838.9 309.2h0M830.3 218.0h0M795.6 230.4h0M841.4 314.6h0M849.2 305.1h0M820.1 296.5h0M821.5 319.9h0M818.8 259.0h0M829.1 235.0h0M832.3 305.5h0M841.9 321.2h0M827.6 285.2h0M803.6 311.5h0M879.9 279.5h0M831.3 281.7h0M801.8 235.4h0M821.3 235.2h0M794.7 275.3h0M804.7 238.0h0M837.5 300.4h0M827.5 254.4h0M831.0 252.5h0M797.2 260.6h0M849.0 312.3h0M846.1 263.9h0M823.8 238.5h0M805.4 295.8h0M795.8 231.9h0M824.1 248.6h0M821.1 260.0h0M815.9 261.4h0M851.7 216.9h0M802.0 312.8h0M794.6 242.0h0M807.7 271.9h0M846.4 227.0h0M795.3 254.3h0M812.4 300.7h0M809.2 303.0h0M810.2 310.5h0M792.6 231.4h0M842.3 307.4h0M829.3 276.1h0M832.5 324.1h0M792.5 250.2h0M846.8 296.7h0M817.6 292.2h0M825.9 278.1h0M828.3 249.4h0M851.1 210.2h0M841.7 322.2h0M852.6 267.5h0M814.8 250.1h0M815.5 322.8h0M813.8 322.7h0M885.5 262.3h0M844.3 217.1h0M804.6 234.5h0M812.0 325.6h0M888.7 266.9h0M855.9 250.0h0M836.7 304.9h0M814.9 267.5h0M875.9 274.2h0M795.2 291.9h0M846.2 288.2h0M821.3 309.4h0M811.0 290.1h0M820.3 229.7h0M866.6 266.7h0M853.0 307.2h0M814.3 280.9h0M789.8 238.9h0M883.6 267.1h0M818.6 257.4h0M853.4 207.6h0M806.3 248.6h0M834.2 241.0h0M807.4 245.9h0M828.6 324.6h0M819.1 302.4h0M811.0 213.2h0M891.3 263.3h0M869.5 273.0h0M819.3 229.3h0M854.5 272.7h0M844.4 271.4h0M817.1 275.8h0M860.7 275.1h0M816.2 303.4h0M797.5 255.6h0M861.0 256.1h0M876.6 272.6h0M854.1 260.1h0M807.8 245.5h0M840.1 275.2h0M810.0 314.0h0M824.3 277.2h0M838.2 301.6h0M842.0 318.7h0M822.4 259.3h0M814.2 247.2h0M877.8 266.9h0M815.4 313.0h0M840.2 299.8h0M842.5 211.9h0M806.1 311.0h0M852.2 227.0h0M852.5 314.8h0M810.2 233.5h0M811.6 264.5h0M794.4 237.6h0M824.5 250.1h0M810.5 296.7h0M849.8 313.4h0M811.8 268.5h0M812.6 312.1h0M777.6 226.5h0M812.6 287.6h0M839.4 279.4h0M821.2 246.7h0M802.0 276.0h0M849.2 222.6h0M819.3 280.1h0M814.2 276.2h0M827.4 312.6h0M837.5 301.8h0M859.2 281.8h0M851.8 281.7h0M796.0 234.3h0M819.8 324.0h0M843.6 322.1h0M840.3 257.2h0M793.8 245.5h0M872.6 266.3h0M822.3 273.3h0M830.2 302.7h0M802.3 225.7h0M845.8 276.1h0M842.5 322.2h0M808.2 256.7h0M841.4 257.1h0M808.2 294.6h0M778.6 226.8h0M799.8 219.9h0M820.0 253.3h0M833.5 232.2h0M845.1 321.2h0M867.8 273.8h0M796.4 294.5h0M826.1 319.1h0M818.9 325.3h0M837.5 317.7h0M823.6 219.9h0M828.3 320.5h0M845.7 248.7h0M809.4 242.3h0M809.8 219.0h0M820.0 213.3h0M845.1 284.2h0M841.8 318.5h0M788.3 226.4h0M816.8 325.9h0M795.8 284.6h0M866.7 269.3h0M847.0 298.6h0M802.6 252.2h0M796.0 252.5h0M816.3 296.6h0M822.2 223.6h0M833.0 241.2h0M810.2 316.8h0M812.5 217.4h0M824.2 218.1h0M866.5 257.6h0M797.3 229.2h0M822.3 272.1h0M813.8 300.2h0M845.1 317.4h0M830.6 275.4h0M795.6 252.0h0M804.9 326.7h0M825.2 316.4h0M840.7 296.4h0M814.6 260.2h0M814.6 219.5h0M823.5 257.2h0M855.8 263.2h0M831.7 318.6h0M873.0 264.6h0M800.0 312.9h0M808.2 303.5h0M815.1 228.7h0M797.6 248.1h0M823.4 316.6h0M825.5 257.8h0M888.5 266.7h0M803.2 296.0h0M849.3 209.9h0M859.1 265.4h0M800.3 279.9h0M808.3 251.1h0M826.4 292.1h0M828.7 217.4h0M820.7 282.1h0M854.3 248.6h0M802.4 325.1h0M844.4 269.5h0M894.9 266.7h0M825.1 218.2h0M875.5 270.4h0M858.2 254.3h0M807.9 266.8h0M804.1 324.3h0M811.8 291.3h0M778.1 233.8h0M822.1 214.4h0M823.6 218.7h0M800.8 265.8h0M846.1 301.0h0M837.3 321.1h0M798.4 292.5h0M834.4 297.3h0M782.5 230.1h0M833.1 279.9h0M790.4 266.4h0M818.7 321.8h0M841.4 280.7h0M867.7 266.1h0M832.7 325.5h0M820.0 267.3h0M815.5 221.4h0M791.2 265.7h0M795.3 282.1h0M819.0 314.8h0M831.1 325.4h0M849.0 271.3h0M846.3 254.5h0M816.6 275.4h0M807.8 269.1h0M853.4 254.7h0M823.7 237.9h0M807.6 217.3h0M845.7 225.0h0M801.7 304.3h0M806.4 294.9h0M841.2 273.8h0M844.4 301.0h0M863.6 274.5h0M837.1 282.7h0M841.8 267.5h0M816.9 256.9h0M814.4 320.9h0M855.5 287.2h0M858.9 263.0h0M862.3 267.7h0M776.9 230.2h0M849.4 294.0h0M814.7 311.4h0M874.6 260.4h0M814.8 314.2h0M788.3 224.4h0M805.7 335.0h0M801.7 270.6h0M820.7 311.2h0M797.3 305.3h0M857.6 257.4h0M817.3 262.7h0M801.4 275.7h0M885.1 261.4h0M832.2 279.9h0M808.2 270.5h0M840.5 276.2h0M847.1 302.8h0M799.0 248.0h0M800.8 238.2h0M806.6 310.4h0M789.9 247.4h0M832.3 280.4h0M826.2 249.6h0M866.5 267.0h0M815.5 270.6h0M791.2 225.5h0M820.0 245.0h0M831.9 216.4h0M848.9 314.5h0M835.6 278.9h0M806.7 293.8h0M796.3 305.8h0M857.6 258.1h0M818.3 306.3h0M807.4 233.7h0M807.9 337.4h0M875.4 265.2h0M823.4 314.7h0M886.7 264.7h0M850.6 306.2h0M846.0 250.0h0M815.6 294.6h0M818.4 266.2h0M851.7 301.2h0M840.1 257.6h0M853.5 264.2h0M827.9 233.4h0M848.8 296.4h0M802.4 325.0h0M889.1 275.9h0M862.3 272.8h0M850.3 302.6h0M803.8 231.9h0M809.0 338.6h0M794.6 225.9h0M813.0 217.5h0M822.9 216.4h0M834.6 296.2h0M843.9 225.0h0M816.0 248.0h0M784.4 221.5h0M795.9 256.1h0M801.1 240.8h0M812.6 320.2h0M832.0 241.0h0M831.7 315.7h0M821.1 247.6h0M825.7 231.6h0M825.4 214.5h0M858.8 220.5h0M855.6 221.3h0M832.8 289.7h0M811.8 272.8h0M851.5 269.8h0M855.0 219.6h0M817.7 215.5h0M796.0 304.2h0M833.9 309.5h0M852.6 283.2h0M801.5 268.6h0M834.6 298.9h0M883.4 259.5h0M835.2 228.6h0M796.3 262.3h0M838.3 290.7h0M878.7 276.6h0M817.0 230.8h0M845.9 249.6h0M798.3 263.2h0M842.1 223.6h0M795.1 311.3h0M855.2 258.0h0M792.0 262.7h0M854.3 251.2h0M839.9 279.8h0M858.6 253.6h0M799.0 249.6h0M811.5 267.1h0M803.4 297.5h0M847.7 222.8h0M785.5 243.3h0M888.0 262.6h0M853.2 295.5h0M837.2 254.5h0M847.7 219.5h0M831.6 276.2h0M797.3 260.8h0M849.5 291.4h0M792.3 246.6h0M814.1 224.5h0M831.5 323.6h0M846.7 302.2h0M791.1 254.6h0M795.8 259.8h0M802.0 318.9h0M804.4 247.6h0M825.3 324.1h0M801.5 287.5h0M824.3 322.6h0M839.6 323.4h0M821.3 281.4h0M798.3 275.3h0M851.2 259.2h0M796.6 317.4h0M839.6 212.6h0M824.8 292.2h0M827.8 251.0h0M798.1 251.2h0M857.0 269.2h0M873.0 269.9h0M798.7 241.3h0M836.9 255.9h0M792.9 282.6h0M808.2 300.6h0M796.3 302.3h0M798.8 276.4h0M792.7 259.1h0M806.3 299.8h0M803.0 213.3h0M800.3 298.7h0M817.2 226.1h0M792.9 222.4h0M883.5 266.6h0M802.0 244.4h0M806.1 316.2h0M820.3 273.4h0M877.2 271.7h0M845.6 211.6h0M843.6 253.1h0M824.6 290.5h0M817.8 275.6h0M812.4 233.2h0M814.2 230.9h0M801.6 300.9h0M852.9 263.8h0M843.7 258.7h0M831.0 300.8h0M821.3 307.4h0M795.7 277.6h0M836.3 315.5h0M839.8 314.0h0M881.7 270.5h0M846.0 263.5h0M820.7 259.7h0M848.4 214.5h0M845.9 276.3h0M860.7 266.5h0M799.7 289.3h0M814.4 224.0h0M834.3 284.2h0M891.9 274.3h0M866.2 259.4h0M816.1 288.0h0M816.7 277.4h0M839.0 215.9h0M819.4 232.1h0M812.4 294.5h0M804.9 301.8h0M875.8 274.9h0M798.6 298.4h0M852.1 243.5h0M848.4 245.1h0M843.5 244.6h0M841.0 242.4h0M836.1 243.6h0M834.9 240.1h0M836.6 236.4h0M836.6 232.0h0M837.3 230.3h0M840.1 226.2h0M842.5 226.9h0M846.3 227.9h0M850.0 227.4h0M856.0 228.4h0M857.8 224.2h0M860.4 222.9h0M863.7 216.7h0M856.4 206.6h0M852.1 206.4h0M849.3 209.1h0M845.6 210.0h0M843.3 212.1h0M836.8 211.4h0M834.6 213.9h0M831.6 215.9h0M826.9 216.2h0M823.3 212.9h0M821.4 210.4h0M817.4 210.6h0M812.8 211.8h0M809.8 212.5h0M805.0 211.4h0M800.5 210.9h0M798.1 210.0h0M792.7 212.7h0M789.4 214.8h0M786.9 216.4h0M783.2 217.3h0M781.0 221.9h0M775.9 224.8h0M776.1 229.0h0M774.4 232.2h0M784.8 258.3h0M785.7 262.0h0M789.6 266.6h0M789.5 270.3h0M790.4 272.6h0M791.5 277.9h0M790.4 280.9h0M794.1 284.7h0M794.8 287.9h0M796.2 293.1h0M794.1 296.3h0M796.0 301.4h0M795.6 304.8h0M793.5 308.7h0M794.1 313.3h0M794.0 317.7h0M798.1 320.4h0M798.2 325.3h0M800.8 328.2h0M801.5 331.1h0M804.2 334.5h0M804.9 338.6h0M808.1 343.0h0M811.2 341.5h0M813.8 337.5h0M813.9 334.4h0M818.0 333.9h0M821.3 331.3h0M825.5 329.0h0M828.5 328.6h0M831.3 326.0h0M836.3 325.0h0M839.9 325.1h0M845.5 322.2h0M847.6 321.2h0M851.0 316.3h0M852.8 314.6h0M855.5 312.1h0M856.6 306.1h0M856.8 302.4h0M853.4 300.2h0M852.5 296.7h0M854.0 290.4h0M855.7 287.5h0M857.8 284.1h0M861.8 285.5h0M865.7 284.4h0M869.8 284.5h0M874.2 281.2h0M878.5 282.8h0M881.6 280.3h0M886.8 281.0h0M889.8 278.8h0M894.2 276.9h0M894.5 272.8h0M897.2 271.0h0M897.2 263.9h0M892.6 262.6h0M891.5 258.4h0M887.3 259.1h0M882.8 257.6h0M879.5 258.6h0M874.0 256.8h0M870.1 256.2h0M867.0 258.0h0M863.0 255.0h0M859.9 253.1h0M857.6 250.6h0M856.2 246.7h0M820.4 264.6h0M824.3 259.8h0M827.1 259.2h0M830.7 258.8h0M835.9 257.8h0M837.5 259.1h0M839.4 264.4h0M839.4 268.3h0M838.5 270.7h0M835.5 272.4h0M831.3 275.6h0M827.2 273.4h0M823.0 275.2h0M822.0 271.7h0M820.7 267.1h0"/>
<path stroke="#dee9b1" d="M906.0 215.0h0M907.8 207.4h0M905.8 206.7h0M909.2 207.4h0M904.4 207.0h0M904.9 204.1h0M908.7 206.4h0M910.0 210.8h0M906.0 213.1h0M907.2 211.7h0M904.3 203.5h0M905.3 205.9h0M902.7 211.8h0M904.2 214.0h0M904.8 217.8h0M908.9 222.0h0M909.2 219.5h0M908.9 214.4h0M911.9 211.1h0M908.3 207.5h0M907.1 203.6h0"/>
<path stroke="#dee9b1" d="M930.5 224.6h0M929.2 218.9h0M922.7 206.6h0M922.8 210.6h0M922.5 211.7h0M915.7 224.8h0M933.2 228.3h0M925.1 218.6h0M923.6 209.3h0M927.3 225.2h0M931.1 225.8h0M919.9 213.2h0M921.3 210.2h0M920.3 212.3h0M925.7 220.2h0M926.5 215.1h0M921.5 216.3h0M924.4 218.3h0M917.1 223.2h0M919.4 217.0h0M918.6 212.6h0M929.7 222.4h0M921.5 221.1h0M927.2 226.3h0M926.4 222.9h0M932.6 223.1h0M920.9 218.8h0M917.1 217.6h0M925.6 220.0h0M921.9 214.6h0M917.9 211.5h0M917.1 217.6h0M923.1 210.4h0M920.0 220.7h0M920.7 204.6h0M918.3 207.6h0M918.0 214.0h0M916.5 216.2h0M914.1 221.4h0M914.1 224.9h0M913.5 228.8h0M930.8 228.4h0M932.7 227.1h0M935.3 222.1h0M931.0 221.9h0M928.7 217.7h0M926.7 213.7h0M925.5 210.4h0M922.8 206.6h0"/>
<path stroke="#cbaa80" d="M874.2 353.5h0M873.8 354.6h0M868.5 379.2h0M864.1 371.8h0M879.9 366.2h0M857.7 350.7h0M867.8 358.7h0M859.0 365.9h0M872.5 361.9h0M863.5 362.3h0M881.3 367.1h0M875.1 357.4h0M861.0 341.2h0M874.8 358.4h0M875.5 352.5h0M874.7 356.3h0M853.4 360.0h0M875.3 368.3h0M874.5 351.3h0M853.7 364.5h0M868.0 351.7h0M881.0 361.7h0M879.2 360.3h0M853.5 343.2h0M856.0 346.4h0M859.4 363.6h0M881.2 364.1h0M867.1 381.8h0M865.4 352.0h0M866.7 375.0h0M860.2 370.2h0M857.8 340.3h0M851.5 361.1h0M867.6 359.4h0M864.8 349.2h0M858.9 359.9h0M873.2 360.6h0M856.4 350.1h0M855.1 364.2h0M855.0 365.5h0M859.6 353.8h0M864.0 347.5h0M862.7 374.9h0M866.9 349.8h0M868.0 365.6h0M871.4 350.9h0M871.1 354.8h0M852.1 344.1h0M856.7 350.0h0M873.3 358.3h0M848.3 345.1h0M878.2 356.5h0M853.3 357.0h0M868.0 365.9h0M851.7 341.3h0M851.0 339.8h0M869.7 366.3h0M877.3 358.5h0M862.2 372.4h0M849.8 345.3h0M868.2 353.1h0M852.2 343.9h0M863.9 362.6h0M854.8 356.5h0M849.2 348.1h0M848.8 351.1h0M877.5 367.3h0M857.6 363.7h0M851.0 338.3h0M862.4 343.8h0M854.0 363.5h0M865.1 367.1h0M867.5 379.8h0M864.1 363.4h0M858.7 366.1h0M851.5 357.9h0M869.7 371.4h0M866.6 364.3h0M858.6 367.4h0M880.3 368.3h0M861.0 360.7h0M849.9 339.3h0M851.2 338.0h0M865.2 362.4h0M861.9 357.0h0M852.2 362.8h0M859.2 352.1h0M855.1 361.4h0M852.5 359.0h0M851.9 348.1h0M862.2 369.6h0M871.3 368.1h0M862.0 373.9h0M880.5 359.6h0M873.7 353.6h0M856.3 356.0h0M875.8 366.6h0M860.5 351.4h0M877.9 359.1h0M866.5 378.8h0M872.2 370.9h0M858.2 352.9h0M868.3 359.7h0M853.4 353.4h0M869.9 381.6h0M854.6 336.0h0M863.0 369.6h0M870.8 351.3h0M851.1 347.3h0M848.1 335.7h0M849.8 340.4h0M846.0 344.0h0M847.8 347.3h0M846.0 351.7h0M847.3 356.6h0M850.1 360.2h0M852.8 362.9h0M852.9 368.0h0M856.8 370.8h0M861.8 372.7h0M863.3 376.6h0M864.3 380.9h0M866.4 381.9h0M871.9 381.6h0M883.7 370.5h0M884.6 365.3h0M882.9 360.8h0M879.5 359.6h0M878.3 354.4h0M875.1 352.0h0M874.6 348.7h0M870.5 346.1h0M867.0 343.8h0M862.2 341.3h0M859.8 341.0h0M857.5 335.6h0M852.6 332.9h0"/>
<path stroke="#cbaa80" d="M845.8 381.0h0M849.6 383.8h0M848.2 381.2h0M845.9 381.6h0M841.1 379.8h0M843.2 384.0h0M846.4 384.1h0M849.2 382.8h0M849.4 380.5h0M847.3 378.7h0"/>
<path stroke="#85cdd2" d="M780.0 378.9h0M776.7 382.2h0M777.4 399.4h0M787.3 372.5h0M804.6 388.0h0M803.6 366.1h0M794.5 381.7h0M795.8 428.8h0M762.5 414.7h0M757.8 425.6h0M771.2 380.6h0M778.4 422.5h0M772.5 424.9h0M808.8 379.1h0M804.6 421.7h0M798.3 422.3h0M764.7 419.6h0M795.2 372.8h0M801.1 362.3h0M794.2 361.3h0M767.4 387.6h0M775.8 423.5h0M786.5 418.7h0M765.3 401.0h0M801.9 390.4h0M800.2 405.6h0M783.9 411.3h0M812.1 374.7h0M800.8 408.9h0M793.6 408.4h0M812.3 404.6h0M808.5 408.9h0M768.7 391.0h0M818.6 400.7h0M785.7 391.3h0M777.0 405.3h0M781.6 392.5h0M802.5 417.1h0M773.7 401.7h0M782.0 424.2h0M802.1 359.3h0M763.4 411.8h0M808.5 367.6h0M778.5 384.1h0M764.0 430.6h0M812.5 383.6h0M806.1 408.9h0M802.5 419.6h0M799.8 427.2h0M784.9 404.8h0M788.4 430.5h0M777.0 397.1h0M793.5 424.7h0M791.5 365.4h0M791.7 386.1h0M798.4 368.6h0M810.7 377.3h0M779.5 395.7h0M765.7 414.2h0M812.0 388.6h0M784.6 384.7h0M794.4 361.5h0M780.6 428.7h0M804.7 394.4h0M804.8 402.6h0M807.2 353.8h0M784.4 425.8h0M769.8 373.9h0M790.9 363.3h0M766.2 429.9h0M792.7 390.6h0M793.8 426.3h0M813.5 405.7h0M800.4 395.4h0M790.6 367.9h0M801.8 370.6h0M791.1 409.7h0M766.8 373.0h0M784.1 410.4h0M766.2 418.0h0M781.2 364.7h0M802.3 356.8h0M780.3 411.3h0M813.2 409.2h0M803.3 392.3h0M770.3 368.7h0M802.6 410.1h0M766.9 370.4h0M776.5 387.6h0M814.8 396.0h0M806.5 358.6h0M807.2 403.7h0M809.9 386.9h0M776.2 399.4h0M801.1 379.8h0M796.9 411.5h0M785.3 425.6h0M814.0 390.8h0M804.4 396.2h0M807.0 364.2h0M794.1 414.6h0M769.4 397.1h0M800.8 362.1h0M793.2 359.3h0M811.3 404.2h0M772.6 386.9h0M804.5 388.9h0M775.7 414.0h0M798.3 408.3h0M787.0 415.0h0M795.6 428.7h0M817.0 404.3h0M795.0 418.5h0M783.8 360.7h0M785.8 360.0h0M788.0 399.2h0M784.8 404.1h0M765.0 393.4h0M776.7 398.8h0M786.7 391.2h0M785.6 418.5h0M800.5 414.3h0M784.7 361.9h0M774.1 430.9h0M797.2 413.6h0M790.0 416.8h0M803.8 422.1h0M796.0 392.1h0M803.3 385.9h0M782.6 395.3h0M777.7 433.7h0M770.9 376.6h0M788.3 371.8h0M782.8 373.7h0M780.5 370.4h0M770.5 384.7h0M812.5 392.4h0M795.8 418.4h0M800.6 392.0h0M808.9 414.7h0M769.8 431.8h0M780.9 422.7h0M783.3 418.5h0M779.7 417.0h0M792.6 422.5h0M764.6 418.5h0M758.9 426.4h0M810.1 357.3h0M800.0 411.8h0M800.7 370.2h0M807.9 399.9h0M783.9 424.8h0M768.4 389.2h0M776.0 398.9h0M765.9 415.1h0M784.3 411.2h0M784.9 399.0h0M792.4 382.9h0M808.6 371.3h0M803.2 396.9h0M766.4 371.8h0M784.1 397.2h0M757.5 433.4h0M798.4 377.3h0M777.3 385.1h0M805.0 411.1h0M813.9 385.4h0M794.9 389.4h0M802.3 360.2h0M793.1 424.5h0M768.4 381.7h0M775.8 414.5h0M781.8 431.2h0M778.1 403.1h0M803.9 378.4h0M779.0 410.1h0M788.0 379.1h0M807.8 355.7h0M781.5 403.8h0M811.1 395.6h0M803.7 391.8h0M790.1 375.8h0M770.2 392.2h0M755.0 432.9h0M804.3 356.6h0M769.0 423.5h0M799.2 410.0h0M803.7 375.9h0M783.9 375.8h0M775.5 389.8h0M769.8 403.5h0M798.2 400.3h0M789.3 385.8h0M811.4 396.7h0M787.3 367.0h0M803.4 414.5h0M797.7 390.2h0M804.4 351.9h0M784.6 428.6h0M769.6 421.1h0M768.5 388.0h0M752.9 427.5h0M812.4 390.0h0M780.2 425.3h0M783.1 396.6h0M773.1 377.5h0M804.7 368.8h0M792.3 412.4h0M816.6 392.8h0M780.2 419.7h0M761.1 419.7h0M779.8 386.9h0M790.2 369.0h0M803.2 420.6h0M783.8 415.2h0M768.0 369.2h0M792.3 364.7h0M799.5 397.3h0M799.2 393.9h0M791.8 406.9h0M771.4 382.0h0M792.6 375.6h0M787.8 370.1h0M771.5 399.6h0M780.9 371.8h0M768.3 434.5h0M775.3 394.6h0M787.9 378.9h0M797.8 412.4h0M819.5 403.2h0M785.2 360.8h0M789.5 410.0h0M810.6 381.3h0M781.4 386.0h0M805.3 357.1h0M772.3 391.0h0M768.4 384.2h0M777.6 385.0h0M784.6 375.4h0M784.7 375.2h0M791.7 410.2h0M789.6 431.1h0M777.8 368.6h0M771.4 391.8h0M772.6 374.2h0M798.4 393.1h0M789.0 376.4h0M785.7 367.6h0M787.7 397.4h0M771.2 426.5h0M781.7 414.8h0M767.5 388.9h0M783.4 409.5h0M768.4 390.3h0M769.0 367.1h0M769.0 371.6h0M797.6 407.0h0M802.3 387.8h0M792.2 408.0h0M781.2 381.6h0M763.1 427.7h0M777.3 417.9h0M777.9 416.0h0M769.2 432.8h0M794.8 427.5h0M787.1 370.1h0M752.8 434.2h0M773.0 413.6h0M770.2 397.5h0M798.9 356.4h0M786.0 382.3h0M774.0 424.6h0M754.0 426.4h0M786.7 407.4h0M768.3 391.8h0M768.7 405.4h0M780.1 366.2h0M782.6 402.7h0M776.9 428.8h0M812.4 405.0h0M780.8 367.2h0M786.1 411.4h0M808.8 371.6h0M794.0 385.5h0M793.9 362.1h0M777.7 413.7h0M780.6 396.3h0M806.4 403.7h0M803.6 411.1h0M782.5 363.2h0M812.6 409.8h0M765.1 430.9h0M800.6 427.4h0M768.3 387.9h0M787.0 416.5h0M757.6 424.3h0M778.7 397.8h0M772.3 368.9h0M790.6 382.0h0M771.2 395.9h0M779.2 424.9h0M796.4 411.5h0M778.0 401.3h0M775.8 392.5h0M770.2 373.5h0M803.5 407.5h0M783.0 431.5h0M786.4 418.7h0M802.0 360.0h0M785.2 418.3h0M807.8 373.1h0M796.8 369.8h0M788.9 422.5h0M798.1 371.5h0M790.3 399.1h0M791.0 386.5h0M778.4 394.2h0M756.1 425.2h0M794.5 357.6h0M775.1 417.2h0M801.4 429.4h0M808.6 371.0h0M767.3 371.9h0M808.9 417.4h0M792.3 397.4h0M775.1 431.9h0M795.8 371.7h0M805.2 361.4h0M772.2 428.4h0M784.9 416.2h0M800.0 402.5h0M794.5 368.1h0M779.9 405.2h0M802.0 407.2h0M796.2 398.8h0M804.2 359.6h0M799.4 385.4h0M781.5 368.0h0M774.6 389.8h0M776.1 415.0h0M781.9 419.9h0M767.1 367.7h0M808.0 400.2h0M761.3 431.8h0M772.4 412.5h0M785.9 378.0h0M788.5 417.7h0M775.8 386.7h0M773.2 399.7h0M792.6 415.3h0M776.8 422.4h0M792.5 399.7h0M771.8 375.8h0M792.9 366.7h0M794.5 411.7h0M802.4 412.2h0M789.2 382.2h0M800.2 364.3h0M784.7 390.9h0M799.7 404.8h0M768.5 422.6h0M809.3 386.0h0M806.4 375.1h0M794.2 385.3h0M780.1 382.0h0M808.1 407.2h0M774.8 419.7h0M807.0 395.8h0M794.0 424.2h0M785.5 415.7h0M797.8 374.0h0M781.7 371.2h0M821.2 400.2h0M795.7 386.2h0M771.2 414.7h0M804.6 400.0h0M793.5 368.1h0M806.8 397.3h0M767.2 432.1h0M812.0 383.9h0M768.2 384.3h0M809.6 398.8h0M810.3 389.3h0M802.1 369.4h0M785.8 432.0h0M803.3 389.0h0M770.6 367.6h0M774.2 421.9h0M783.5 421.7h0M810.1 359.2h0M783.8 363.3h0M820.4 402.3h0M769.3 421.9h0M812.0 370.7h0M775.7 379.1h0M807.8 401.4h0M778.5 421.9h0M808.5 383.6h0M765.5 399.4h0M782.0 424.9h0M790.2 402.5h0M772.6 431.2h0M800.7 364.6h0M784.5 393.5h0M787.8 425.0h0M801.3 375.1h0M797.6 364.1h0M785.2 389.0h0M788.5 409.2h0M776.9 424.5h0M801.4 372.1h0M775.7 406.1h0M793.9 429.9h0M801.6 363.3h0M795.5 382.7h0M760.6 420.2h0M777.9 365.7h0M802.6 391.0h0M796.0 403.3h0M763.8 365.2h0M762.5 370.6h0M765.3 385.1h0M764.3 388.9h0M764.7 393.6h0M762.5 398.2h0M763.2 402.2h0M763.5 405.2h0M764.2 410.2h0M760.1 413.2h0M759.4 415.9h0M757.4 419.9h0M756.3 425.0h0M752.4 425.4h0M749.4 429.3h0M750.8 433.6h0M753.2 436.0h0M768.9 437.3h0M772.1 436.0h0M776.8 435.9h0M780.1 434.5h0M785.3 433.2h0M789.2 430.4h0M792.7 430.7h0M796.5 429.5h0M801.4 430.5h0M809.4 421.4h0M807.7 415.7h0M809.7 412.1h0M813.9 410.1h0M817.1 408.6h0M820.1 405.4h0M820.9 401.2h0M819.9 397.5h0M818.5 393.5h0M814.8 390.3h0M816.5 386.0h0M812.4 383.3h0M813.9 380.5h0M813.3 375.1h0M812.8 371.0h0M810.1 356.2h0M807.2 354.5h0M804.2 351.9h0M801.1 352.4h0M797.4 356.1h0M793.9 357.1h0M789.8 357.5h0M785.8 358.9h0M781.2 362.0h0M777.4 363.2h0M774.8 362.7h0M770.9 367.7h0M766.6 364.6h0"/>
<path stroke="#85cdd2" d="M803.4 347.9h0M805.1 336.3h0M808.1 348.2h0M809.7 347.1h0M799.9 338.3h0M805.7 342.2h0M803.7 341.0h0M804.4 335.3h0M803.2 346.2h0M806.8 340.6h0M801.8 340.6h0M802.0 345.2h0M801.4 334.9h0M799.1 339.6h0M800.1 343.9h0M801.9 348.9h0M805.5 348.8h0M809.0 348.6h0M810.3 345.0h0M809.1 341.0h0M808.3 337.7h0M803.7 333.8h0"/>
<path stroke="#288a64" d="M720.5 434.3h0M719.2 434.1h0M733.6 409.7h0M719.5 430.5h0M735.2 407.4h0M711.7 439.1h0M729.4 416.6h0M719.8 434.5h0M707.9 428.8h0M706.3 436.5h0M741.4 387.6h0M731.4 415.1h0M710.1 443.8h0M718.5 432.3h0M725.3 428.0h0M726.5 423.3h0M706.5 432.5h0M714.5 426.7h0M721.9 438.6h0M713.0 438.9h0M708.3 436.7h0M710.6 426.5h0M708.4 423.8h0M724.8 418.2h0M713.2 434.5h0M727.8 418.4h0M724.1 422.9h0M736.7 400.1h0M711.4 441.5h0M714.9 433.6h0M713.8 418.8h0M733.2 407.3h0M734.5 405.9h0M708.2 426.1h0M714.5 426.8h0M721.1 429.3h0M720.0 426.8h0M715.2 429.1h0M739.7 388.7h0M708.6 445.7h0M724.2 434.1h0M724.0 433.7h0M714.1 418.4h0M738.7 392.6h0M711.7 422.7h0M723.6 414.9h0M719.3 418.5h0M716.7 424.5h0M716.6 427.8h0M718.2 434.9h0M705.2 441.3h0M703.4 440.9h0M719.9 439.6h0M715.3 432.1h0M714.6 424.4h0M717.1 433.8h0M732.6 408.3h0M717.3 426.4h0M711.3 428.3h0M711.6 439.8h0M734.2 409.6h0M722.6 431.8h0M724.2 425.1h0M716.2 425.6h0M735.9 409.0h0M728.0 415.5h0M706.8 430.7h0M715.9 429.1h0M739.6 403.5h0M707.8 439.3h0M717.5 417.1h0M707.5 426.0h0M707.5 440.9h0M718.4 425.0h0M712.3 426.2h0M725.0 424.1h0M714.3 417.1h0M702.4 439.6h0M717.5 429.0h0M718.0 418.8h0M733.6 413.3h0M724.9 413.6h0M722.6 435.6h0M716.2 444.6h0M718.7 419.1h0M732.0 411.6h0M719.1 433.4h0M724.0 418.3h0M726.1 427.9h0M720.7 433.7h0M702.4 428.7h0M701.4 432.8h0M701.4 436.1h0M700.8 441.7h0M703.3 444.8h0M706.8 445.2h0M711.8 446.7h0M715.2 444.6h0M720.0 443.8h0M721.8 443.0h0M722.2 437.2h0M726.0 434.7h0M726.0 429.3h0M727.0 425.9h0M727.8 421.2h0M728.4 419.0h0M732.2 415.6h0M737.6 412.8h0M737.1 407.8h0M738.8 404.4h0M739.2 400.1h0M742.0 397.9h0M742.5 392.9h0M742.1 389.5h0M739.9 387.8h0M737.1 389.9h0M737.6 392.8h0M738.2 397.1h0M733.9 400.0h0M733.4 403.8h0M730.3 406.6h0M729.3 410.3h0M727.4 413.7h0M722.6 413.2h0M718.4 415.2h0M713.9 414.9h0M703.5 424.3h0"/>
<path stroke="#e43725" d="M605.0 355.0h0M604.8 372.8h0M598.1 360.2h0M590.1 335.6h0M613.4 357.4h0M612.3 378.6h0M599.0 378.3h0M628.9 345.2h0M614.2 377.8h0M633.5 346.8h0M607.0 339.6h0M622.1 365.7h0M612.1 334.0h0M589.4 339.7h0M617.1 343.1h0M623.5 337.3h0M621.4 356.0h0M607.3 336.1h0M594.8 381.6h0M633.4 344.8h0M603.9 340.9h0M587.7 340.7h0M612.0 328.6h0M613.2 330.0h0M634.8 353.4h0M622.0 344.1h0M615.7 353.0h0M618.6 342.2h0M595.8 361.2h0M614.7 365.5h0M608.5 354.1h0M619.8 374.2h0M618.4 345.9h0M613.6 363.9h0M596.6 351.1h0M620.8 343.3h0M597.5 365.4h0M623.3 341.5h0M618.2 352.3h0M596.9 377.1h0M602.5 367.5h0M591.7 330.7h0M613.8 338.2h0M616.9 375.9h0M625.7 342.1h0M607.6 335.9h0M618.2 342.5h0M607.6 373.0h0M588.8 341.1h0M587.4 348.4h0M627.2 341.9h0M626.1 366.1h0M620.6 355.8h0M625.2 368.8h0M601.1 348.1h0M619.5 341.0h0M593.0 337.8h0M608.1 357.6h0M632.3 358.1h0M589.2 345.4h0M599.4 368.9h0M614.7 353.1h0M601.8 360.2h0M621.9 338.9h0M608.9 329.5h0M604.7 354.9h0M618.5 375.2h0M612.1 346.6h0M605.3 324.0h0M618.5 365.9h0M616.8 332.6h0M605.5 351.9h0M603.2 344.6h0M620.1 352.6h0M609.3 342.0h0M593.2 348.0h0M636.2 342.6h0M596.2 363.0h0M596.4 340.9h0M597.9 346.0h0M622.9 342.2h0M591.1 350.3h0M623.5 335.3h0M599.6 361.2h0M623.2 364.1h0M589.7 353.9h0M614.3 342.0h0M595.6 341.9h0M606.8 324.3h0M622.8 365.2h0M591.9 355.3h0M628.1 355.8h0M588.2 334.8h0M604.5 335.3h0M594.2 359.3h0M593.9 340.7h0M632.6 341.7h0M591.2 346.6h0M615.8 369.1h0M625.4 344.9h0M611.3 329.9h0M606.2 342.3h0M610.0 324.0h0M618.1 364.4h0M598.5 362.1h0M610.2 352.9h0M624.0 345.2h0M611.1 369.6h0M632.0 355.8h0M601.1 341.7h0M596.2 352.9h0M634.8 353.6h0M627.8 349.5h0M613.4 353.4h0M597.6 354.6h0M595.4 340.5h0M605.8 349.5h0M590.5 335.2h0M617.3 342.9h0M609.3 340.0h0M591.3 337.1h0M631.7 361.2h0M627.7 359.9h0M598.4 346.3h0M635.4 346.2h0M619.5 346.1h0M606.6 344.0h0M603.2 337.3h0M621.1 349.5h0M598.3 340.5h0M596.0 345.1h0M595.3 353.0h0M611.2 333.6h0M608.6 348.0h0M602.6 326.9h0M604.2 325.7h0M611.2 373.6h0M601.7 370.0h0M603.0 341.1h0M610.7 372.2h0M608.1 354.0h0M604.3 360.3h0M607.3 351.9h0M600.1 375.7h0M614.5 327.6h0M613.2 380.6h0M608.6 324.5h0M621.0 362.2h0M596.7 369.1h0M616.0 339.0h0M600.7 370.8h0M621.4 340.7h0M599.4 351.4h0M603.5 369.7h0M617.7 363.5h0M635.3 356.0h0M598.9 366.1h0M614.1 379.5h0M617.2 339.5h0M632.8 348.3h0M594.4 343.5h0M608.5 344.8h0M627.7 361.8h0M626.7 355.9h0M594.1 339.8h0M612.8 375.1h0M606.2 372.9h0M633.1 359.5h0M622.3 335.8h0M618.8 339.5h0M613.2 346.4h0M616.7 365.3h0M631.7 345.4h0M614.3 354.0h0M619.9 359.3h0M593.9 363.9h0M604.3 327.0h0M601.1 371.6h0M637.1 349.6h0M595.3 367.8h0M589.3 340.8h0M634.9 342.8h0M599.2 351.3h0M621.1 374.1h0M604.4 371.5h0M592.9 331.8h0M593.8 364.5h0M602.6 369.8h0M619.3 354.7h0M609.1 341.3h0M614.7 336.9h0M589.6 350.1h0M599.6 340.2h0M610.7 340.5h0M628.5 350.7h0M605.2 335.6h0M627.5 341.4h0M619.1 364.0h0M603.5 353.0h0M622.3 334.8h0M593.8 367.0h0M592.2 341.9h0M588.8 336.6h0M609.0 328.3h0M634.7 353.9h0M618.3 348.1h0M609.5 349.4h0M601.1 370.5h0M610.4 373.9h0M622.5 374.4h0M594.8 347.3h0M614.8 366.2h0M597.3 369.4h0M633.4 351.8h0M621.9 341.1h0M599.0 355.9h0M593.7 350.7h0M587.1 340.7h0M602.5 344.5h0M594.1 357.8h0M620.9 376.5h0M595.9 353.2h0M597.6 355.2h0M622.3 346.1h0M595.6 364.2h0M633.9 343.4h0M610.2 324.1h0M602.0 326.5h0M617.4 344.5h0M610.3 348.5h0M611.3 341.0h0M618.5 347.7h0M624.5 337.6h0M607.2 339.0h0M626.9 344.5h0M596.6 353.8h0M617.6 358.8h0M587.3 336.2h0M588.3 326.5h0M588.4 332.0h0M587.1 334.6h0M584.5 337.4h0M586.3 343.7h0M585.9 345.4h0M587.0 349.4h0M592.6 365.1h0M594.5 369.3h0M597.4 373.2h0M594.9 373.9h0M592.4 379.7h0M595.3 382.6h0M598.3 380.9h0M610.6 385.2h0M613.0 383.9h0M616.3 380.6h0M620.2 378.9h0M623.8 374.5h0M624.2 370.4h0M627.0 367.2h0M629.0 365.0h0M630.1 361.4h0M634.6 361.3h0M636.0 356.7h0M636.8 352.9h0M638.3 348.0h0M638.9 344.7h0M635.5 340.1h0M632.4 339.8h0M629.8 336.6h0M623.8 335.3h0M623.0 333.3h0M617.9 331.3h0M615.3 328.3h0M613.1 322.9h0M610.0 322.0h0M604.6 321.8h0M601.7 322.2h0M598.5 325.4h0M593.5 324.8h0"/>
<path stroke="#92b0dc" d="M655.1 379.0h0M658.1 389.4h0M652.0 383.5h0M658.8 383.4h0M650.5 380.1h0M650.8 385.4h0M657.4 385.8h0M655.6 376.0h0M660.4 393.2h0M650.7 378.5h0M663.7 397.2h0M660.8 386.9h0M653.6 387.8h0M653.4 380.5h0M655.9 379.5h0M652.2 380.9h0M658.9 378.8h0M650.6 376.2h0M650.0 381.3h0M646.7 385.2h0M652.9 386.1h0M655.6 390.9h0M658.3 393.0h0M661.6 396.4h0M664.8 400.4h0M665.7 393.6h0M663.1 391.3h0M661.4 386.7h0M659.2 383.3h0M659.3 379.4h0M658.7 376.8h0M652.5 374.1h0"/>
<path stroke="#b46cad" d="M635.8 439.8h0M633.2 440.0h0M637.5 440.0h0M639.3 438.7h0M633.2 439.1h0M647.6 432.2h0M641.5 434.7h0M635.7 440.2h0M639.6 438.6h0M644.7 440.4h0M641.2 434.8h0M644.8 439.6h0M633.0 439.7h0M635.3 439.7h0M644.5 433.5h0M643.2 434.2h0M632.5 434.2h0M644.3 440.0h0M648.4 432.7h0M637.7 436.2h0M632.7 438.9h0M629.7 434.7h0M633.5 438.3h0M632.7 441.6h0M637.6 442.7h0M641.5 442.3h0M648.3 441.6h0M648.2 437.7h0M650.4 432.2h0M645.8 430.9h0M643.8 430.0h0M639.4 429.7h0M636.4 431.4h0"/>
<path stroke="#b46cad" d="M660.6 443.0h0M667.1 444.4h0M657.5 443.3h0M661.4 446.1h0M662.6 438.6h0M658.1 443.1h0M662.4 446.2h0M669.7 444.6h0M659.8 447.0h0M660.1 443.3h0M665.3 438.3h0M665.9 437.0h0M659.8 444.2h0M664.0 441.1h0M659.2 446.5h0M656.2 442.5h0M653.4 442.4h0M655.0 445.1h0M658.7 448.2h0M662.5 448.5h0M666.1 446.2h0M672.1 446.7h0M671.5 440.6h0M672.5 436.0h0M667.5 435.5h0M664.4 436.9h0M659.6 437.2h0M656.0 439.1h0"/>
<path stroke="#f6b792" d="M683.0 65.1h0M694.1 76.5h0M686.8 77.5h0M683.8 72.6h0M680.7 63.8h0M682.4 70.0h0M688.1 74.8h0M692.7 78.8h0M682.7 64.8h0M681.8 63.1h0M687.5 72.4h0M692.0 76.1h0M692.5 87.7h0M691.7 78.5h0M685.4 65.4h0M692.6 83.8h0M690.6 82.8h0M692.1 80.4h0M680.2 70.6h0M685.9 74.9h0M688.5 78.2h0M680.5 64.1h0M693.4 76.4h0M680.7 68.9h0M694.9 83.2h0M680.3 63.1h0M676.4 66.7h0M677.6 71.8h0M681.3 74.2h0M684.8 79.7h0M688.2 78.9h0M690.2 83.2h0M693.3 87.0h0M694.7 90.0h0M697.5 83.7h0M694.8 80.6h0M693.2 77.0h0M688.5 65.8h0M686.4 61.2h0M680.5 60.2h0"/>
<path stroke="#4c5e78" d="M625.5 116.3h0M630.5 110.4h0M628.1 109.9h0M631.3 121.9h0M647.7 130.8h0M641.5 116.9h0M645.7 126.0h0M658.7 114.9h0M643.6 124.6h0M648.7 123.5h0M650.1 126.9h0M628.1 122.7h0M641.3 133.8h0M625.9 118.6h0M623.0 113.0h0M626.1 118.7h0M645.8 134.3h0M648.6 129.7h0M623.1 115.9h0M624.1 117.2h0M627.8 111.6h0M638.3 115.9h0M635.4 116.2h0M636.9 131.9h0M653.0 126.9h0M630.3 116.9h0M639.1 123.9h0M630.0 118.0h0M630.4 123.5h0M633.4 128.2h0M635.1 117.4h0M639.4 126.2h0M638.6 120.0h0M647.7 130.6h0M642.5 117.3h0M629.7 116.0h0M642.0 112.8h0M623.9 120.4h0M623.0 123.9h0M635.1 120.3h0M624.6 122.8h0M646.4 139.3h0M630.1 109.8h0M644.9 136.6h0M632.1 110.9h0M644.9 118.3h0M656.5 121.0h0M639.6 134.2h0M638.3 113.5h0M631.1 110.7h0M643.8 120.1h0M651.6 132.5h0M628.1 117.5h0M646.1 123.0h0M641.6 125.7h0M646.0 134.4h0M638.9 127.3h0M625.4 122.7h0M644.3 136.5h0M635.0 127.7h0M622.9 122.9h0M638.5 114.9h0M626.3 121.3h0M644.7 127.8h0M633.9 118.5h0M625.6 118.5h0M657.6 117.4h0M625.1 119.8h0M641.3 128.0h0M650.9 118.8h0M631.6 110.6h0M634.4 119.3h0M637.9 116.9h0M642.7 121.8h0M634.6 131.9h0M622.3 111.3h0M621.2 115.2h0M621.7 121.6h0M622.3 124.9h0M624.3 128.7h0M627.3 130.3h0M630.7 131.2h0M636.4 131.1h0M638.7 134.5h0M641.5 137.8h0M643.7 140.6h0M648.0 140.8h0M652.6 138.5h0M651.6 132.7h0M652.8 129.2h0M654.2 125.3h0M658.4 122.2h0M657.7 118.0h0M660.3 115.8h0M663.4 113.1h0M660.3 114.5h0M655.5 114.2h0M654.0 116.7h0M648.8 118.7h0M648.0 117.2h0M643.8 114.5h0M641.1 111.6h0M637.0 109.4h0M633.2 109.5h0M629.5 109.2h0M627.6 111.0h0"/>
<path stroke="#4c5e78" d="M671.4 136.2h0M670.6 126.7h0M673.0 134.1h0M672.0 136.0h0M671.8 126.0h0M668.6 130.0h0M670.1 134.8h0M671.1 137.4h0M675.5 136.3h0M673.7 133.7h0M672.0 129.4h0"/>
<path stroke="#c0a3cf" d="M869.4 155.9h0"/>
<path stroke="#c0a3cf" d="M866.2 161.9h0"/>
<path stroke="#dee9b1" d="M897.0 195.5h0"/>
<path stroke="#dee9b1" d="M899.0 198.0h0"/>
<path stroke="#e43725" d="M898.4 208.8h0"/>
<path stroke="#cbaa80" d="M880.4 332.1h0"/>
<path stroke="#85cdd2" d="M744.0 412.0h0"/>
<path stroke="#85cdd2" d="M749.0 416.0h0"/>
<path stroke="#e43725" d="M700.8 412.2h0"/>
<path stroke="#e6a225" d="M721.7 402.6h0"/>
<path stroke="#e6a225" d="M731.3 397.8h0"/>
<path stroke="#e6a225" d="M560.7 299.2h0"/>
<path stroke="#e6a225" d="M560.7 293.0h0"/>
<path stroke="#cbaa80" d="M580.2 318.5h0"/>
<path stroke="#6b76ab" d="M556.5 195.5h0"/>
<path stroke="#e43725" d="M554.3 227.0h0"/>
<path stroke="#6b76ab" d="M602.4 246.2h0"/>
<path stroke="#6b76ab" d="M637.6 260.6h0"/>
<path stroke="#6b76ab" d="M637.6 292.7h0"/>
<path stroke="#4c5e78" d="M636.0 161.0h0"/>
<path stroke="#0798d6" d="M710.0 131.0h0"/>
<path stroke="#e6a225" d="M711.0 157.0h0"/>
<path stroke="#0798d6" d="M770.0 233.0h0"/>
<path stroke="#0798d6" d="M785.0 232.0h0"/>
<path stroke="#0798d6" d="M778.0 226.0h0"/>
<path stroke="#e43725" d="M778.0 250.0h0"/>
<path stroke="#6b76ab" d="M665.0 394.0h0"/>
<path stroke="#e43725" d="M652.0 373.0h0"/>
<path stroke="#e6a225" d="M662.0 373.0h0"/>
<path stroke="#85cdd2" d="M669.0 318.0h0"/>
<path stroke="#f29ca6" d="M870.0 222.7h0"/>
<path stroke="#f29ca6" d="M867.3 232.0h0"/>
<path stroke="#f29ca6" d="M874.8 243.5h0"/>
<path stroke="#f29ca6" d="M887.0 245.4h0"/>
<path stroke="#f29ca6" d="M870.0 249.0h0"/>
<path stroke="#f29ca6" d="M881.0 251.0h0"/>
<path stroke="#f29ca6" d="M862.0 240.0h0"/>
<path stroke="#0798d6" d="M822.1 186.1h0"/>
<path stroke="#0798d6" d="M810.8 196.0h0"/>
<path stroke="#0798d6" d="M802.3 203.1h0"/>
<path stroke="#0798d6" d="M803.6 179.3h0"/>
<path stroke="#85cdd2" d="M770.0 350.0h0"/>
<path stroke="#85cdd2" d="M776.0 352.0h0"/>
<path stroke="#6b76ab" d="M700.0 361.0h0"/>
<path stroke="#6b76ab" d="M703.0 226.0h0M707.0 231.0h0M711.0 228.0h0M715.0 233.0h0M719.0 229.0h0M722.0 235.0h0M726.0 231.0h0M729.0 237.0h0M733.0 233.0h0M736.0 238.0h0M738.0 234.0h0M716.0 238.0h0M708.0 236.0h0M700.0 230.0h0M700.7 243.5h0M712.9 244.7h0M715.4 250.8h0M717.8 257.0h0M712.9 266.8h0M720.3 268.0h0M711.7 272.9h0M733.8 238.6h0M737.5 244.7h0M701.9 281.5h0M706.8 284.0h0M700.7 287.6h0M709.2 290.1h0M715.4 287.6h0M721.5 293.8h0M720.3 297.5h0M735.0 286.4h0M741.1 286.4h0M743.6 280.3h0M753.4 281.5h0M754.6 285.2h0M739.9 298.7h0M748.5 296.2h0M750.9 301.1h0M746.0 306.0h0M744.8 310.9h0M769.3 297.5h0M777.9 292.5h0M780.4 298.7h0M688.4 297.5h0M694.5 302.4h0M701.9 296.2h0M704.3 310.9h0M710.5 308.5h0M716.6 310.9h0M722.7 317.1h0M706.8 319.5h0M724.0 325.7h0M719.1 330.6h0M703.1 330.6h0M690.8 326.9h0M692.1 330.6h0M679.8 335.5h0M682.3 341.6h0M688.4 345.3h0M694.5 350.2h0M701.9 357.5h0M742.4 318.3h0M746.0 322.0h0M750.9 323.2h0M755.8 322.0h0M760.8 320.8h0M762.0 325.7h0M758.3 329.3h0M753.4 330.6h0M748.5 328.1h0M768.1 312.2h0M770.6 309.7h0M752.2 295.0h0M744.8 301.1h0M686.4 303.2h0M694.4 304.8h0M704.0 312.8h0M712.0 309.6h0M718.5 316.0h0M724.9 325.6h0M721.7 330.5h0M704.0 330.5h0M691.2 328.9h0M686.4 341.7h0M691.2 348.1h0M697.6 351.3h0M702.4 357.7h0M710.5 362.5h0M715.3 368.9h0M718.5 376.9h0M715.3 383.4h0M699.2 375.3h0M705.6 399.4h0M708.9 402.6h0M706.0 233.0h0M712.0 231.0h0M718.0 233.0h0M724.0 232.0h0M730.0 234.0h0M726.0 229.0h0M710.0 237.0h0M738.0 233.0h0"/>
</g>
<g font-family="'Liberation Sans', Arial, Helvetica, sans-serif" stroke="#111" stroke-width="0.5" font-size="22.9" fill="#111">
<circle cx="979" cy="96.5" r="9.6" fill="#f29ca6" stroke="none"/>
<text x="993" y="104.0">T<tspan font-size="13" dy="7">N</tspan><tspan dy="-7"> cells</tspan></text>
<circle cx="979" cy="119.3" r="9.6" fill="#e6a225" stroke="none"/>
<text x="993" y="126.8">Anti-tumoral Mac</text>
<circle cx="979" cy="142.1" r="9.6" fill="#0798d6" stroke="none"/>
<text x="993" y="149.6">NK cells</text>
<circle cx="979" cy="164.8" r="9.6" fill="#6b76ab" stroke="none"/>
<text x="993" y="172.3">Pro-tumoral Mac</text>
<circle cx="979" cy="187.6" r="9.6" fill="#85cdd2" stroke="none"/>
<text x="993" y="195.1">CD8<tspan font-size="13" dy="-8">+</tspan><tspan dy="8"> T effector cells</tspan></text>
<circle cx="979" cy="210.4" r="9.6" fill="#e43725" stroke="none"/>
<text x="993" y="217.9">cDCs</text>
<circle cx="979" cy="233.2" r="9.6" fill="#4c5e78" stroke="none"/>
<text x="993" y="240.7">B cells</text>
<circle cx="979" cy="256.0" r="9.6" fill="#cbaa80" stroke="none"/>
<text x="993" y="263.5">Treg cells</text>
<circle cx="979" cy="278.7" r="9.6" fill="#c1531c" stroke="none"/>
<text x="993" y="286.2">Monocytes</text>
<circle cx="979" cy="301.5" r="9.6" fill="#dee9b1" stroke="none"/>
<text x="993" y="309.0">pDCs</text>
<circle cx="979" cy="324.3" r="9.6" fill="#288a64" stroke="none"/>
<text x="993" y="331.8">Ki67<tspan font-size="13" dy="-8">+</tspan><tspan dy="8"> CD8</tspan><tspan font-size="13" dy="-8">+</tspan><tspan dy="8"> T cells</tspan></text>
<circle cx="979" cy="347.1" r="9.6" fill="#b46cad" stroke="none"/>
<text x="993" y="354.6">Neutrophils</text>
<circle cx="979" cy="369.9" r="9.6" fill="#f6b792" stroke="none"/>
<text x="993" y="377.4">gdT cells</text>
<circle cx="979" cy="392.6" r="9.6" fill="#92b0dc" stroke="none"/>
<text x="993" y="400.1">Migratory DCs</text>
<circle cx="979" cy="415.4" r="9.6" fill="#c0a3cf" stroke="none"/>
<text x="993" y="422.9">Mast cells</text>
</g>
<defs>
<filter id="bl" x="-20%" y="-60%" width="140%" height="220%"><feGaussianBlur stdDeviation="2.0"/></filter>
<filter id="halo" x="-30%" y="-100%" width="160%" height="300%"><feGaussianBlur stdDeviation="4"/></filter>
<filter id="bl2" x="-20%" y="-60%" width="140%" height="220%"><feGaussianBlur stdDeviation="1.6"/></filter>
<filter id="bg" x="-10%" y="-20%" width="120%" height="140%"><feGaussianBlur stdDeviation="2"/></filter>
<linearGradient id="g1" x1="0" x2="1" y1="0" y2="0"><stop offset="0" stop-color="#ececec"/><stop offset="0.45" stop-color="#e9e9e9"/><stop offset="1" stop-color="#e2e2e2"/></linearGradient>
<linearGradient id="g2" x1="0" x2="0" y1="0" y2="1"><stop offset="0" stop-color="#f7f7f7"/><stop offset="1" stop-color="#ececec"/></linearGradient>
</defs>
<rect x="1626" y="88" width="224" height="68" fill="url(#g1)" filter="url(#bg)"/>
<rect x="1629" y="197" width="224" height="67" fill="url(#g2)" filter="url(#bg)"/>
<rect x="1627" y="312.5" width="224" height="70" fill="#eeeeee" filter="url(#bg)"/>
<rect x="1624.5" y="412" width="222" height="66.5" fill="url(#g2)" filter="url(#bg)"/>
<g fill="#666" opacity="0.42" filter="url(#halo)">
<rect x="1650" y="103" width="90" height="25" rx="10"/>
<rect x="1750" y="106" width="87" height="35" rx="13"/>
<rect x="1641" y="216.5" width="99" height="29" rx="12"/>
<rect x="1749" y="220" width="92" height="32" rx="13"/>
<rect x="1642" y="319" width="101" height="51" rx="19"/>
<rect x="1757" y="343" width="81" height="15" rx="5"/>
<rect x="1757" y="336" width="81" height="16" rx="6"/>
<rect x="1757" y="349.5" width="81" height="15" rx="6"/>
<rect x="1640" y="434" width="99" height="27" rx="11"/>
<rect x="1751" y="441.5" width="96" height="28" rx="11"/>
</g>
<g filter="url(#bl)">
<rect x="1653" y="106" width="84" height="19" rx="7" fill="#090909"/>
<rect x="1753" y="109" width="81" height="29" rx="10" fill="#070707"/>
<rect x="1644" y="219.5" width="93" height="23" rx="9" fill="#080808"/>
<rect x="1752" y="223" width="86" height="26" rx="10" fill="#070707"/>
<rect x="1645" y="322" width="95" height="45" rx="16" fill="#060606"/>
<rect x="1760" y="346" width="75" height="9" rx="2" fill="#8a8a8a"/>
<rect x="1760" y="339" width="75" height="10" rx="3" fill="#0c0c0c"/>
<rect x="1760" y="352.5" width="75" height="9" rx="3" fill="#2a2a2a"/>
<rect x="1643" y="437" width="93" height="21" rx="8" fill="#080808"/>
<rect x="1754" y="444.5" width="90" height="22" rx="8" fill="#070707"/>
</g>
<g font-family="'Liberation Sans', Arial, Helvetica, sans-serif" fill="#0a0a0a" stroke="#0a0a0a" stroke-width="0.75">
<text x="1631" y="66.7" font-size="29" font-style="italic">Ythdf2<tspan font-size="17" dy="-9.8">f/f</tspan></text>
<text x="1749.6" y="66.7" font-size="29" font-style="italic">Ythdf2<tspan font-size="17" font-style="normal" dy="-9.8">cKO</tspan></text>
<g font-size="29.4" text-anchor="middle">
<text x="1376" y="164.7">Anti-tumoral</text><text x="1380" y="199.4">BMDMs</text>
<text x="1378.5" y="378.1">Pro-tumoral</text><text x="1382.5" y="412">BMDMs</text>
<text x="1549" y="111">iNOS</text><text x="1549" y="146.4">(130 KDa)</text>
<text x="1556.8" y="229.9">β-Actin</text><text x="1557" y="264.7">(43 KDa)</text>
<text x="1555" y="338">Arg1</text><text x="1556.5" y="373">(40 KDa)</text>
<text x="1557" y="440.2">β-Actin</text><text x="1557" y="475.4">(43 KDa)</text>
</g>
<g font-size="32.5" text-anchor="middle">
<text x="1690" y="181.6">1.0</text><text x="1795.5" y="181.6">1.6</text>
<text x="1695.7" y="409.8">1.0</text><text x="1796" y="409.8">0.32</text>
</g>
<g font-size="25">
<text x="1862" y="159.4">110</text><text x="1860.5" y="271.8">37</text><text x="1860" y="370">37</text><text x="1859.5" y="485.8">37</text>
</g>
</g>
<path d="M1850 150.2h10.5M1852 263.1h10M1849 361.5h9M1846.5 478h8.5" stroke="#333" stroke-width="1.3"/>
<path d="M1466.6 94.3V250M1466.6 312.9V469.8" stroke="#222" stroke-width="2"/>
</svg>
</body></html>
